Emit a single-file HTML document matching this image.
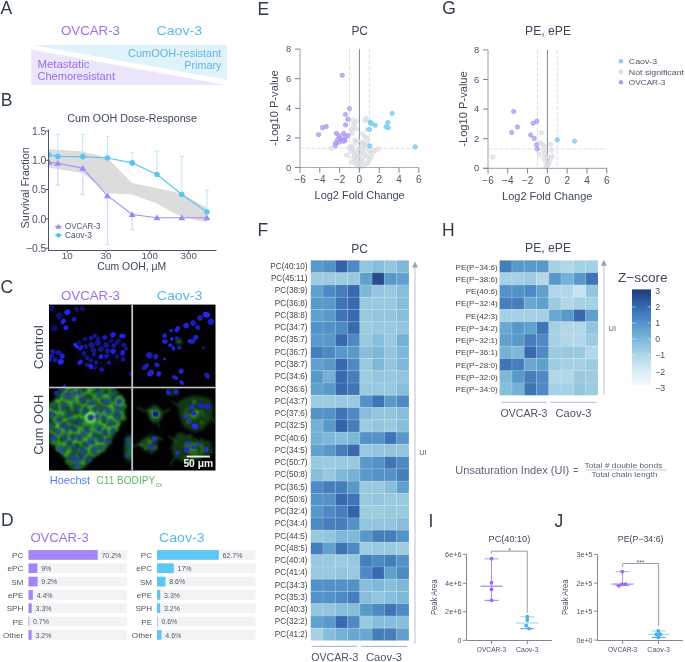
<!DOCTYPE html><html><head><meta charset="utf-8"><style>html,body{margin:0;padding:0;background:#fff;width:685px;height:662px;overflow:hidden}svg{display:block;will-change:transform}text{font-family:"Liberation Sans",sans-serif}</style></head><body><svg width="685" height="662" viewBox="0 0 685 662"><rect width="685" height="662" fill="#ffffff"/><text x="0.60" y="14.20" font-size="17.5" fill="#2f3a4b" >A</text>
<text x="0.80" y="105.80" font-size="17.5" fill="#2f3a4b" >B</text>
<text x="0.60" y="293.30" font-size="17.5" fill="#2f3a4b" >C</text>
<text x="0.90" y="526.00" font-size="17.5" fill="#2f3a4b" >D</text>
<text x="257.60" y="14.60" font-size="17.5" fill="#2f3a4b" >E</text>
<text x="257.50" y="236.10" font-size="17.5" fill="#2f3a4b" >F</text>
<text x="442.20" y="14.20" font-size="17.5" fill="#2f3a4b" >G</text>
<text x="442.00" y="236.10" font-size="17.5" fill="#2f3a4b" >H</text>
<text x="428.60" y="526.90" font-size="17.5" fill="#2f3a4b" >I</text>
<text x="554.60" y="527.20" font-size="17.5" fill="#2f3a4b" >J</text>
<polygon points="32.5,44.9 227.2,44.9 227.2,79.7" fill="#e0f2fa"/>
<polygon points="31.1,49.6 31.1,84.9 226.3,84.9" fill="#ebe6fc"/>
<text x="61.00" y="35.20" font-size="13.5" fill="#9d6ff2" textLength="59.00" lengthAdjust="spacingAndGlyphs" >OVCAR-3</text>
<text x="156.60" y="35.20" font-size="13.5" fill="#5cb9e6" textLength="45.40" lengthAdjust="spacingAndGlyphs" >Caov-3</text>
<text x="221.40" y="56.90" font-size="11" fill="#62b5e6" text-anchor="end" textLength="93.40" lengthAdjust="spacingAndGlyphs" >CumOOH-resistant</text>
<text x="221.40" y="69.00" font-size="11" fill="#62b5e6" text-anchor="end" textLength="37.10" lengthAdjust="spacingAndGlyphs" >Primary</text>
<text x="37.40" y="67.50" font-size="11" fill="#9a6cf0" textLength="52.00" lengthAdjust="spacingAndGlyphs" >Metastatic</text>
<text x="37.40" y="79.60" font-size="11" fill="#9a6cf0" textLength="77.60" lengthAdjust="spacingAndGlyphs" >Chemoresistant</text>
<text x="67.30" y="121.90" font-size="10" fill="#3d4859" textLength="129.60" lengthAdjust="spacingAndGlyphs" >Cum OOH Dose-Response</text>
<defs><clipPath id="cB"><rect x="48.6" y="120" width="175" height="130"/></clipPath></defs><g clip-path="url(#cB)">
<polygon points="48.3,149.2 82.8,151.6 107.5,158 132,183 181,193.3 207,207.7 207,222.2 181,216.8 156.5,203.3 132,194.4 107.6,193.3 82.8,173 48.3,167.5" fill="#dcdcdc"/>
<line x1="57.8" y1="163.3" x2="57.8" y2="185.1" stroke="#d2c4fb" stroke-width="0.9"/>
<line x1="55.599999999999994" y1="185.1" x2="60.0" y2="185.1" stroke="#d2c4fb" stroke-width="0.9"/>
<line x1="82.8" y1="168.2" x2="82.8" y2="194.4" stroke="#d2c4fb" stroke-width="0.9"/>
<line x1="80.6" y1="194.4" x2="85.0" y2="194.4" stroke="#d2c4fb" stroke-width="0.9"/>
<line x1="107.4" y1="195.7" x2="107.4" y2="244.7" stroke="#d2c4fb" stroke-width="0.9"/>
<line x1="105.2" y1="244.7" x2="109.60000000000001" y2="244.7" stroke="#d2c4fb" stroke-width="0.9"/>
<line x1="132.2" y1="214.5" x2="132.2" y2="229.6" stroke="#d2c4fb" stroke-width="0.9"/>
<line x1="130.0" y1="229.6" x2="134.39999999999998" y2="229.6" stroke="#d2c4fb" stroke-width="0.9"/>
<line x1="57.8" y1="156.4" x2="57.8" y2="134.4" stroke="#b5e3f8" stroke-width="0.9"/>
<line x1="55.599999999999994" y1="134.4" x2="60.0" y2="134.4" stroke="#b5e3f8" stroke-width="0.9"/>
<line x1="82.8" y1="156.6" x2="82.8" y2="134.4" stroke="#b5e3f8" stroke-width="0.9"/>
<line x1="80.6" y1="134.4" x2="85.0" y2="134.4" stroke="#b5e3f8" stroke-width="0.9"/>
<line x1="107.4" y1="158" x2="107.4" y2="136.3" stroke="#b5e3f8" stroke-width="0.9"/>
<line x1="105.2" y1="136.3" x2="109.60000000000001" y2="136.3" stroke="#b5e3f8" stroke-width="0.9"/>
<line x1="132.2" y1="162.9" x2="132.2" y2="152.3" stroke="#b5e3f8" stroke-width="0.9"/>
<line x1="130.0" y1="152.3" x2="134.39999999999998" y2="152.3" stroke="#b5e3f8" stroke-width="0.9"/>
<line x1="157" y1="174.5" x2="157" y2="151.3" stroke="#b5e3f8" stroke-width="0.9"/>
<line x1="154.8" y1="151.3" x2="159.2" y2="151.3" stroke="#b5e3f8" stroke-width="0.9"/>
<line x1="181.8" y1="194.5" x2="181.8" y2="156.4" stroke="#b5e3f8" stroke-width="0.9"/>
<line x1="179.60000000000002" y1="156.4" x2="184.0" y2="156.4" stroke="#b5e3f8" stroke-width="0.9"/>
<line x1="206.9" y1="212" x2="206.9" y2="190.2" stroke="#b5e3f8" stroke-width="0.9"/>
<line x1="204.70000000000002" y1="190.2" x2="209.1" y2="190.2" stroke="#b5e3f8" stroke-width="0.9"/>
<polyline points="49,162.3 57.8,163.3 82.8,168.2 107.4,195.7 132.2,214.5 157,217.7 181.8,217.7 206.9,217.7" fill="none" stroke="#a88af7" stroke-width="1.1"/>
<polyline points="49,155 57.8,156.4 82.8,156.6 107.4,158 132.2,162.9 157,174.5 181.8,194.5 206.9,212" fill="none" stroke="#5cc4f2" stroke-width="1.1"/>
<polygon points="49.00,159.00 52.47,164.78 45.53,164.78" fill="#a584f7"/>
<polygon points="57.80,160.00 61.27,165.78 54.33,165.78" fill="#a584f7"/>
<polygon points="82.80,164.90 86.27,170.67 79.33,170.67" fill="#a584f7"/>
<polygon points="107.40,192.40 110.87,198.17 103.94,198.17" fill="#a584f7"/>
<polygon points="132.20,211.20 135.66,216.97 128.73,216.97" fill="#a584f7"/>
<polygon points="157.00,214.40 160.47,220.17 153.53,220.17" fill="#a584f7"/>
<polygon points="181.80,214.40 185.27,220.17 178.34,220.17" fill="#a584f7"/>
<polygon points="206.90,214.40 210.37,220.17 203.44,220.17" fill="#a584f7"/>
<circle cx="49" cy="155" r="2.8" fill="#5cc4f2"/>
<circle cx="57.8" cy="156.4" r="2.8" fill="#5cc4f2"/>
<circle cx="82.8" cy="156.6" r="2.8" fill="#5cc4f2"/>
<circle cx="107.4" cy="158" r="2.8" fill="#5cc4f2"/>
<circle cx="132.2" cy="162.9" r="2.8" fill="#5cc4f2"/>
<circle cx="157" cy="174.5" r="2.8" fill="#5cc4f2"/>
<circle cx="181.8" cy="194.5" r="2.8" fill="#5cc4f2"/>
<circle cx="206.9" cy="212" r="2.8" fill="#5cc4f2"/>
</g>
<line x1="48.5" y1="129.5" x2="48.5" y2="250.8" stroke="#4a5466" stroke-width="1"/>
<line x1="48.5" y1="250.5" x2="216.5" y2="250.5" stroke="#4a5466" stroke-width="1"/>
<line x1="45.8" y1="131.00" x2="48.5" y2="131.00" stroke="#4a5466" stroke-width="1"/>
<text x="46.40" y="134.70" font-size="10.4" fill="#4a5466" text-anchor="end" >1.5</text>
<line x1="45.8" y1="160.30" x2="48.5" y2="160.30" stroke="#4a5466" stroke-width="1"/>
<text x="46.40" y="164.00" font-size="10.4" fill="#4a5466" text-anchor="end" >1.0</text>
<line x1="45.8" y1="189.60" x2="48.5" y2="189.60" stroke="#4a5466" stroke-width="1"/>
<text x="46.40" y="193.30" font-size="10.4" fill="#4a5466" text-anchor="end" >0.5</text>
<line x1="45.8" y1="218.90" x2="48.5" y2="218.90" stroke="#4a5466" stroke-width="1"/>
<text x="46.40" y="222.60" font-size="10.4" fill="#4a5466" text-anchor="end" >0.0</text>
<line x1="45.8" y1="248.20" x2="48.5" y2="248.20" stroke="#4a5466" stroke-width="1"/>
<text x="46.40" y="251.90" font-size="10.4" fill="#4a5466" text-anchor="end" >−0.5</text>
<line x1="67.2" y1="250.2" x2="67.2" y2="252.7" stroke="#4a5466" stroke-width="1"/>
<text x="67.20" y="258.90" font-size="9.8" fill="#4a5466" text-anchor="middle" >10</text>
<line x1="106" y1="250.2" x2="106" y2="252.7" stroke="#4a5466" stroke-width="1"/>
<text x="106.00" y="258.90" font-size="9.8" fill="#4a5466" text-anchor="middle" >30</text>
<line x1="149.7" y1="250.2" x2="149.7" y2="252.7" stroke="#4a5466" stroke-width="1"/>
<text x="149.70" y="258.90" font-size="9.8" fill="#4a5466" text-anchor="middle" >100</text>
<line x1="188.7" y1="250.2" x2="188.7" y2="252.7" stroke="#4a5466" stroke-width="1"/>
<text x="188.70" y="258.90" font-size="9.8" fill="#4a5466" text-anchor="middle" >300</text>
<text x="97.30" y="270.40" font-size="10.5" fill="#3d4859" textLength="68.80" lengthAdjust="spacingAndGlyphs" >Cum OOH, μM</text>
<text x="29.00" y="187.80" font-size="11" fill="#3d4859" text-anchor="middle" textLength="81.30" lengthAdjust="spacingAndGlyphs" transform="rotate(-90 29.00 187.80)" >Survival Fraction</text>
<line x1="55" y1="226.4" x2="62" y2="226.4" stroke="#a88af7" stroke-width="1.1"/>
<polygon points="58.40,223.80 61.34,228.70 55.46,228.70" fill="#a584f7"/>
<text x="65.00" y="229.30" font-size="9" fill="#4a5466" textLength="35.30" lengthAdjust="spacingAndGlyphs" >OVCAR-3</text>
<line x1="55" y1="235.3" x2="62" y2="235.3" stroke="#5cc4f2" stroke-width="1.1"/>
<circle cx="58.4" cy="235.3" r="2.3" fill="#5cc4f2"/>
<text x="65.00" y="238.40" font-size="9" fill="#4a5466" textLength="26.80" lengthAdjust="spacingAndGlyphs" >Caov-3</text>
<text x="61.00" y="299.60" font-size="13.5" fill="#9d6ff2" textLength="59.00" lengthAdjust="spacingAndGlyphs" >OVCAR-3</text>
<text x="156.80" y="299.50" font-size="13.5" fill="#5cb9e6" textLength="45.60" lengthAdjust="spacingAndGlyphs" >Caov-3</text>
<text x="43.10" y="347.20" font-size="13.5" fill="#3d4859" text-anchor="middle" textLength="44.30" lengthAdjust="spacingAndGlyphs" transform="rotate(-90 43.10 347.20)" >Control</text>
<text x="43.10" y="424.70" font-size="13.5" fill="#3d4859" text-anchor="middle" textLength="60.00" lengthAdjust="spacingAndGlyphs" transform="rotate(-90 43.10 424.70)" >Cum OOH</text>
<defs><filter id="b0" x="-50%" y="-50%" width="200%" height="200%"><feGaussianBlur stdDeviation="0.5"/></filter><filter id="b1" x="-50%" y="-50%" width="200%" height="200%"><feGaussianBlur stdDeviation="0.85"/></filter><filter id="b2" x="-50%" y="-50%" width="200%" height="200%"><feGaussianBlur stdDeviation="1.6"/></filter><filter id="b3" x="-20%" y="-20%" width="140%" height="140%"><feGaussianBlur stdDeviation="2.5"/></filter><filter id="b4" x="-30%" y="-30%" width="160%" height="160%"><feGaussianBlur stdDeviation="4"/></filter><clipPath id="c1"><rect x="49" y="304.6" width="83" height="82.9"/></clipPath><clipPath id="c2"><rect x="132.2" y="304.6" width="83.3" height="82.9"/></clipPath><clipPath id="c3"><rect x="49" y="387.5" width="83" height="83"/></clipPath><clipPath id="c4"><rect x="132.2" y="387.5" width="83.3" height="83"/></clipPath></defs>
<rect x="49" y="304.6" width="166.5" height="165.9" fill="#010103"/>
<g clip-path="url(#c1)" filter="url(#b4)" opacity="0.3"><ellipse cx="101" cy="351.6" rx="26" ry="18" fill="#0a0a40"/><ellipse cx="61" cy="320.6" rx="12" ry="12" fill="#08083a"/><ellipse cx="57" cy="355.6" rx="9" ry="8" fill="#0a0a3a"/></g>
<g clip-path="url(#c1)" filter="url(#b0)">
<ellipse cx="67.4" cy="312.2" rx="3.14" ry="2.69" fill="rgb(38, 38, 240)" fill-opacity="1.0" transform="rotate(-32 67.4 312.2)"/>
<ellipse cx="63.2" cy="321.4" rx="2.91" ry="2.24" fill="rgb(36, 36, 228)" fill-opacity="1.0" transform="rotate(-48 63.2 321.4)"/>
<ellipse cx="74.1" cy="319.2" rx="2.46" ry="2.02" fill="rgb(31, 31, 197)" fill-opacity="1.0" transform="rotate(-12 74.1 319.2)"/>
<ellipse cx="65.9" cy="327.7" rx="2.46" ry="2.24" fill="rgb(36, 36, 228)" fill-opacity="1.0" transform="rotate(-41 65.9 327.7)"/>
<ellipse cx="59.2" cy="315.8" rx="3.36" ry="3.14" fill="rgb(16, 16, 109)" fill-opacity="1.0" transform="rotate(-52 59.2 315.8)"/>
<ellipse cx="54.1" cy="328.1" rx="3.36" ry="2.80" fill="rgb(16, 16, 109)" fill-opacity="1.0" transform="rotate(-12 54.1 328.1)"/>
<ellipse cx="76.3" cy="309.0" rx="2.80" ry="2.24" fill="rgb(16, 16, 109)" fill-opacity="1.0" transform="rotate(50 76.3 309.0)"/>
<ellipse cx="82.6" cy="308.7" rx="2.80" ry="2.24" fill="rgb(17, 17, 116)" fill-opacity="1.0" transform="rotate(36 82.6 308.7)"/>
<ellipse cx="51.5" cy="308.4" rx="2.80" ry="2.80" fill="rgb(16, 16, 109)" fill-opacity="1.0" transform="rotate(32 51.5 308.4)"/>
<ellipse cx="113.1" cy="334.7" rx="2.91" ry="2.46" fill="rgb(34, 34, 218)" fill-opacity="1.0" transform="rotate(-33 113.1 334.7)"/>
<ellipse cx="122.4" cy="336.1" rx="3.36" ry="2.24" fill="rgb(36, 36, 228)" fill-opacity="1.0" transform="rotate(4 122.4 336.1)"/>
<ellipse cx="104.8" cy="337.6" rx="2.80" ry="2.24" fill="rgb(27, 27, 177)" fill-opacity="1.0" transform="rotate(-27 104.8 337.6)"/>
<ellipse cx="94.7" cy="335.7" rx="2.46" ry="2.24" fill="rgb(21, 21, 140)" fill-opacity="1.0" transform="rotate(-39 94.7 335.7)"/>
<ellipse cx="90.9" cy="338.2" rx="2.24" ry="2.02" fill="rgb(24, 24, 158)" fill-opacity="1.0" transform="rotate(-47 90.9 338.2)"/>
<ellipse cx="85.2" cy="338.9" rx="2.24" ry="2.02" fill="rgb(20, 20, 132)" fill-opacity="1.0" transform="rotate(-34 85.2 338.9)"/>
<ellipse cx="75.9" cy="345.5" rx="3.14" ry="2.13" fill="rgb(38, 38, 240)" fill-opacity="1.0" transform="rotate(51 75.9 345.5)"/>
<ellipse cx="80.7" cy="347.7" rx="2.24" ry="2.80" fill="rgb(31, 31, 197)" fill-opacity="1.0" transform="rotate(39 80.7 347.7)"/>
<ellipse cx="85.8" cy="346.5" rx="2.46" ry="2.24" fill="rgb(21, 21, 140)" fill-opacity="1.0" transform="rotate(37 85.8 346.5)"/>
<ellipse cx="91.5" cy="345.2" rx="3.14" ry="2.91" fill="rgb(20, 20, 132)" fill-opacity="1.0" transform="rotate(36 91.5 345.2)"/>
<ellipse cx="97.9" cy="342.7" rx="3.14" ry="2.91" fill="rgb(21, 21, 140)" fill-opacity="1.0" transform="rotate(-37 97.9 342.7)"/>
<ellipse cx="106.1" cy="345.2" rx="2.80" ry="2.80" fill="rgb(21, 21, 140)" fill-opacity="1.0" transform="rotate(-23 106.1 345.2)"/>
<ellipse cx="113.7" cy="345.8" rx="2.46" ry="2.46" fill="rgb(20, 20, 132)" fill-opacity="1.0" transform="rotate(15 113.7 345.8)"/>
<ellipse cx="123.9" cy="345.2" rx="2.46" ry="2.46" fill="rgb(21, 21, 140)" fill-opacity="1.0" transform="rotate(28 123.9 345.2)"/>
<ellipse cx="83.9" cy="353.5" rx="2.24" ry="2.24" fill="rgb(21, 21, 140)" fill-opacity="1.0" transform="rotate(43 83.9 353.5)"/>
<ellipse cx="93.4" cy="350.3" rx="2.91" ry="2.69" fill="rgb(20, 20, 132)" fill-opacity="1.0" transform="rotate(46 93.4 350.3)"/>
<ellipse cx="101.0" cy="349.0" rx="2.80" ry="2.80" fill="rgb(20, 20, 132)" fill-opacity="1.0" transform="rotate(-50 101.0 349.0)"/>
<ellipse cx="107.4" cy="350.9" rx="2.46" ry="2.46" fill="rgb(24, 24, 158)" fill-opacity="1.0" transform="rotate(13 107.4 350.9)"/>
<ellipse cx="113.1" cy="351.3" rx="2.80" ry="2.58" fill="rgb(34, 34, 218)" fill-opacity="1.0" transform="rotate(21 113.1 351.3)"/>
<ellipse cx="122.6" cy="352.8" rx="2.24" ry="2.91" fill="rgb(34, 34, 218)" fill-opacity="1.0" transform="rotate(1 122.6 352.8)"/>
<ellipse cx="101.0" cy="356.6" rx="2.58" ry="2.24" fill="rgb(36, 36, 228)" fill-opacity="1.0" transform="rotate(-39 101.0 356.6)"/>
<ellipse cx="106.7" cy="356.0" rx="2.46" ry="2.46" fill="rgb(24, 24, 158)" fill-opacity="1.0" transform="rotate(-3 106.7 356.0)"/>
<ellipse cx="87.1" cy="357.9" rx="2.24" ry="2.24" fill="rgb(20, 20, 132)" fill-opacity="1.0" transform="rotate(-49 87.1 357.9)"/>
<ellipse cx="90.9" cy="360.4" rx="2.24" ry="2.24" fill="rgb(20, 20, 132)" fill-opacity="1.0" transform="rotate(52 90.9 360.4)"/>
<ellipse cx="80.1" cy="362.3" rx="2.24" ry="2.91" fill="rgb(34, 34, 218)" fill-opacity="1.0" transform="rotate(44 80.1 362.3)"/>
<ellipse cx="87.1" cy="364.9" rx="2.24" ry="2.24" fill="rgb(21, 21, 140)" fill-opacity="1.0" transform="rotate(6 87.1 364.9)"/>
<ellipse cx="90.9" cy="366.5" rx="2.46" ry="2.69" fill="rgb(34, 34, 218)" fill-opacity="1.0" transform="rotate(-24 90.9 366.5)"/>
<ellipse cx="101.7" cy="369.6" rx="2.46" ry="2.24" fill="rgb(24, 24, 158)" fill-opacity="1.0" transform="rotate(49 101.7 369.6)"/>
<ellipse cx="123.2" cy="359.2" rx="2.46" ry="2.46" fill="rgb(21, 21, 140)" fill-opacity="1.0" transform="rotate(9 123.2 359.2)"/>
<ellipse cx="96.0" cy="362.6" rx="2.24" ry="2.24" fill="rgb(19, 19, 124)" fill-opacity="1.0" transform="rotate(46 96.0 362.6)"/>
<ellipse cx="94.0" cy="354.6" rx="2.24" ry="2.24" fill="rgb(19, 19, 124)" fill-opacity="1.0" transform="rotate(42 94.0 354.6)"/>
<ellipse cx="52.8" cy="351.6" rx="2.91" ry="2.46" fill="rgb(24, 24, 158)" fill-opacity="1.0" transform="rotate(1 52.8 351.6)"/>
<ellipse cx="58.5" cy="352.8" rx="2.69" ry="2.46" fill="rgb(24, 24, 158)" fill-opacity="1.0" transform="rotate(-10 58.5 352.8)"/>
<ellipse cx="62.3" cy="356.0" rx="2.46" ry="2.46" fill="rgb(36, 36, 228)" fill-opacity="1.0" transform="rotate(12 62.3 356.0)"/>
<ellipse cx="51.5" cy="356.0" rx="2.46" ry="2.24" fill="rgb(24, 24, 158)" fill-opacity="1.0" transform="rotate(-8 51.5 356.0)"/>
<ellipse cx="55.3" cy="359.8" rx="2.46" ry="2.24" fill="rgb(24, 24, 158)" fill-opacity="1.0" transform="rotate(-41 55.3 359.8)"/>
<ellipse cx="60.7" cy="361.7" rx="3.14" ry="2.69" fill="rgb(38, 38, 240)" fill-opacity="1.0" transform="rotate(-23 60.7 361.7)"/>
<ellipse cx="49.6" cy="359.8" rx="2.02" ry="2.46" fill="rgb(27, 27, 177)" fill-opacity="1.0" transform="rotate(38 49.6 359.8)"/>
<ellipse cx="64.2" cy="386.5" rx="2.46" ry="1.68" fill="rgb(27, 27, 177)" fill-opacity="1.0" transform="rotate(-55 64.2 386.5)"/>
<ellipse cx="130.9" cy="373.8" rx="1.68" ry="2.24" fill="rgb(21, 21, 140)" fill-opacity="1.0" transform="rotate(-54 130.9 373.8)"/>
<ellipse cx="109.0" cy="362.6" rx="2.24" ry="2.24" fill="rgb(19, 19, 124)" fill-opacity="1.0" transform="rotate(15 109.0 362.6)"/>
<ellipse cx="117.0" cy="342.6" rx="2.24" ry="2.24" fill="rgb(19, 19, 124)" fill-opacity="1.0" transform="rotate(-26 117.0 342.6)"/>
<ellipse cx="119.0" cy="340.6" rx="2.24" ry="2.24" fill="rgb(17, 17, 116)" fill-opacity="1.0" transform="rotate(4 119.0 340.6)"/>
<ellipse cx="111.0" cy="340.6" rx="2.24" ry="2.24" fill="rgb(17, 17, 116)" fill-opacity="1.0" transform="rotate(-3 111.0 340.6)"/>
<ellipse cx="98.0" cy="338.6" rx="2.24" ry="2.24" fill="rgb(19, 19, 124)" fill-opacity="1.0" transform="rotate(-19 98.0 338.6)"/>
<ellipse cx="79.0" cy="342.6" rx="2.24" ry="2.24" fill="rgb(17, 17, 116)" fill-opacity="1.0" transform="rotate(60 79.0 342.6)"/>
<ellipse cx="126.0" cy="348.6" rx="2.24" ry="2.24" fill="rgb(19, 19, 124)" fill-opacity="1.0" transform="rotate(-37 126.0 348.6)"/>
<ellipse cx="117.0" cy="356.6" rx="2.24" ry="2.24" fill="rgb(17, 17, 116)" fill-opacity="1.0" transform="rotate(-10 117.0 356.6)"/>
<ellipse cx="95.0" cy="367.6" rx="2.24" ry="2.24" fill="rgb(17, 17, 116)" fill-opacity="1.0" transform="rotate(-36 95.0 367.6)"/>
</g>
<ellipse cx="178.9" cy="341.4" rx="3" ry="3" fill="#1c5a24" filter="url(#b2)"/>
<g clip-path="url(#c2)" filter="url(#b0)">
<ellipse cx="206.4" cy="314.8" rx="3.80" ry="2.85" fill="rgb(38, 38, 240)" fill-opacity="1.0" transform="rotate(15 206.4 314.8)"/>
<ellipse cx="200.1" cy="317.9" rx="2.85" ry="2.85" fill="rgb(31, 31, 197)" fill-opacity="1.0" transform="rotate(29 200.1 317.9)"/>
<ellipse cx="210.9" cy="321.7" rx="3.32" ry="3.32" fill="rgb(29, 29, 186)" fill-opacity="1.0" transform="rotate(35 210.9 321.7)"/>
<ellipse cx="193.1" cy="323.0" rx="2.85" ry="2.85" fill="rgb(29, 29, 186)" fill-opacity="1.0" transform="rotate(53 193.1 323.0)"/>
<ellipse cx="186.1" cy="325.5" rx="2.85" ry="2.85" fill="rgb(32, 32, 207)" fill-opacity="1.0" transform="rotate(29 186.1 325.5)"/>
<ellipse cx="197.6" cy="327.4" rx="2.85" ry="2.38" fill="rgb(26, 26, 167)" fill-opacity="1.0" transform="rotate(51 197.6 327.4)"/>
<ellipse cx="177.3" cy="329.3" rx="3.32" ry="2.38" fill="rgb(32, 32, 207)" fill-opacity="1.0" transform="rotate(-57 177.3 329.3)"/>
<ellipse cx="170.9" cy="330.6" rx="2.38" ry="1.90" fill="rgb(26, 26, 167)" fill-opacity="1.0" transform="rotate(-4 170.9 330.6)"/>
<ellipse cx="164.6" cy="335.7" rx="2.38" ry="2.38" fill="rgb(32, 32, 207)" fill-opacity="1.0" transform="rotate(53 164.6 335.7)"/>
<ellipse cx="164.9" cy="341.4" rx="2.85" ry="2.38" fill="rgb(32, 32, 207)" fill-opacity="1.0" transform="rotate(18 164.9 341.4)"/>
<ellipse cx="171.8" cy="338.9" rx="1.90" ry="1.90" fill="rgb(36, 36, 228)" fill-opacity="1.0" transform="rotate(48 171.8 338.9)"/>
<ellipse cx="176.6" cy="338.2" rx="1.90" ry="1.90" fill="rgb(29, 29, 186)" fill-opacity="1.0" transform="rotate(-46 176.6 338.2)"/>
<ellipse cx="170.3" cy="345.2" rx="2.38" ry="1.90" fill="rgb(32, 32, 207)" fill-opacity="1.0" transform="rotate(-4 170.3 345.2)"/>
<ellipse cx="173.4" cy="348.4" rx="1.90" ry="2.38" fill="rgb(32, 32, 207)" fill-opacity="1.0" transform="rotate(-30 173.4 348.4)"/>
<ellipse cx="179.4" cy="347.7" rx="2.38" ry="1.90" fill="rgb(29, 29, 186)" fill-opacity="1.0" transform="rotate(5 179.4 347.7)"/>
<ellipse cx="191.2" cy="341.4" rx="3.80" ry="2.38" fill="rgb(32, 32, 207)" fill-opacity="1.0" transform="rotate(9 191.2 341.4)"/>
<ellipse cx="195.7" cy="337.6" rx="2.85" ry="2.38" fill="rgb(32, 32, 207)" fill-opacity="1.0" transform="rotate(-58 195.7 337.6)"/>
<ellipse cx="203.3" cy="347.7" rx="1.42" ry="1.90" fill="rgb(20, 20, 132)" fill-opacity="1.0" transform="rotate(-34 203.3 347.7)"/>
<ellipse cx="149.3" cy="355.4" rx="3.32" ry="3.32" fill="rgb(27, 27, 177)" fill-opacity="1.0" transform="rotate(-26 149.3 355.4)"/>
<ellipse cx="155.7" cy="356.6" rx="2.38" ry="2.85" fill="rgb(31, 31, 197)" fill-opacity="1.0" transform="rotate(50 155.7 356.6)"/>
<ellipse cx="164.6" cy="358.9" rx="1.42" ry="1.42" fill="rgb(36, 36, 228)" fill-opacity="1.0" transform="rotate(32 164.6 358.9)"/>
<ellipse cx="145.5" cy="366.8" rx="4.27" ry="2.38" fill="rgb(27, 27, 177)" fill-opacity="1.0" transform="rotate(-41 145.5 366.8)"/>
<ellipse cx="156.9" cy="364.9" rx="2.85" ry="2.38" fill="rgb(29, 29, 186)" fill-opacity="1.0" transform="rotate(36 156.9 364.9)"/>
<ellipse cx="150.6" cy="373.1" rx="3.80" ry="2.85" fill="rgb(32, 32, 207)" fill-opacity="1.0" transform="rotate(-43 150.6 373.1)"/>
<ellipse cx="158.8" cy="373.8" rx="2.38" ry="2.85" fill="rgb(32, 32, 207)" fill-opacity="1.0" transform="rotate(14 158.8 373.8)"/>
<ellipse cx="181.1" cy="371.2" rx="2.85" ry="2.38" fill="rgb(32, 32, 207)" fill-opacity="1.0" transform="rotate(-45 181.1 371.2)"/>
<ellipse cx="175.3" cy="377.6" rx="1.90" ry="3.32" fill="rgb(32, 32, 207)" fill-opacity="1.0" transform="rotate(-60 175.3 377.6)"/>
<ellipse cx="181.7" cy="382.6" rx="2.85" ry="1.90" fill="rgb(32, 32, 207)" fill-opacity="1.0" transform="rotate(45 181.7 382.6)"/>
<ellipse cx="207.1" cy="375.7" rx="2.38" ry="3.32" fill="rgb(29, 29, 186)" fill-opacity="1.0" transform="rotate(-35 207.1 375.7)"/>
<ellipse cx="132.7" cy="371.6" rx="0.95" ry="1.90" fill="rgb(21, 21, 140)" fill-opacity="1.0" transform="rotate(-34 132.7 371.6)"/>
</g>
<g clip-path="url(#c3)">
<polygon points="65.0,384.5 113.0,384.5 120.0,395.5 125.0,400.5 125.0,415.5 118.0,427.5 113.0,437.5 110.0,444.5 102.0,451.5 93.0,458.5 86.0,466.5 79.0,470.5 71.0,469.5 66.0,459.5 58.0,449.5 52.0,444.5 46.0,442.5 46.0,404.5 55.0,400.5 65.0,384.5" fill="#155c22" filter="url(#b2)"/>
<ellipse cx="130" cy="448.5" rx="5" ry="13" fill="#1a6a26" filter="url(#b3)"/>
<g filter="url(#b1)">
<circle cx="83.2" cy="432.5" r="3.0" fill="rgb(63,174,51)" fill-opacity="0.56"/>
<circle cx="62.2" cy="453.0" r="2.2" fill="rgb(46,193,38)" fill-opacity="0.43"/>
<circle cx="58.3" cy="430.8" r="3.0" fill="rgb(73,120,47)" fill-opacity="0.59"/>
<circle cx="99.3" cy="437.2" r="1.5" fill="rgb(68,116,37)" fill-opacity="0.32"/>
<circle cx="62.2" cy="405.8" r="1.3" fill="rgb(55,174,49)" fill-opacity="0.48"/>
<circle cx="62.6" cy="405.1" r="1.8" fill="rgb(40,115,49)" fill-opacity="0.50"/>
<circle cx="79.5" cy="431.8" r="3.1" fill="rgb(51,125,45)" fill-opacity="0.53"/>
<circle cx="88.0" cy="388.0" r="2.3" fill="rgb(60,128,38)" fill-opacity="0.55"/>
<circle cx="77.9" cy="466.0" r="2.9" fill="rgb(48,115,41)" fill-opacity="0.58"/>
<circle cx="51.2" cy="417.0" r="2.6" fill="rgb(39,168,53)" fill-opacity="0.49"/>
<circle cx="109.3" cy="408.2" r="1.4" fill="rgb(35,157,65)" fill-opacity="0.42"/>
<circle cx="120.8" cy="396.8" r="2.6" fill="rgb(38,116,49)" fill-opacity="0.54"/>
<circle cx="61.2" cy="432.5" r="2.1" fill="rgb(43,139,48)" fill-opacity="0.49"/>
<circle cx="56.3" cy="420.8" r="1.6" fill="rgb(72,149,44)" fill-opacity="0.60"/>
<circle cx="93.2" cy="389.0" r="1.5" fill="rgb(51,171,35)" fill-opacity="0.53"/>
<circle cx="73.3" cy="410.4" r="1.3" fill="rgb(48,126,53)" fill-opacity="0.49"/>
<circle cx="48.2" cy="416.5" r="2.4" fill="rgb(72,131,50)" fill-opacity="0.55"/>
<circle cx="57.9" cy="417.9" r="2.5" fill="rgb(49,154,61)" fill-opacity="0.48"/>
<circle cx="105.0" cy="398.8" r="2.5" fill="rgb(47,185,56)" fill-opacity="0.59"/>
<circle cx="80.7" cy="394.2" r="1.3" fill="rgb(50,147,58)" fill-opacity="0.51"/>
<circle cx="67.6" cy="454.7" r="2.4" fill="rgb(68,152,40)" fill-opacity="0.58"/>
<circle cx="85.3" cy="440.4" r="2.4" fill="rgb(52,124,41)" fill-opacity="0.58"/>
<circle cx="68.5" cy="422.9" r="1.3" fill="rgb(53,137,46)" fill-opacity="0.46"/>
<circle cx="58.1" cy="423.3" r="1.9" fill="rgb(72,181,65)" fill-opacity="0.34"/>
<circle cx="97.9" cy="426.0" r="2.7" fill="rgb(43,155,37)" fill-opacity="0.32"/>
<circle cx="90.7" cy="447.4" r="3.0" fill="rgb(56,131,46)" fill-opacity="0.33"/>
<circle cx="84.9" cy="392.0" r="2.9" fill="rgb(66,118,53)" fill-opacity="0.30"/>
<circle cx="100.0" cy="417.4" r="1.2" fill="rgb(40,124,37)" fill-opacity="0.49"/>
<circle cx="105.3" cy="418.1" r="2.7" fill="rgb(64,189,49)" fill-opacity="0.44"/>
<circle cx="90.3" cy="429.1" r="2.2" fill="rgb(73,154,37)" fill-opacity="0.44"/>
<circle cx="65.4" cy="444.2" r="2.2" fill="rgb(66,193,43)" fill-opacity="0.57"/>
<circle cx="76.4" cy="397.5" r="2.4" fill="rgb(45,181,59)" fill-opacity="0.57"/>
<circle cx="99.8" cy="422.6" r="3.0" fill="rgb(60,156,56)" fill-opacity="0.38"/>
<circle cx="97.7" cy="453.0" r="2.7" fill="rgb(48,140,47)" fill-opacity="0.37"/>
<circle cx="120.7" cy="403.1" r="1.5" fill="rgb(37,159,57)" fill-opacity="0.32"/>
<circle cx="56.0" cy="425.1" r="3.1" fill="rgb(59,167,55)" fill-opacity="0.46"/>
<circle cx="100.8" cy="445.7" r="2.9" fill="rgb(63,194,45)" fill-opacity="0.32"/>
<circle cx="92.6" cy="411.5" r="2.8" fill="rgb(43,117,47)" fill-opacity="0.44"/>
<circle cx="66.0" cy="397.3" r="1.3" fill="rgb(42,195,49)" fill-opacity="0.33"/>
<circle cx="89.8" cy="439.3" r="1.9" fill="rgb(47,124,41)" fill-opacity="0.55"/>
<circle cx="67.5" cy="445.5" r="2.7" fill="rgb(37,183,40)" fill-opacity="0.37"/>
<circle cx="109.3" cy="430.8" r="3.1" fill="rgb(74,179,59)" fill-opacity="0.35"/>
<circle cx="64.9" cy="420.0" r="3.0" fill="rgb(43,164,49)" fill-opacity="0.44"/>
<circle cx="77.1" cy="433.3" r="3.0" fill="rgb(64,158,45)" fill-opacity="0.50"/>
<circle cx="63.4" cy="446.1" r="2.8" fill="rgb(48,130,42)" fill-opacity="0.57"/>
<circle cx="90.0" cy="451.9" r="1.8" fill="rgb(57,117,51)" fill-opacity="0.32"/>
<circle cx="82.3" cy="431.7" r="2.7" fill="rgb(36,177,41)" fill-opacity="0.54"/>
<circle cx="60.8" cy="413.6" r="2.8" fill="rgb(65,132,39)" fill-opacity="0.60"/>
<circle cx="101.2" cy="422.5" r="3.0" fill="rgb(40,189,59)" fill-opacity="0.37"/>
<circle cx="89.1" cy="409.9" r="2.7" fill="rgb(68,136,51)" fill-opacity="0.55"/>
<circle cx="91.8" cy="411.7" r="2.0" fill="rgb(48,193,44)" fill-opacity="0.56"/>
<circle cx="92.8" cy="402.4" r="2.3" fill="rgb(35,179,54)" fill-opacity="0.41"/>
<circle cx="90.1" cy="389.2" r="3.0" fill="rgb(71,184,38)" fill-opacity="0.45"/>
<circle cx="102.3" cy="391.0" r="2.3" fill="rgb(60,167,43)" fill-opacity="0.37"/>
<circle cx="86.4" cy="414.0" r="3.0" fill="rgb(68,175,45)" fill-opacity="0.33"/>
<circle cx="80.6" cy="388.0" r="1.7" fill="rgb(37,117,41)" fill-opacity="0.35"/>
<circle cx="47.9" cy="409.4" r="2.6" fill="rgb(74,146,50)" fill-opacity="0.33"/>
<circle cx="105.5" cy="395.8" r="2.2" fill="rgb(47,147,57)" fill-opacity="0.46"/>
<circle cx="81.9" cy="417.1" r="2.0" fill="rgb(74,182,40)" fill-opacity="0.46"/>
<circle cx="116.1" cy="430.4" r="1.6" fill="rgb(69,142,54)" fill-opacity="0.48"/>
<circle cx="97.2" cy="414.7" r="1.6" fill="rgb(55,192,63)" fill-opacity="0.58"/>
<circle cx="118.0" cy="396.8" r="1.7" fill="rgb(51,126,47)" fill-opacity="0.33"/>
<circle cx="113.6" cy="420.9" r="2.8" fill="rgb(47,131,47)" fill-opacity="0.49"/>
<circle cx="110.9" cy="393.6" r="2.3" fill="rgb(58,160,38)" fill-opacity="0.51"/>
<circle cx="97.8" cy="414.4" r="3.2" fill="rgb(39,139,50)" fill-opacity="0.33"/>
<circle cx="50.0" cy="431.8" r="2.2" fill="rgb(65,187,39)" fill-opacity="0.36"/>
<circle cx="56.2" cy="400.0" r="1.5" fill="rgb(41,151,53)" fill-opacity="0.32"/>
<circle cx="108.2" cy="413.0" r="2.1" fill="rgb(57,180,48)" fill-opacity="0.36"/>
<circle cx="76.9" cy="438.8" r="1.3" fill="rgb(46,140,48)" fill-opacity="0.44"/>
<circle cx="106.1" cy="419.5" r="1.6" fill="rgb(41,136,51)" fill-opacity="0.54"/>
<circle cx="72.9" cy="392.6" r="2.9" fill="rgb(60,195,53)" fill-opacity="0.48"/>
<circle cx="111.4" cy="407.2" r="3.0" fill="rgb(60,135,39)" fill-opacity="0.57"/>
<circle cx="79.5" cy="446.2" r="1.3" fill="rgb(54,158,50)" fill-opacity="0.33"/>
<circle cx="70.9" cy="403.6" r="2.0" fill="rgb(69,138,37)" fill-opacity="0.42"/>
<circle cx="103.1" cy="449.5" r="3.2" fill="rgb(42,117,54)" fill-opacity="0.33"/>
<circle cx="66.0" cy="422.8" r="2.2" fill="rgb(59,140,35)" fill-opacity="0.33"/>
<circle cx="67.1" cy="461.6" r="2.3" fill="rgb(61,180,65)" fill-opacity="0.46"/>
<circle cx="114.7" cy="393.9" r="2.1" fill="rgb(70,124,54)" fill-opacity="0.50"/>
<circle cx="123.4" cy="418.0" r="3.1" fill="rgb(65,164,40)" fill-opacity="0.56"/>
<circle cx="90.4" cy="435.6" r="2.1" fill="rgb(61,178,44)" fill-opacity="0.46"/>
<circle cx="94.8" cy="416.2" r="1.8" fill="rgb(70,149,64)" fill-opacity="0.39"/>
<circle cx="104.3" cy="410.4" r="1.2" fill="rgb(72,146,36)" fill-opacity="0.49"/>
<circle cx="79.7" cy="443.0" r="1.3" fill="rgb(60,155,36)" fill-opacity="0.47"/>
<circle cx="104.8" cy="412.3" r="2.8" fill="rgb(62,143,58)" fill-opacity="0.44"/>
<circle cx="124.9" cy="406.0" r="2.2" fill="rgb(44,174,65)" fill-opacity="0.55"/>
<circle cx="95.3" cy="395.2" r="2.4" fill="rgb(42,173,41)" fill-opacity="0.56"/>
<circle cx="75.5" cy="398.5" r="1.9" fill="rgb(61,132,49)" fill-opacity="0.48"/>
<circle cx="98.2" cy="442.8" r="1.9" fill="rgb(43,182,65)" fill-opacity="0.39"/>
<circle cx="57.3" cy="425.9" r="2.2" fill="rgb(67,154,54)" fill-opacity="0.55"/>
<circle cx="69.0" cy="436.7" r="2.7" fill="rgb(47,190,55)" fill-opacity="0.38"/>
<circle cx="87.2" cy="440.3" r="1.6" fill="rgb(75,120,36)" fill-opacity="0.30"/>
<circle cx="67.8" cy="387.8" r="1.3" fill="rgb(69,143,43)" fill-opacity="0.32"/>
<circle cx="53.9" cy="442.3" r="2.3" fill="rgb(58,195,50)" fill-opacity="0.44"/>
<circle cx="63.9" cy="414.4" r="2.7" fill="rgb(42,124,49)" fill-opacity="0.54"/>
<circle cx="96.9" cy="450.1" r="1.6" fill="rgb(51,169,47)" fill-opacity="0.54"/>
<circle cx="76.5" cy="440.4" r="3.2" fill="rgb(53,156,52)" fill-opacity="0.53"/>
<circle cx="113.1" cy="400.9" r="2.5" fill="rgb(41,189,49)" fill-opacity="0.56"/>
<circle cx="92.1" cy="426.2" r="2.6" fill="rgb(35,153,37)" fill-opacity="0.39"/>
<circle cx="102.6" cy="427.1" r="2.7" fill="rgb(53,156,63)" fill-opacity="0.34"/>
<circle cx="75.6" cy="446.5" r="1.9" fill="rgb(55,130,57)" fill-opacity="0.43"/>
<circle cx="102.0" cy="409.0" r="2.3" fill="rgb(64,154,45)" fill-opacity="0.37"/>
<circle cx="88.3" cy="392.6" r="2.9" fill="rgb(58,118,56)" fill-opacity="0.42"/>
<circle cx="78.0" cy="401.9" r="2.3" fill="rgb(69,164,39)" fill-opacity="0.55"/>
<circle cx="92.0" cy="400.3" r="2.7" fill="rgb(36,151,42)" fill-opacity="0.45"/>
<circle cx="90.5" cy="433.2" r="3.1" fill="rgb(39,169,53)" fill-opacity="0.46"/>
<circle cx="110.0" cy="392.6" r="1.4" fill="rgb(55,128,37)" fill-opacity="0.31"/>
<circle cx="99.3" cy="393.7" r="2.8" fill="rgb(50,169,57)" fill-opacity="0.37"/>
<circle cx="108.2" cy="429.3" r="2.7" fill="rgb(57,165,45)" fill-opacity="0.54"/>
<circle cx="73.6" cy="397.0" r="2.2" fill="rgb(74,124,64)" fill-opacity="0.31"/>
<circle cx="74.9" cy="385.8" r="2.0" fill="rgb(64,126,65)" fill-opacity="0.46"/>
<circle cx="48.9" cy="415.9" r="1.2" fill="rgb(61,129,64)" fill-opacity="0.43"/>
<circle cx="58.7" cy="447.8" r="3.2" fill="rgb(45,163,45)" fill-opacity="0.36"/>
<circle cx="81.0" cy="410.0" r="3.1" fill="rgb(65,122,44)" fill-opacity="0.52"/>
<circle cx="71.3" cy="398.6" r="3.0" fill="rgb(64,122,35)" fill-opacity="0.48"/>
<circle cx="55.7" cy="401.0" r="1.6" fill="rgb(73,145,57)" fill-opacity="0.44"/>
<circle cx="87.7" cy="422.6" r="3.0" fill="rgb(46,166,64)" fill-opacity="0.53"/>
<circle cx="71.9" cy="431.6" r="2.8" fill="rgb(51,176,50)" fill-opacity="0.57"/>
<circle cx="120.1" cy="414.2" r="2.3" fill="rgb(65,126,62)" fill-opacity="0.37"/>
<circle cx="111.1" cy="417.8" r="2.3" fill="rgb(52,181,60)" fill-opacity="0.60"/>
<circle cx="99.6" cy="405.5" r="1.2" fill="rgb(58,175,49)" fill-opacity="0.54"/>
<circle cx="104.1" cy="436.4" r="1.5" fill="rgb(55,135,39)" fill-opacity="0.38"/>
<circle cx="116.5" cy="428.9" r="2.5" fill="rgb(52,194,51)" fill-opacity="0.46"/>
<circle cx="59.1" cy="450.2" r="1.2" fill="rgb(43,134,37)" fill-opacity="0.41"/>
<circle cx="96.2" cy="429.8" r="3.0" fill="rgb(40,174,65)" fill-opacity="0.52"/>
<circle cx="90.5" cy="428.0" r="1.2" fill="rgb(61,139,41)" fill-opacity="0.58"/>
<circle cx="63.7" cy="431.1" r="2.3" fill="rgb(54,135,45)" fill-opacity="0.39"/>
<circle cx="53.1" cy="411.2" r="2.1" fill="rgb(58,123,37)" fill-opacity="0.51"/>
<circle cx="55.5" cy="418.6" r="2.1" fill="rgb(63,130,35)" fill-opacity="0.56"/>
<circle cx="103.9" cy="425.4" r="1.8" fill="rgb(64,129,59)" fill-opacity="0.30"/>
<circle cx="63.5" cy="437.2" r="1.8" fill="rgb(69,163,58)" fill-opacity="0.39"/>
<circle cx="74.0" cy="418.4" r="2.5" fill="rgb(47,147,41)" fill-opacity="0.41"/>
<circle cx="55.8" cy="411.5" r="1.7" fill="rgb(75,175,45)" fill-opacity="0.43"/>
<circle cx="77.6" cy="394.1" r="2.4" fill="rgb(75,131,57)" fill-opacity="0.35"/>
<circle cx="84.1" cy="444.6" r="1.4" fill="rgb(45,119,38)" fill-opacity="0.43"/>
<circle cx="108.7" cy="414.2" r="2.8" fill="rgb(43,180,55)" fill-opacity="0.36"/>
<circle cx="58.8" cy="443.6" r="2.2" fill="rgb(74,167,35)" fill-opacity="0.52"/>
<circle cx="96.0" cy="412.2" r="2.8" fill="rgb(73,146,51)" fill-opacity="0.31"/>
<circle cx="73.5" cy="414.2" r="2.5" fill="rgb(70,128,47)" fill-opacity="0.36"/>
<circle cx="73.6" cy="410.2" r="1.4" fill="rgb(51,135,59)" fill-opacity="0.46"/>
<circle cx="70.9" cy="405.1" r="2.4" fill="rgb(44,180,53)" fill-opacity="0.51"/>
<circle cx="97.2" cy="402.1" r="1.4" fill="rgb(65,146,53)" fill-opacity="0.43"/>
<circle cx="73.7" cy="393.2" r="2.9" fill="rgb(64,149,63)" fill-opacity="0.34"/>
<circle cx="91.9" cy="432.6" r="1.7" fill="rgb(73,157,39)" fill-opacity="0.34"/>
<circle cx="113.0" cy="409.7" r="3.0" fill="rgb(71,145,46)" fill-opacity="0.55"/>
<circle cx="61.8" cy="431.5" r="1.4" fill="rgb(60,119,40)" fill-opacity="0.53"/>
<circle cx="58.1" cy="449.0" r="2.9" fill="rgb(74,163,53)" fill-opacity="0.49"/>
<circle cx="108.1" cy="398.8" r="2.0" fill="rgb(44,119,51)" fill-opacity="0.42"/>
<circle cx="92.6" cy="400.1" r="2.2" fill="rgb(50,148,53)" fill-opacity="0.58"/>
<circle cx="79.3" cy="427.3" r="1.4" fill="rgb(61,159,63)" fill-opacity="0.49"/>
<circle cx="102.1" cy="449.2" r="2.7" fill="rgb(64,177,61)" fill-opacity="0.57"/>
<circle cx="122.1" cy="413.3" r="2.2" fill="rgb(36,168,45)" fill-opacity="0.57"/>
<circle cx="70.7" cy="437.3" r="2.1" fill="rgb(73,163,45)" fill-opacity="0.53"/>
<circle cx="71.4" cy="435.3" r="1.3" fill="rgb(63,130,42)" fill-opacity="0.45"/>
<circle cx="78.7" cy="389.9" r="2.6" fill="rgb(50,182,52)" fill-opacity="0.39"/>
<circle cx="78.6" cy="405.3" r="1.3" fill="rgb(69,162,48)" fill-opacity="0.47"/>
<circle cx="60.1" cy="440.1" r="2.0" fill="rgb(39,130,38)" fill-opacity="0.46"/>
<circle cx="93.1" cy="423.6" r="1.8" fill="rgb(36,153,45)" fill-opacity="0.35"/>
<circle cx="82.3" cy="423.3" r="2.3" fill="rgb(57,133,57)" fill-opacity="0.48"/>
<circle cx="118.9" cy="411.4" r="2.2" fill="rgb(48,175,41)" fill-opacity="0.39"/>
<circle cx="75.3" cy="425.2" r="1.5" fill="rgb(47,186,52)" fill-opacity="0.49"/>
<circle cx="105.1" cy="411.8" r="3.0" fill="rgb(43,168,45)" fill-opacity="0.51"/>
<circle cx="53.3" cy="404.3" r="1.8" fill="rgb(52,140,40)" fill-opacity="0.52"/>
<circle cx="87.1" cy="410.3" r="1.7" fill="rgb(42,182,53)" fill-opacity="0.45"/>
<circle cx="61.4" cy="404.5" r="1.5" fill="rgb(64,126,37)" fill-opacity="0.43"/>
<circle cx="89.3" cy="430.1" r="1.3" fill="rgb(72,191,44)" fill-opacity="0.46"/>
<circle cx="80.9" cy="433.3" r="1.5" fill="rgb(50,139,40)" fill-opacity="0.38"/>
<circle cx="90.8" cy="401.2" r="3.0" fill="rgb(74,119,49)" fill-opacity="0.57"/>
<circle cx="93.8" cy="385.7" r="3.0" fill="rgb(46,122,37)" fill-opacity="0.47"/>
<circle cx="98.6" cy="415.7" r="2.5" fill="rgb(68,119,44)" fill-opacity="0.45"/>
<circle cx="60.9" cy="451.0" r="1.5" fill="rgb(62,192,42)" fill-opacity="0.50"/>
<circle cx="90.8" cy="407.0" r="2.6" fill="rgb(51,145,50)" fill-opacity="0.46"/>
<circle cx="67.9" cy="402.5" r="3.1" fill="rgb(71,121,49)" fill-opacity="0.56"/>
<circle cx="61.4" cy="398.3" r="1.2" fill="rgb(62,178,51)" fill-opacity="0.43"/>
<circle cx="68.0" cy="452.6" r="1.3" fill="rgb(71,137,55)" fill-opacity="0.46"/>
<circle cx="110.3" cy="405.5" r="1.5" fill="rgb(62,154,36)" fill-opacity="0.51"/>
<circle cx="86.9" cy="440.1" r="2.2" fill="rgb(51,163,42)" fill-opacity="0.35"/>
<circle cx="109.9" cy="390.6" r="2.0" fill="rgb(48,161,57)" fill-opacity="0.59"/>
<circle cx="50.4" cy="426.6" r="2.7" fill="rgb(44,132,58)" fill-opacity="0.44"/>
<circle cx="106.6" cy="388.8" r="1.7" fill="rgb(44,182,37)" fill-opacity="0.42"/>
<circle cx="70.8" cy="421.2" r="1.4" fill="rgb(74,119,42)" fill-opacity="0.39"/>
<circle cx="80.5" cy="392.7" r="1.7" fill="rgb(56,154,65)" fill-opacity="0.59"/>
<circle cx="95.9" cy="388.8" r="2.0" fill="rgb(56,122,53)" fill-opacity="0.51"/>
<circle cx="117.9" cy="424.4" r="2.0" fill="rgb(59,142,47)" fill-opacity="0.53"/>
<circle cx="64.2" cy="414.7" r="1.6" fill="rgb(45,185,50)" fill-opacity="0.36"/>
<circle cx="64.2" cy="424.8" r="1.8" fill="rgb(66,172,55)" fill-opacity="0.50"/>
<circle cx="116.0" cy="402.7" r="2.0" fill="rgb(38,124,57)" fill-opacity="0.38"/>
<circle cx="88.5" cy="447.8" r="2.2" fill="rgb(48,187,43)" fill-opacity="0.33"/>
<circle cx="109.1" cy="397.0" r="1.7" fill="rgb(36,130,45)" fill-opacity="0.55"/>
<circle cx="83.0" cy="457.3" r="2.0" fill="rgb(68,147,56)" fill-opacity="0.32"/>
<circle cx="78.5" cy="405.5" r="1.3" fill="rgb(67,134,54)" fill-opacity="0.34"/>
<circle cx="63.7" cy="420.0" r="2.2" fill="rgb(68,132,57)" fill-opacity="0.46"/>
</g>
<g filter="url(#b1)">
<line x1="53.2" y1="420.2" x2="58.3" y2="413.1" stroke="rgb(110,233,82)" stroke-opacity="0.34" stroke-width="1.7"/>
<line x1="46.0" y1="407.8" x2="58.3" y2="413.1" stroke="rgb(103,222,87)" stroke-opacity="0.51" stroke-width="1.7"/>
<line x1="74.8" y1="384.5" x2="77.5" y2="398.0" stroke="rgb(115,213,82)" stroke-opacity="0.46" stroke-width="1.7"/>
<line x1="69.7" y1="384.5" x2="68.7" y2="387.6" stroke="rgb(112,219,73)" stroke-opacity="0.39" stroke-width="1.7"/>
<line x1="77.5" y1="398.0" x2="75.5" y2="401.0" stroke="rgb(112,218,74)" stroke-opacity="0.31" stroke-width="1.7"/>
<line x1="75.5" y1="401.0" x2="73.3" y2="401.4" stroke="rgb(91,235,88)" stroke-opacity="0.30" stroke-width="1.7"/>
<line x1="77.5" y1="398.0" x2="89.1" y2="391.4" stroke="rgb(109,209,76)" stroke-opacity="0.47" stroke-width="1.7"/>
<line x1="89.1" y1="391.4" x2="89.4" y2="384.5" stroke="rgb(112,212,81)" stroke-opacity="0.37" stroke-width="1.7"/>
<line x1="62.4" y1="394.9" x2="68.7" y2="387.6" stroke="rgb(130,221,72)" stroke-opacity="0.54" stroke-width="1.7"/>
<line x1="53.2" y1="420.2" x2="57.0" y2="425.2" stroke="rgb(97,230,85)" stroke-opacity="0.32" stroke-width="1.7"/>
<line x1="51.9" y1="431.5" x2="57.0" y2="425.6" stroke="rgb(114,226,79)" stroke-opacity="0.45" stroke-width="1.7"/>
<line x1="57.0" y1="425.2" x2="57.0" y2="425.6" stroke="rgb(107,219,75)" stroke-opacity="0.58" stroke-width="1.7"/>
<line x1="62.4" y1="394.9" x2="61.6" y2="399.4" stroke="rgb(102,235,75)" stroke-opacity="0.41" stroke-width="1.7"/>
<line x1="73.3" y1="401.4" x2="71.2" y2="402.9" stroke="rgb(105,238,72)" stroke-opacity="0.52" stroke-width="1.7"/>
<line x1="71.2" y1="402.9" x2="61.6" y2="399.4" stroke="rgb(117,214,85)" stroke-opacity="0.47" stroke-width="1.7"/>
<line x1="55.1" y1="400.4" x2="58.8" y2="400.9" stroke="rgb(125,224,70)" stroke-opacity="0.57" stroke-width="1.7"/>
<line x1="61.6" y1="399.4" x2="58.8" y2="400.9" stroke="rgb(97,228,72)" stroke-opacity="0.57" stroke-width="1.7"/>
<line x1="58.3" y1="413.1" x2="60.1" y2="412.5" stroke="rgb(107,208,82)" stroke-opacity="0.45" stroke-width="1.7"/>
<line x1="58.8" y1="400.9" x2="60.1" y2="412.5" stroke="rgb(127,224,85)" stroke-opacity="0.52" stroke-width="1.7"/>
<line x1="69.0" y1="439.2" x2="69.0" y2="433.1" stroke="rgb(106,209,70)" stroke-opacity="0.31" stroke-width="1.7"/>
<line x1="69.0" y1="439.2" x2="62.7" y2="443.4" stroke="rgb(110,228,88)" stroke-opacity="0.39" stroke-width="1.7"/>
<line x1="59.0" y1="437.4" x2="59.0" y2="442.2" stroke="rgb(101,235,82)" stroke-opacity="0.48" stroke-width="1.7"/>
<line x1="59.0" y1="437.4" x2="63.6" y2="432.0" stroke="rgb(113,206,88)" stroke-opacity="0.51" stroke-width="1.7"/>
<line x1="63.6" y1="432.0" x2="69.0" y2="433.1" stroke="rgb(103,209,90)" stroke-opacity="0.31" stroke-width="1.7"/>
<line x1="62.7" y1="443.4" x2="59.0" y2="442.2" stroke="rgb(124,231,89)" stroke-opacity="0.42" stroke-width="1.7"/>
<line x1="74.0" y1="442.5" x2="69.0" y2="439.2" stroke="rgb(107,209,84)" stroke-opacity="0.56" stroke-width="1.7"/>
<line x1="74.0" y1="442.5" x2="68.4" y2="451.0" stroke="rgb(114,229,71)" stroke-opacity="0.54" stroke-width="1.7"/>
<line x1="68.3" y1="451.0" x2="68.4" y2="451.0" stroke="rgb(122,222,79)" stroke-opacity="0.45" stroke-width="1.7"/>
<line x1="68.3" y1="451.0" x2="62.7" y2="443.4" stroke="rgb(120,206,74)" stroke-opacity="0.48" stroke-width="1.7"/>
<line x1="51.9" y1="431.5" x2="59.0" y2="437.4" stroke="rgb(107,219,78)" stroke-opacity="0.50" stroke-width="1.7"/>
<line x1="63.0" y1="430.6" x2="57.0" y2="425.6" stroke="rgb(105,238,70)" stroke-opacity="0.58" stroke-width="1.7"/>
<line x1="63.0" y1="430.6" x2="63.6" y2="432.0" stroke="rgb(115,205,77)" stroke-opacity="0.46" stroke-width="1.7"/>
<line x1="68.3" y1="451.0" x2="64.0" y2="457.0" stroke="rgb(125,210,89)" stroke-opacity="0.55" stroke-width="1.7"/>
<line x1="69.2" y1="433.0" x2="76.0" y2="433.8" stroke="rgb(111,221,81)" stroke-opacity="0.33" stroke-width="1.7"/>
<line x1="69.2" y1="433.0" x2="71.2" y2="425.9" stroke="rgb(91,225,76)" stroke-opacity="0.51" stroke-width="1.7"/>
<line x1="75.1" y1="425.0" x2="71.2" y2="425.9" stroke="rgb(100,217,75)" stroke-opacity="0.35" stroke-width="1.7"/>
<line x1="75.1" y1="425.0" x2="79.9" y2="428.4" stroke="rgb(129,236,88)" stroke-opacity="0.39" stroke-width="1.7"/>
<line x1="79.9" y1="428.4" x2="78.0" y2="432.5" stroke="rgb(116,223,81)" stroke-opacity="0.52" stroke-width="1.7"/>
<line x1="76.0" y1="433.8" x2="78.0" y2="432.5" stroke="rgb(124,236,77)" stroke-opacity="0.49" stroke-width="1.7"/>
<line x1="74.0" y1="442.5" x2="76.0" y2="442.1" stroke="rgb(113,225,75)" stroke-opacity="0.58" stroke-width="1.7"/>
<line x1="76.0" y1="442.1" x2="76.0" y2="433.8" stroke="rgb(98,209,72)" stroke-opacity="0.55" stroke-width="1.7"/>
<line x1="69.0" y1="433.1" x2="69.2" y2="433.0" stroke="rgb(109,212,84)" stroke-opacity="0.45" stroke-width="1.7"/>
<line x1="63.0" y1="430.6" x2="67.0" y2="422.4" stroke="rgb(120,207,75)" stroke-opacity="0.49" stroke-width="1.7"/>
<line x1="67.0" y1="422.4" x2="71.2" y2="425.9" stroke="rgb(116,235,71)" stroke-opacity="0.40" stroke-width="1.7"/>
<line x1="76.0" y1="442.1" x2="79.9" y2="443.6" stroke="rgb(115,237,82)" stroke-opacity="0.38" stroke-width="1.7"/>
<line x1="78.0" y1="432.5" x2="84.5" y2="439.0" stroke="rgb(130,221,81)" stroke-opacity="0.51" stroke-width="1.7"/>
<line x1="79.9" y1="443.6" x2="84.5" y2="439.0" stroke="rgb(110,216,80)" stroke-opacity="0.56" stroke-width="1.7"/>
<line x1="106.0" y1="394.4" x2="112.5" y2="402.0" stroke="rgb(103,213,88)" stroke-opacity="0.60" stroke-width="1.7"/>
<line x1="89.1" y1="391.4" x2="89.9" y2="393.7" stroke="rgb(98,222,75)" stroke-opacity="0.34" stroke-width="1.7"/>
<line x1="106.0" y1="394.4" x2="98.9" y2="400.6" stroke="rgb(114,223,77)" stroke-opacity="0.50" stroke-width="1.7"/>
<line x1="89.9" y1="393.7" x2="98.9" y2="400.6" stroke="rgb(90,235,88)" stroke-opacity="0.51" stroke-width="1.7"/>
<line x1="113.4" y1="411.4" x2="111.7" y2="405.6" stroke="rgb(98,222,78)" stroke-opacity="0.43" stroke-width="1.7"/>
<line x1="112.5" y1="404.1" x2="111.7" y2="405.6" stroke="rgb(130,230,82)" stroke-opacity="0.58" stroke-width="1.7"/>
<line x1="103.6" y1="413.6" x2="105.6" y2="406.8" stroke="rgb(98,208,75)" stroke-opacity="0.51" stroke-width="1.7"/>
<line x1="103.6" y1="413.6" x2="109.5" y2="417.0" stroke="rgb(97,207,76)" stroke-opacity="0.39" stroke-width="1.7"/>
<line x1="109.5" y1="417.0" x2="111.1" y2="416.6" stroke="rgb(124,212,82)" stroke-opacity="0.40" stroke-width="1.7"/>
<line x1="111.1" y1="416.6" x2="113.4" y2="411.4" stroke="rgb(91,239,85)" stroke-opacity="0.35" stroke-width="1.7"/>
<line x1="105.6" y1="406.8" x2="111.7" y2="405.6" stroke="rgb(94,224,84)" stroke-opacity="0.54" stroke-width="1.7"/>
<line x1="105.6" y1="406.8" x2="99.1" y2="402.7" stroke="rgb(108,219,82)" stroke-opacity="0.52" stroke-width="1.7"/>
<line x1="112.5" y1="402.0" x2="112.5" y2="404.1" stroke="rgb(116,214,88)" stroke-opacity="0.42" stroke-width="1.7"/>
<line x1="99.1" y1="402.7" x2="98.9" y2="400.6" stroke="rgb(103,239,79)" stroke-opacity="0.54" stroke-width="1.7"/>
<line x1="104.8" y1="425.2" x2="109.5" y2="417.0" stroke="rgb(99,233,75)" stroke-opacity="0.55" stroke-width="1.7"/>
<line x1="104.8" y1="425.2" x2="99.1" y2="422.3" stroke="rgb(125,221,85)" stroke-opacity="0.43" stroke-width="1.7"/>
<line x1="103.6" y1="413.6" x2="101.4" y2="414.4" stroke="rgb(99,225,70)" stroke-opacity="0.38" stroke-width="1.7"/>
<line x1="101.4" y1="414.4" x2="99.1" y2="422.3" stroke="rgb(126,214,78)" stroke-opacity="0.49" stroke-width="1.7"/>
<line x1="81.8" y1="427.7" x2="79.9" y2="428.4" stroke="rgb(107,225,77)" stroke-opacity="0.32" stroke-width="1.7"/>
<line x1="81.8" y1="427.7" x2="86.3" y2="423.2" stroke="rgb(102,228,87)" stroke-opacity="0.38" stroke-width="1.7"/>
<line x1="86.3" y1="423.2" x2="84.3" y2="418.2" stroke="rgb(93,214,72)" stroke-opacity="0.30" stroke-width="1.7"/>
<line x1="76.4" y1="415.7" x2="75.1" y2="425.0" stroke="rgb(109,210,70)" stroke-opacity="0.35" stroke-width="1.7"/>
<line x1="76.4" y1="415.7" x2="79.0" y2="415.4" stroke="rgb(120,213,76)" stroke-opacity="0.60" stroke-width="1.7"/>
<line x1="79.0" y1="415.4" x2="84.3" y2="418.2" stroke="rgb(116,235,71)" stroke-opacity="0.42" stroke-width="1.7"/>
<line x1="75.5" y1="401.0" x2="82.6" y2="405.7" stroke="rgb(125,230,87)" stroke-opacity="0.32" stroke-width="1.7"/>
<line x1="89.9" y1="393.7" x2="86.1" y2="405.1" stroke="rgb(125,221,78)" stroke-opacity="0.36" stroke-width="1.7"/>
<line x1="82.6" y1="405.7" x2="86.1" y2="405.1" stroke="rgb(108,220,84)" stroke-opacity="0.47" stroke-width="1.7"/>
<line x1="76.1" y1="415.6" x2="65.9" y2="420.0" stroke="rgb(93,216,70)" stroke-opacity="0.58" stroke-width="1.7"/>
<line x1="76.1" y1="415.6" x2="70.4" y2="408.1" stroke="rgb(124,212,72)" stroke-opacity="0.38" stroke-width="1.7"/>
<line x1="70.4" y1="408.1" x2="62.1" y2="413.2" stroke="rgb(91,240,79)" stroke-opacity="0.32" stroke-width="1.7"/>
<line x1="62.1" y1="413.2" x2="65.3" y2="419.6" stroke="rgb(119,205,76)" stroke-opacity="0.32" stroke-width="1.7"/>
<line x1="65.3" y1="419.6" x2="65.9" y2="420.0" stroke="rgb(113,205,86)" stroke-opacity="0.38" stroke-width="1.7"/>
<line x1="76.4" y1="415.7" x2="76.1" y2="415.6" stroke="rgb(105,236,82)" stroke-opacity="0.39" stroke-width="1.7"/>
<line x1="67.0" y1="422.4" x2="65.9" y2="420.0" stroke="rgb(124,211,85)" stroke-opacity="0.42" stroke-width="1.7"/>
<line x1="71.2" y1="402.9" x2="70.4" y2="408.1" stroke="rgb(116,221,89)" stroke-opacity="0.31" stroke-width="1.7"/>
<line x1="79.0" y1="415.4" x2="82.6" y2="405.7" stroke="rgb(126,214,77)" stroke-opacity="0.40" stroke-width="1.7"/>
<line x1="60.1" y1="412.5" x2="62.1" y2="413.2" stroke="rgb(113,237,78)" stroke-opacity="0.54" stroke-width="1.7"/>
<line x1="57.0" y1="425.2" x2="65.3" y2="419.6" stroke="rgb(113,233,81)" stroke-opacity="0.39" stroke-width="1.7"/>
<line x1="81.8" y1="427.7" x2="88.2" y2="436.3" stroke="rgb(94,225,89)" stroke-opacity="0.33" stroke-width="1.7"/>
<line x1="84.5" y1="439.0" x2="85.9" y2="438.6" stroke="rgb(111,218,75)" stroke-opacity="0.36" stroke-width="1.7"/>
<line x1="88.2" y1="436.3" x2="85.9" y2="438.6" stroke="rgb(98,239,79)" stroke-opacity="0.50" stroke-width="1.7"/>
<line x1="79.9" y1="443.6" x2="80.6" y2="446.3" stroke="rgb(101,227,73)" stroke-opacity="0.35" stroke-width="1.7"/>
<line x1="80.6" y1="446.3" x2="88.9" y2="449.9" stroke="rgb(113,227,75)" stroke-opacity="0.43" stroke-width="1.7"/>
<line x1="88.9" y1="449.9" x2="90.7" y2="446.7" stroke="rgb(90,230,86)" stroke-opacity="0.32" stroke-width="1.7"/>
<line x1="85.9" y1="438.6" x2="90.7" y2="446.7" stroke="rgb(96,225,87)" stroke-opacity="0.55" stroke-width="1.7"/>
<line x1="109.5" y1="436.0" x2="108.5" y2="427.8" stroke="rgb(103,206,75)" stroke-opacity="0.40" stroke-width="1.7"/>
<line x1="108.5" y1="427.8" x2="119.2" y2="425.4" stroke="rgb(127,211,88)" stroke-opacity="0.60" stroke-width="1.7"/>
<line x1="104.8" y1="425.2" x2="105.1" y2="425.8" stroke="rgb(117,235,77)" stroke-opacity="0.45" stroke-width="1.7"/>
<line x1="111.1" y1="416.6" x2="120.0" y2="424.1" stroke="rgb(101,222,72)" stroke-opacity="0.50" stroke-width="1.7"/>
<line x1="105.1" y1="425.8" x2="108.5" y2="427.8" stroke="rgb(110,216,81)" stroke-opacity="0.46" stroke-width="1.7"/>
<line x1="90.3" y1="412.2" x2="89.4" y2="407.7" stroke="rgb(90,214,90)" stroke-opacity="0.50" stroke-width="1.7"/>
<line x1="90.3" y1="412.2" x2="93.5" y2="413.7" stroke="rgb(93,218,89)" stroke-opacity="0.48" stroke-width="1.7"/>
<line x1="89.4" y1="407.7" x2="98.0" y2="404.1" stroke="rgb(118,232,86)" stroke-opacity="0.59" stroke-width="1.7"/>
<line x1="93.5" y1="413.7" x2="98.0" y2="412.4" stroke="rgb(97,212,84)" stroke-opacity="0.43" stroke-width="1.7"/>
<line x1="98.0" y1="404.1" x2="98.0" y2="412.4" stroke="rgb(119,231,82)" stroke-opacity="0.45" stroke-width="1.7"/>
<line x1="84.3" y1="418.2" x2="90.3" y2="412.2" stroke="rgb(114,239,88)" stroke-opacity="0.31" stroke-width="1.7"/>
<line x1="86.1" y1="405.1" x2="89.4" y2="407.7" stroke="rgb(92,238,90)" stroke-opacity="0.44" stroke-width="1.7"/>
<line x1="86.3" y1="423.2" x2="92.2" y2="425.0" stroke="rgb(108,207,89)" stroke-opacity="0.32" stroke-width="1.7"/>
<line x1="92.2" y1="425.0" x2="95.0" y2="423.0" stroke="rgb(110,214,87)" stroke-opacity="0.44" stroke-width="1.7"/>
<line x1="95.0" y1="423.0" x2="93.5" y2="413.7" stroke="rgb(106,225,76)" stroke-opacity="0.52" stroke-width="1.7"/>
<line x1="99.1" y1="402.7" x2="98.0" y2="404.1" stroke="rgb(125,230,71)" stroke-opacity="0.56" stroke-width="1.7"/>
<line x1="101.4" y1="414.4" x2="98.0" y2="412.4" stroke="rgb(98,236,73)" stroke-opacity="0.37" stroke-width="1.7"/>
<line x1="99.1" y1="422.3" x2="95.0" y2="423.0" stroke="rgb(99,212,73)" stroke-opacity="0.45" stroke-width="1.7"/>
<line x1="88.9" y1="449.9" x2="89.4" y2="452.9" stroke="rgb(106,209,75)" stroke-opacity="0.56" stroke-width="1.7"/>
<line x1="90.7" y1="446.7" x2="96.4" y2="443.8" stroke="rgb(111,221,86)" stroke-opacity="0.54" stroke-width="1.7"/>
<line x1="96.4" y1="443.8" x2="99.6" y2="453.4" stroke="rgb(119,218,87)" stroke-opacity="0.30" stroke-width="1.7"/>
<line x1="89.4" y1="452.9" x2="95.5" y2="456.6" stroke="rgb(117,217,85)" stroke-opacity="0.38" stroke-width="1.7"/>
<line x1="92.2" y1="425.0" x2="93.0" y2="429.7" stroke="rgb(105,209,73)" stroke-opacity="0.47" stroke-width="1.7"/>
<line x1="105.1" y1="425.8" x2="99.9" y2="433.7" stroke="rgb(121,220,72)" stroke-opacity="0.54" stroke-width="1.7"/>
<line x1="93.0" y1="429.7" x2="99.9" y2="433.7" stroke="rgb(93,240,72)" stroke-opacity="0.54" stroke-width="1.7"/>
<line x1="88.2" y1="436.3" x2="89.2" y2="435.9" stroke="rgb(99,228,75)" stroke-opacity="0.33" stroke-width="1.7"/>
<line x1="93.0" y1="429.7" x2="89.2" y2="435.9" stroke="rgb(92,227,77)" stroke-opacity="0.55" stroke-width="1.7"/>
<line x1="85.7" y1="455.7" x2="83.7" y2="463.8" stroke="rgb(97,231,75)" stroke-opacity="0.48" stroke-width="1.7"/>
<line x1="85.7" y1="455.7" x2="77.3" y2="452.9" stroke="rgb(91,234,85)" stroke-opacity="0.32" stroke-width="1.7"/>
<line x1="77.3" y1="452.9" x2="76.5" y2="453.4" stroke="rgb(103,239,90)" stroke-opacity="0.39" stroke-width="1.7"/>
<line x1="82.8" y1="463.4" x2="76.5" y2="454.0" stroke="rgb(102,240,83)" stroke-opacity="0.41" stroke-width="1.7"/>
<line x1="82.8" y1="463.4" x2="83.7" y2="463.8" stroke="rgb(111,225,90)" stroke-opacity="0.58" stroke-width="1.7"/>
<line x1="76.5" y1="453.4" x2="76.5" y2="454.0" stroke="rgb(128,218,76)" stroke-opacity="0.35" stroke-width="1.7"/>
<line x1="89.4" y1="452.9" x2="85.7" y2="455.7" stroke="rgb(98,215,88)" stroke-opacity="0.44" stroke-width="1.7"/>
<line x1="80.6" y1="446.3" x2="77.3" y2="452.9" stroke="rgb(98,222,73)" stroke-opacity="0.38" stroke-width="1.7"/>
<line x1="68.4" y1="451.0" x2="76.5" y2="453.4" stroke="rgb(112,227,79)" stroke-opacity="0.36" stroke-width="1.7"/>
<line x1="73.9" y1="461.9" x2="76.5" y2="454.0" stroke="rgb(94,218,81)" stroke-opacity="0.56" stroke-width="1.7"/>
<line x1="73.9" y1="461.9" x2="82.8" y2="463.4" stroke="rgb(116,217,74)" stroke-opacity="0.32" stroke-width="1.7"/>
<line x1="68.8" y1="465.1" x2="73.9" y2="461.9" stroke="rgb(107,232,81)" stroke-opacity="0.55" stroke-width="1.7"/>
<line x1="105.4" y1="437.4" x2="100.1" y2="434.3" stroke="rgb(116,222,84)" stroke-opacity="0.34" stroke-width="1.7"/>
<line x1="105.4" y1="437.4" x2="103.6" y2="443.5" stroke="rgb(97,211,81)" stroke-opacity="0.45" stroke-width="1.7"/>
<line x1="100.1" y1="434.3" x2="96.0" y2="440.5" stroke="rgb(116,220,85)" stroke-opacity="0.47" stroke-width="1.7"/>
<line x1="103.6" y1="443.5" x2="96.6" y2="443.5" stroke="rgb(108,212,79)" stroke-opacity="0.59" stroke-width="1.7"/>
<line x1="96.6" y1="443.5" x2="96.0" y2="440.5" stroke="rgb(95,234,77)" stroke-opacity="0.58" stroke-width="1.7"/>
<line x1="109.5" y1="436.0" x2="105.4" y2="437.4" stroke="rgb(114,217,83)" stroke-opacity="0.48" stroke-width="1.7"/>
<line x1="99.9" y1="433.7" x2="100.1" y2="434.3" stroke="rgb(118,209,81)" stroke-opacity="0.43" stroke-width="1.7"/>
<line x1="106.9" y1="447.2" x2="103.6" y2="443.5" stroke="rgb(108,233,78)" stroke-opacity="0.39" stroke-width="1.7"/>
<line x1="89.2" y1="435.9" x2="96.0" y2="440.5" stroke="rgb(90,220,70)" stroke-opacity="0.42" stroke-width="1.7"/>
<line x1="96.4" y1="443.8" x2="96.6" y2="443.5" stroke="rgb(98,221,82)" stroke-opacity="0.43" stroke-width="1.7"/>
</g>
<g filter="url(#b1)">
<circle cx="74.6" cy="453.1" r="2.4" fill="#06200c" fill-opacity="0.55"/>
<circle cx="93.3" cy="431.2" r="1.3" fill="#06200c" fill-opacity="0.55"/>
<circle cx="116.2" cy="394.6" r="1.7" fill="#06200c" fill-opacity="0.55"/>
<circle cx="77.1" cy="445.3" r="2.1" fill="#06200c" fill-opacity="0.55"/>
<circle cx="74.8" cy="459.3" r="2.5" fill="#06200c" fill-opacity="0.55"/>
<circle cx="50.7" cy="438.1" r="1.9" fill="#06200c" fill-opacity="0.55"/>
<circle cx="76.1" cy="424.7" r="1.6" fill="#06200c" fill-opacity="0.55"/>
<circle cx="99.3" cy="435.9" r="2.6" fill="#06200c" fill-opacity="0.55"/>
<circle cx="78.6" cy="453.8" r="2.1" fill="#06200c" fill-opacity="0.55"/>
<circle cx="54.0" cy="424.5" r="1.8" fill="#06200c" fill-opacity="0.55"/>
<circle cx="98.2" cy="404.9" r="2.6" fill="#06200c" fill-opacity="0.55"/>
<circle cx="64.7" cy="417.1" r="1.4" fill="#06200c" fill-opacity="0.55"/>
<circle cx="78.6" cy="446.8" r="1.3" fill="#06200c" fill-opacity="0.55"/>
<circle cx="61.5" cy="439.4" r="2.1" fill="#06200c" fill-opacity="0.55"/>
<circle cx="104.7" cy="407.8" r="2.3" fill="#06200c" fill-opacity="0.55"/>
<circle cx="103.8" cy="449.6" r="1.4" fill="#06200c" fill-opacity="0.55"/>
<circle cx="84.1" cy="388.8" r="2.4" fill="#06200c" fill-opacity="0.55"/>
<circle cx="50.8" cy="415.6" r="2.0" fill="#06200c" fill-opacity="0.55"/>
<circle cx="89.0" cy="396.4" r="2.3" fill="#06200c" fill-opacity="0.55"/>
<circle cx="71.6" cy="428.1" r="1.4" fill="#06200c" fill-opacity="0.55"/>
<circle cx="91.6" cy="397.9" r="1.3" fill="#06200c" fill-opacity="0.55"/>
<circle cx="87.4" cy="411.0" r="2.3" fill="#06200c" fill-opacity="0.55"/>
<circle cx="67.5" cy="420.6" r="1.3" fill="#06200c" fill-opacity="0.55"/>
<circle cx="65.3" cy="423.6" r="2.0" fill="#06200c" fill-opacity="0.55"/>
<circle cx="83.5" cy="455.6" r="1.3" fill="#06200c" fill-opacity="0.55"/>
<circle cx="112.8" cy="399.9" r="2.6" fill="#06200c" fill-opacity="0.55"/>
<circle cx="88.4" cy="420.0" r="2.1" fill="#06200c" fill-opacity="0.55"/>
<circle cx="80.0" cy="388.4" r="1.4" fill="#06200c" fill-opacity="0.55"/>
<circle cx="102.4" cy="400.0" r="1.9" fill="#06200c" fill-opacity="0.55"/>
<circle cx="71.6" cy="464.8" r="2.1" fill="#06200c" fill-opacity="0.55"/>
<circle cx="112.6" cy="391.2" r="1.8" fill="#06200c" fill-opacity="0.55"/>
<circle cx="54.9" cy="408.4" r="1.4" fill="#06200c" fill-opacity="0.55"/>
<circle cx="117.9" cy="413.8" r="1.9" fill="#06200c" fill-opacity="0.55"/>
<circle cx="86.6" cy="459.8" r="1.8" fill="#06200c" fill-opacity="0.55"/>
<circle cx="71.5" cy="446.6" r="1.6" fill="#06200c" fill-opacity="0.55"/>
<circle cx="76.6" cy="421.8" r="1.9" fill="#06200c" fill-opacity="0.55"/>
<circle cx="75.9" cy="421.9" r="1.8" fill="#06200c" fill-opacity="0.55"/>
<circle cx="53.6" cy="429.7" r="2.0" fill="#06200c" fill-opacity="0.55"/>
<circle cx="79.0" cy="405.3" r="1.3" fill="#06200c" fill-opacity="0.55"/>
<circle cx="76.9" cy="412.7" r="1.9" fill="#06200c" fill-opacity="0.55"/>
<circle cx="66.3" cy="447.5" r="1.9" fill="#06200c" fill-opacity="0.55"/>
<circle cx="49.7" cy="420.0" r="2.6" fill="#06200c" fill-opacity="0.55"/>
<circle cx="49.5" cy="435.0" r="2.5" fill="#06200c" fill-opacity="0.55"/>
<circle cx="76.4" cy="435.3" r="1.7" fill="#06200c" fill-opacity="0.55"/>
<circle cx="71.6" cy="436.2" r="2.0" fill="#06200c" fill-opacity="0.55"/>
<circle cx="72.6" cy="427.3" r="1.9" fill="#06200c" fill-opacity="0.55"/>
<circle cx="105.5" cy="391.7" r="1.3" fill="#06200c" fill-opacity="0.55"/>
<circle cx="67.9" cy="409.1" r="2.3" fill="#06200c" fill-opacity="0.55"/>
<circle cx="80.9" cy="456.3" r="1.8" fill="#06200c" fill-opacity="0.55"/>
<circle cx="70.4" cy="441.9" r="1.3" fill="#06200c" fill-opacity="0.55"/>
<circle cx="73.6" cy="412.9" r="2.3" fill="#06200c" fill-opacity="0.55"/>
<circle cx="108.1" cy="438.9" r="1.3" fill="#06200c" fill-opacity="0.55"/>
<circle cx="106.3" cy="391.3" r="2.1" fill="#06200c" fill-opacity="0.55"/>
<circle cx="96.9" cy="389.3" r="2.5" fill="#06200c" fill-opacity="0.55"/>
<circle cx="105.5" cy="433.9" r="1.2" fill="#06200c" fill-opacity="0.55"/>
<circle cx="104.3" cy="421.0" r="2.2" fill="#06200c" fill-opacity="0.55"/>
<circle cx="82.0" cy="447.6" r="1.7" fill="#06200c" fill-opacity="0.55"/>
</g>
<circle cx="90.5" cy="417.5" r="4.3" fill="none" stroke="#8af56a" stroke-width="2.8" filter="url(#b1)"/>
<circle cx="119.5" cy="401.5" r="3.9" fill="none" stroke="#62d458" stroke-width="2" stroke-opacity="0.7" filter="url(#b1)"/>
</g>
<g clip-path="url(#c3)" filter="url(#b1)">
<ellipse cx="68.0" cy="395.5" rx="3.21" ry="3.42" fill="rgb(35, 62, 166)" fill-opacity="0.85" transform="rotate(-31 68.0 395.5)"/>
<ellipse cx="74.0" cy="393.5" rx="2.56" ry="2.28" fill="rgb(32, 59, 149)" fill-opacity="0.85" transform="rotate(5 74.0 393.5)"/>
<ellipse cx="83.0" cy="399.5" rx="3.21" ry="2.51" fill="rgb(32, 59, 149)" fill-opacity="0.85" transform="rotate(-16 83.0 399.5)"/>
<ellipse cx="92.0" cy="402.5" rx="3.21" ry="2.28" fill="rgb(32, 59, 149)" fill-opacity="0.85" transform="rotate(12 92.0 402.5)"/>
<ellipse cx="106.0" cy="401.5" rx="3.21" ry="2.85" fill="rgb(35, 62, 166)" fill-opacity="0.85" transform="rotate(15 106.0 401.5)"/>
<ellipse cx="119.0" cy="401.5" rx="3.21" ry="2.51" fill="rgb(37, 63, 175)" fill-opacity="0.85" transform="rotate(-52 119.0 401.5)"/>
<ellipse cx="64.0" cy="406.5" rx="3.21" ry="2.28" fill="rgb(34, 61, 157)" fill-opacity="0.85" transform="rotate(-58 64.0 406.5)"/>
<ellipse cx="77.0" cy="408.5" rx="3.21" ry="2.28" fill="rgb(30, 58, 141)" fill-opacity="0.85" transform="rotate(40 77.0 408.5)"/>
<ellipse cx="91.0" cy="417.5" rx="3.21" ry="2.85" fill="rgb(32, 59, 149)" fill-opacity="0.85" transform="rotate(-29 91.0 417.5)"/>
<ellipse cx="97.0" cy="416.5" rx="2.56" ry="2.28" fill="rgb(37, 63, 175)" fill-opacity="0.85" transform="rotate(-32 97.0 416.5)"/>
<ellipse cx="108.0" cy="411.5" rx="3.21" ry="2.85" fill="rgb(34, 61, 157)" fill-opacity="0.85" transform="rotate(59 108.0 411.5)"/>
<ellipse cx="118.0" cy="408.5" rx="3.21" ry="2.28" fill="rgb(37, 63, 175)" fill-opacity="0.85" transform="rotate(-4 118.0 408.5)"/>
<ellipse cx="52.0" cy="414.5" rx="2.82" ry="2.51" fill="rgb(35, 62, 166)" fill-opacity="0.85" transform="rotate(40 52.0 414.5)"/>
<ellipse cx="59.0" cy="419.5" rx="3.21" ry="2.28" fill="rgb(32, 59, 149)" fill-opacity="0.85" transform="rotate(-3 59.0 419.5)"/>
<ellipse cx="69.0" cy="414.5" rx="3.21" ry="2.51" fill="rgb(30, 58, 141)" fill-opacity="0.85" transform="rotate(17 69.0 414.5)"/>
<ellipse cx="79.0" cy="422.5" rx="3.21" ry="2.28" fill="rgb(32, 59, 149)" fill-opacity="0.85" transform="rotate(-42 79.0 422.5)"/>
<ellipse cx="111.0" cy="422.5" rx="2.82" ry="2.28" fill="rgb(37, 63, 175)" fill-opacity="0.85" transform="rotate(16 111.0 422.5)"/>
<ellipse cx="117.0" cy="415.5" rx="3.21" ry="2.51" fill="rgb(34, 61, 157)" fill-opacity="0.85" transform="rotate(44 117.0 415.5)"/>
<ellipse cx="58.0" cy="431.5" rx="3.21" ry="2.28" fill="rgb(37, 63, 175)" fill-opacity="0.85" transform="rotate(3 58.0 431.5)"/>
<ellipse cx="67.0" cy="427.5" rx="3.21" ry="2.28" fill="rgb(30, 58, 141)" fill-opacity="0.85" transform="rotate(29 67.0 427.5)"/>
<ellipse cx="87.0" cy="430.5" rx="3.21" ry="2.28" fill="rgb(30, 58, 141)" fill-opacity="0.85" transform="rotate(21 87.0 430.5)"/>
<ellipse cx="99.0" cy="428.5" rx="3.21" ry="2.28" fill="rgb(32, 59, 149)" fill-opacity="0.85" transform="rotate(-52 99.0 428.5)"/>
<ellipse cx="105.0" cy="432.5" rx="2.82" ry="2.28" fill="rgb(32, 59, 149)" fill-opacity="0.85" transform="rotate(31 105.0 432.5)"/>
<ellipse cx="53.0" cy="437.5" rx="3.21" ry="2.85" fill="rgb(37, 63, 175)" fill-opacity="0.85" transform="rotate(11 53.0 437.5)"/>
<ellipse cx="65.0" cy="437.5" rx="2.56" ry="2.85" fill="rgb(30, 58, 141)" fill-opacity="0.85" transform="rotate(-24 65.0 437.5)"/>
<ellipse cx="79.0" cy="437.5" rx="3.21" ry="2.51" fill="rgb(30, 58, 141)" fill-opacity="0.85" transform="rotate(-56 79.0 437.5)"/>
<ellipse cx="91.0" cy="441.5" rx="3.21" ry="2.85" fill="rgb(35, 62, 166)" fill-opacity="0.85" transform="rotate(44 91.0 441.5)"/>
<ellipse cx="101.0" cy="439.5" rx="3.21" ry="2.28" fill="rgb(32, 59, 149)" fill-opacity="0.85" transform="rotate(-3 101.0 439.5)"/>
<ellipse cx="108.0" cy="441.5" rx="3.21" ry="2.28" fill="rgb(35, 62, 166)" fill-opacity="0.85" transform="rotate(26 108.0 441.5)"/>
<ellipse cx="61.0" cy="449.5" rx="3.85" ry="2.85" fill="rgb(37, 63, 175)" fill-opacity="0.85" transform="rotate(45 61.0 449.5)"/>
<ellipse cx="75.0" cy="447.5" rx="3.21" ry="2.51" fill="rgb(30, 58, 141)" fill-opacity="0.85" transform="rotate(26 75.0 447.5)"/>
<ellipse cx="83.0" cy="451.5" rx="3.21" ry="2.85" fill="rgb(34, 61, 157)" fill-opacity="0.85" transform="rotate(51 83.0 451.5)"/>
<ellipse cx="95.0" cy="449.5" rx="2.82" ry="2.51" fill="rgb(37, 63, 175)" fill-opacity="0.85" transform="rotate(-13 95.0 449.5)"/>
<ellipse cx="72.0" cy="457.5" rx="3.21" ry="2.85" fill="rgb(34, 61, 157)" fill-opacity="0.85" transform="rotate(36 72.0 457.5)"/>
<ellipse cx="78.0" cy="459.5" rx="3.21" ry="2.85" fill="rgb(35, 62, 166)" fill-opacity="0.85" transform="rotate(-7 78.0 459.5)"/>
<ellipse cx="77.0" cy="465.5" rx="3.21" ry="2.28" fill="rgb(37, 63, 175)" fill-opacity="0.85" transform="rotate(52 77.0 465.5)"/>
<ellipse cx="57.0" cy="393.5" rx="3.21" ry="2.85" fill="rgb(30, 58, 141)" fill-opacity="0.85" transform="rotate(45 57.0 393.5)"/>
<ellipse cx="99.0" cy="393.5" rx="3.21" ry="2.28" fill="rgb(30, 58, 141)" fill-opacity="0.85" transform="rotate(-48 99.0 393.5)"/>
<ellipse cx="85.0" cy="411.5" rx="3.21" ry="2.28" fill="rgb(30, 58, 141)" fill-opacity="0.85" transform="rotate(-44 85.0 411.5)"/>
<ellipse cx="101.0" cy="409.5" rx="2.82" ry="2.28" fill="rgb(30, 58, 141)" fill-opacity="0.85" transform="rotate(-34 101.0 409.5)"/>
<ellipse cx="74.0" cy="429.5" rx="2.82" ry="2.28" fill="rgb(30, 58, 141)" fill-opacity="0.85" transform="rotate(56 74.0 429.5)"/>
<ellipse cx="113.0" cy="431.5" rx="2.56" ry="2.28" fill="rgb(32, 59, 149)" fill-opacity="0.85" transform="rotate(-8 113.0 431.5)"/>
<ellipse cx="86.0" cy="444.5" rx="2.82" ry="2.28" fill="rgb(30, 58, 141)" fill-opacity="0.85" transform="rotate(15 86.0 444.5)"/>
<ellipse cx="69.0" cy="443.5" rx="2.82" ry="2.28" fill="rgb(30, 58, 141)" fill-opacity="0.85" transform="rotate(-24 69.0 443.5)"/>
<ellipse cx="89.0" cy="459.5" rx="2.82" ry="2.28" fill="rgb(32, 59, 149)" fill-opacity="0.85" transform="rotate(1 89.0 459.5)"/>
<ellipse cx="51.0" cy="425.5" rx="2.56" ry="2.28" fill="rgb(34, 61, 157)" fill-opacity="0.85" transform="rotate(-14 51.0 425.5)"/>
<ellipse cx="61.0" cy="389.5" rx="2.56" ry="2.28" fill="rgb(30, 58, 141)" fill-opacity="0.85" transform="rotate(-18 61.0 389.5)"/>
<ellipse cx="79.0" cy="392.5" rx="2.56" ry="2.28" fill="rgb(29, 57, 134)" fill-opacity="0.85" transform="rotate(10 79.0 392.5)"/>
<ellipse cx="113.0" cy="395.5" rx="2.56" ry="2.28" fill="rgb(30, 58, 141)" fill-opacity="0.85" transform="rotate(10 113.0 395.5)"/>
<ellipse cx="95.0" cy="409.5" rx="2.56" ry="2.28" fill="rgb(29, 57, 134)" fill-opacity="0.85" transform="rotate(49 95.0 409.5)"/>
<ellipse cx="72.0" cy="421.5" rx="2.56" ry="2.28" fill="rgb(29, 57, 134)" fill-opacity="0.85" transform="rotate(22 72.0 421.5)"/>
<ellipse cx="104.0" cy="418.5" rx="2.56" ry="2.28" fill="rgb(30, 58, 141)" fill-opacity="0.85" transform="rotate(51 104.0 418.5)"/>
<ellipse cx="83.0" cy="433.5" rx="2.56" ry="2.28" fill="rgb(29, 57, 134)" fill-opacity="0.85" transform="rotate(43 83.0 433.5)"/>
<ellipse cx="95.0" cy="435.5" rx="2.56" ry="2.28" fill="rgb(29, 57, 134)" fill-opacity="0.85" transform="rotate(59 95.0 435.5)"/>
<ellipse cx="63.0" cy="425.5" rx="2.56" ry="2.28" fill="rgb(30, 58, 141)" fill-opacity="0.85" transform="rotate(21 63.0 425.5)"/>
<ellipse cx="73.0" cy="437.5" rx="2.56" ry="2.28" fill="rgb(29, 57, 134)" fill-opacity="0.85" transform="rotate(-40 73.0 437.5)"/>
<ellipse cx="101.0" cy="447.5" rx="2.56" ry="2.28" fill="rgb(30, 58, 141)" fill-opacity="0.85" transform="rotate(43 101.0 447.5)"/>
<ellipse cx="81.0" cy="457.5" rx="2.56" ry="2.28" fill="rgb(29, 57, 134)" fill-opacity="0.85" transform="rotate(56 81.0 457.5)"/>
<ellipse cx="55.0" cy="407.5" rx="2.56" ry="2.28" fill="rgb(30, 58, 141)" fill-opacity="0.85" transform="rotate(49 55.0 407.5)"/>
<ellipse cx="128.0" cy="439.5" rx="2.47" ry="2.85" fill="rgb(35, 62, 166)" fill-opacity="0.85" transform="rotate(8 128.0 439.5)"/>
<ellipse cx="129.0" cy="447.5" rx="2.28" ry="2.28" fill="rgb(32, 59, 149)" fill-opacity="0.85" transform="rotate(26 129.0 447.5)"/>
<ellipse cx="127.0" cy="455.5" rx="2.47" ry="2.28" fill="rgb(35, 62, 166)" fill-opacity="0.85" transform="rotate(-35 127.0 455.5)"/>
</g>
<g clip-path="url(#c4)" filter="url(#b2)">
<polygon points="146.2,409.5 151.2,407.5 154.2,404.5 159.2,407.5 163.2,414.5 160.2,420.5 154.2,423.5 149.2,418.5" fill="#1a5a20" opacity="0.85"/>
<polygon points="178.2,401.5 184.2,398.5 192.2,395.5 202.2,396.5 210.2,398.5 213.2,407.5 211.2,420.5 203.2,429.5 194.2,432.5 183.2,426.5 179.2,415.5" fill="#1a5a20" opacity="0.6"/>
<polygon points="174.2,437.5 179.2,431.5 187.2,435.5 198.2,439.5 210.2,441.5 213.2,453.5 199.2,458.5 185.2,462.5 174.2,458.5 171.2,447.5" fill="#1a5a20" opacity="0.6"/>
<polygon points="137.2,443.5 142.2,439.5 149.2,434.5 159.2,436.5 157.2,447.5 152.2,454.5 144.2,449.5" fill="#1a5a20" opacity="0.6"/>
<polygon points="165.2,387.5 180.2,387.5 178.2,395.5 167.2,396.5" fill="#1a5a20" opacity="0.4"/>
</g>
<g clip-path="url(#c4)" filter="url(#b1)">
<circle cx="150.7" cy="411.1" r="2.5" fill="rgb(73,121,54)" fill-opacity="0.48"/>
<circle cx="154.2" cy="414.8" r="1.5" fill="rgb(63,150,47)" fill-opacity="0.36"/>
<circle cx="155.5" cy="415.5" r="2.4" fill="rgb(66,137,45)" fill-opacity="0.52"/>
<circle cx="154.3" cy="413.4" r="2.5" fill="rgb(48,159,59)" fill-opacity="0.38"/>
<circle cx="158.6" cy="419.3" r="1.2" fill="rgb(53,130,45)" fill-opacity="0.34"/>
<circle cx="157.7" cy="413.6" r="2.3" fill="rgb(53,131,46)" fill-opacity="0.54"/>
<circle cx="155.8" cy="413.3" r="1.8" fill="rgb(50,129,48)" fill-opacity="0.27"/>
<circle cx="152.9" cy="418.3" r="1.2" fill="rgb(61,124,49)" fill-opacity="0.36"/>
<circle cx="152.6" cy="418.8" r="1.5" fill="rgb(70,165,45)" fill-opacity="0.27"/>
<circle cx="154.4" cy="414.5" r="2.4" fill="rgb(65,121,57)" fill-opacity="0.49"/>
<circle cx="190.1" cy="419.2" r="1.2" fill="rgb(42,165,45)" fill-opacity="0.44"/>
<circle cx="196.7" cy="413.1" r="1.6" fill="rgb(69,142,56)" fill-opacity="0.36"/>
<circle cx="185.0" cy="411.9" r="1.4" fill="rgb(63,138,41)" fill-opacity="0.38"/>
<circle cx="197.9" cy="413.1" r="2.0" fill="rgb(63,129,50)" fill-opacity="0.33"/>
<circle cx="194.8" cy="412.3" r="2.3" fill="rgb(59,131,42)" fill-opacity="0.44"/>
<circle cx="194.5" cy="409.5" r="2.0" fill="rgb(43,125,59)" fill-opacity="0.41"/>
<circle cx="192.6" cy="415.3" r="2.2" fill="rgb(56,149,60)" fill-opacity="0.38"/>
<circle cx="206.6" cy="417.7" r="1.3" fill="rgb(71,141,46)" fill-opacity="0.29"/>
<circle cx="193.7" cy="401.0" r="2.2" fill="rgb(66,126,45)" fill-opacity="0.38"/>
<circle cx="201.8" cy="422.6" r="1.7" fill="rgb(69,159,45)" fill-opacity="0.54"/>
<circle cx="189.0" cy="415.4" r="2.4" fill="rgb(70,137,49)" fill-opacity="0.39"/>
<circle cx="196.4" cy="412.6" r="2.5" fill="rgb(74,131,60)" fill-opacity="0.53"/>
<circle cx="196.8" cy="411.7" r="2.0" fill="rgb(72,170,57)" fill-opacity="0.51"/>
<circle cx="188.5" cy="421.5" r="2.4" fill="rgb(77,162,41)" fill-opacity="0.48"/>
<circle cx="189.1" cy="420.6" r="1.6" fill="rgb(71,136,49)" fill-opacity="0.54"/>
<circle cx="193.9" cy="415.5" r="2.6" fill="rgb(70,155,48)" fill-opacity="0.35"/>
<circle cx="194.6" cy="417.3" r="2.0" fill="rgb(62,142,48)" fill-opacity="0.44"/>
<circle cx="194.4" cy="402.5" r="1.8" fill="rgb(51,164,54)" fill-opacity="0.54"/>
<circle cx="201.8" cy="411.6" r="2.0" fill="rgb(50,132,51)" fill-opacity="0.53"/>
<circle cx="186.1" cy="414.8" r="2.4" fill="rgb(66,130,59)" fill-opacity="0.48"/>
<circle cx="187.5" cy="409.2" r="1.9" fill="rgb(79,155,60)" fill-opacity="0.33"/>
<circle cx="197.8" cy="413.4" r="2.1" fill="rgb(79,161,45)" fill-opacity="0.32"/>
<circle cx="191.9" cy="405.8" r="1.3" fill="rgb(70,134,45)" fill-opacity="0.27"/>
<circle cx="198.0" cy="416.6" r="1.5" fill="rgb(52,155,41)" fill-opacity="0.37"/>
<circle cx="190.0" cy="420.6" r="1.3" fill="rgb(53,135,51)" fill-opacity="0.25"/>
<circle cx="192.1" cy="415.6" r="1.9" fill="rgb(47,164,57)" fill-opacity="0.36"/>
<circle cx="203.2" cy="415.3" r="1.4" fill="rgb(74,152,50)" fill-opacity="0.54"/>
<circle cx="193.9" cy="418.0" r="1.4" fill="rgb(66,156,60)" fill-opacity="0.41"/>
<circle cx="190.0" cy="449.0" r="1.8" fill="rgb(70,132,44)" fill-opacity="0.43"/>
<circle cx="184.6" cy="458.7" r="1.2" fill="rgb(46,140,58)" fill-opacity="0.52"/>
<circle cx="187.7" cy="447.4" r="2.6" fill="rgb(76,144,53)" fill-opacity="0.38"/>
<circle cx="192.8" cy="452.6" r="2.8" fill="rgb(64,144,45)" fill-opacity="0.43"/>
<circle cx="191.3" cy="462.5" r="2.0" fill="rgb(66,121,50)" fill-opacity="0.53"/>
<circle cx="187.5" cy="460.9" r="1.4" fill="rgb(41,127,59)" fill-opacity="0.54"/>
<circle cx="192.2" cy="449.1" r="1.4" fill="rgb(65,120,55)" fill-opacity="0.41"/>
<circle cx="190.2" cy="461.7" r="2.5" fill="rgb(55,151,48)" fill-opacity="0.50"/>
<circle cx="191.5" cy="444.5" r="2.0" fill="rgb(70,153,60)" fill-opacity="0.51"/>
<circle cx="201.5" cy="439.8" r="1.2" fill="rgb(48,139,49)" fill-opacity="0.41"/>
<circle cx="190.0" cy="452.1" r="2.0" fill="rgb(69,142,51)" fill-opacity="0.45"/>
<circle cx="192.9" cy="446.8" r="1.2" fill="rgb(75,149,43)" fill-opacity="0.52"/>
<circle cx="192.0" cy="448.4" r="2.4" fill="rgb(67,158,58)" fill-opacity="0.46"/>
<circle cx="201.1" cy="445.8" r="2.6" fill="rgb(64,150,52)" fill-opacity="0.45"/>
<circle cx="189.8" cy="435.9" r="1.9" fill="rgb(44,139,40)" fill-opacity="0.46"/>
<circle cx="188.5" cy="450.2" r="2.4" fill="rgb(59,129,45)" fill-opacity="0.39"/>
<circle cx="185.4" cy="446.3" r="1.7" fill="rgb(49,147,58)" fill-opacity="0.41"/>
<circle cx="202.2" cy="451.6" r="1.6" fill="rgb(45,170,42)" fill-opacity="0.45"/>
<circle cx="202.4" cy="450.1" r="2.8" fill="rgb(65,164,55)" fill-opacity="0.26"/>
<circle cx="193.9" cy="445.9" r="2.2" fill="rgb(47,165,44)" fill-opacity="0.55"/>
<circle cx="190.5" cy="442.5" r="1.5" fill="rgb(51,146,45)" fill-opacity="0.27"/>
<circle cx="194.0" cy="456.2" r="2.3" fill="rgb(44,137,41)" fill-opacity="0.42"/>
<circle cx="196.4" cy="452.3" r="2.2" fill="rgb(40,147,42)" fill-opacity="0.34"/>
<circle cx="186.6" cy="444.4" r="2.7" fill="rgb(63,123,44)" fill-opacity="0.46"/>
<circle cx="197.4" cy="455.8" r="2.0" fill="rgb(75,155,59)" fill-opacity="0.32"/>
<circle cx="195.3" cy="449.8" r="2.5" fill="rgb(58,153,44)" fill-opacity="0.49"/>
<circle cx="196.4" cy="443.6" r="1.8" fill="rgb(48,165,40)" fill-opacity="0.45"/>
<circle cx="200.4" cy="453.4" r="1.3" fill="rgb(47,152,59)" fill-opacity="0.39"/>
<circle cx="146.2" cy="446.0" r="2.7" fill="rgb(46,170,56)" fill-opacity="0.26"/>
<circle cx="149.1" cy="443.0" r="1.4" fill="rgb(67,163,47)" fill-opacity="0.47"/>
<circle cx="155.9" cy="447.4" r="2.0" fill="rgb(53,128,59)" fill-opacity="0.36"/>
<circle cx="150.5" cy="441.4" r="2.7" fill="rgb(62,170,52)" fill-opacity="0.36"/>
<circle cx="148.7" cy="440.5" r="1.7" fill="rgb(80,147,51)" fill-opacity="0.41"/>
<circle cx="145.1" cy="440.8" r="2.4" fill="rgb(65,124,43)" fill-opacity="0.26"/>
<circle cx="149.9" cy="445.0" r="2.0" fill="rgb(70,162,51)" fill-opacity="0.25"/>
<circle cx="141.7" cy="444.9" r="2.2" fill="rgb(67,140,54)" fill-opacity="0.39"/>
<circle cx="151.2" cy="448.7" r="1.3" fill="rgb(64,150,44)" fill-opacity="0.42"/>
<circle cx="154.6" cy="448.0" r="2.4" fill="rgb(55,122,55)" fill-opacity="0.52"/>
<circle cx="145.6" cy="448.8" r="1.7" fill="rgb(43,164,40)" fill-opacity="0.45"/>
<circle cx="141.2" cy="444.9" r="1.4" fill="rgb(60,138,54)" fill-opacity="0.45"/>
<line x1="146.2" y1="411.5" x2="137.2" y2="407.5" stroke="#2a7a30" stroke-opacity="0.6" stroke-width="1.4"/>
<line x1="162.2" y1="412.5" x2="170.2" y2="409.5" stroke="#2a7a30" stroke-opacity="0.6" stroke-width="1.4"/>
<line x1="157.2" y1="421.5" x2="159.2" y2="427.5" stroke="#2a7a30" stroke-opacity="0.6" stroke-width="1.4"/>
<line x1="180.2" y1="407.5" x2="172.2" y2="401.5" stroke="#2a7a30" stroke-opacity="0.6" stroke-width="1.4"/>
<line x1="177.2" y1="442.5" x2="168.2" y2="435.5" stroke="#2a7a30" stroke-opacity="0.6" stroke-width="1.4"/>
<line x1="138.2" y1="444.5" x2="130.2" y2="447.5" stroke="#2a7a30" stroke-opacity="0.6" stroke-width="1.4"/>
<line x1="156.2" y1="437.5" x2="163.2" y2="439.5" stroke="#2a7a30" stroke-opacity="0.6" stroke-width="1.4"/>
<line x1="198.2" y1="457.5" x2="202.2" y2="467.5" stroke="#2a7a30" stroke-opacity="0.6" stroke-width="1.4"/>
<line x1="174.2" y1="457.5" x2="170.2" y2="465.5" stroke="#2a7a30" stroke-opacity="0.6" stroke-width="1.4"/>
<line x1="211.2" y1="417.5" x2="216.2" y2="423.5" stroke="#2a7a30" stroke-opacity="0.6" stroke-width="1.4"/>
</g>
<ellipse cx="155.7" cy="414.1" rx="3.5" ry="3.5" fill="#3d9e6a" filter="url(#b2)"/>
<g clip-path="url(#c4)" filter="url(#b0)">
<ellipse cx="168.4" cy="392.6" rx="2.76" ry="2.30" fill="rgb(31, 36, 197)" fill-opacity="1.0" transform="rotate(35 168.4 392.6)"/>
<ellipse cx="176.0" cy="391.9" rx="2.76" ry="2.30" fill="rgb(31, 36, 197)" fill-opacity="1.0" transform="rotate(39 176.0 391.9)"/>
<ellipse cx="155.7" cy="414.1" rx="2.76" ry="2.76" fill="rgb(23, 26, 149)" fill-opacity="1.0" transform="rotate(-2 155.7 414.1)"/>
<ellipse cx="191.8" cy="407.2" rx="2.76" ry="2.30" fill="rgb(34, 40, 218)" fill-opacity="1.0" transform="rotate(-29 191.8 407.2)"/>
<ellipse cx="200.7" cy="405.3" rx="2.30" ry="3.68" fill="rgb(31, 36, 197)" fill-opacity="1.0" transform="rotate(-60 200.7 405.3)"/>
<ellipse cx="207.7" cy="406.5" rx="2.76" ry="3.22" fill="rgb(31, 36, 197)" fill-opacity="1.0" transform="rotate(20 207.7 406.5)"/>
<ellipse cx="193.7" cy="413.5" rx="2.76" ry="1.84" fill="rgb(34, 40, 218)" fill-opacity="1.0" transform="rotate(-4 193.7 413.5)"/>
<ellipse cx="185.5" cy="416.4" rx="1.84" ry="2.30" fill="rgb(38, 45, 240)" fill-opacity="1.0" transform="rotate(31 185.5 416.4)"/>
<ellipse cx="189.9" cy="421.1" rx="2.30" ry="1.84" fill="rgb(34, 40, 218)" fill-opacity="1.0" transform="rotate(-15 189.9 421.1)"/>
<ellipse cx="195.0" cy="426.2" rx="3.22" ry="2.76" fill="rgb(38, 45, 240)" fill-opacity="1.0" transform="rotate(32 195.0 426.2)"/>
<ellipse cx="154.4" cy="438.9" rx="2.30" ry="2.30" fill="rgb(38, 45, 240)" fill-opacity="1.0" transform="rotate(-27 154.4 438.9)"/>
<ellipse cx="151.2" cy="447.1" rx="2.30" ry="2.76" fill="rgb(34, 40, 218)" fill-opacity="1.0" transform="rotate(36 151.2 447.1)"/>
<ellipse cx="188.0" cy="443.3" rx="2.30" ry="1.84" fill="rgb(38, 45, 240)" fill-opacity="1.0" transform="rotate(28 188.0 443.3)"/>
<ellipse cx="186.8" cy="449.7" rx="2.76" ry="2.30" fill="rgb(34, 40, 218)" fill-opacity="1.0" transform="rotate(-10 186.8 449.7)"/>
<ellipse cx="193.1" cy="447.1" rx="1.84" ry="1.84" fill="rgb(34, 40, 218)" fill-opacity="1.0" transform="rotate(5 193.1 447.1)"/>
<ellipse cx="198.2" cy="444.6" rx="1.84" ry="1.84" fill="rgb(38, 45, 240)" fill-opacity="1.0" transform="rotate(22 198.2 444.6)"/>
<ellipse cx="177.3" cy="452.9" rx="2.30" ry="1.84" fill="rgb(38, 45, 240)" fill-opacity="1.0" transform="rotate(-37 177.3 452.9)"/>
<ellipse cx="206.8" cy="449.4" rx="1.84" ry="2.76" fill="rgb(38, 45, 240)" fill-opacity="1.0" transform="rotate(6 206.8 449.4)"/>
</g>
<rect x="131.3" y="304.6" width="1.8" height="165.9" fill="#c4c4c4"/>
<rect x="49" y="386.7" width="166.5" height="1.6" fill="#c4c4c4"/>
<rect x="186.6" y="455.6" width="23.2" height="1.9" fill="#f0f0f0"/>
<text x="183.40" y="466.60" font-size="10.5" fill="#f4f4f4" textLength="29.80" lengthAdjust="spacingAndGlyphs" font-weight="bold" >50 μm</text>
<text x="49.70" y="483.70" font-size="10.5" fill="#5b7cf0" textLength="40.50" lengthAdjust="spacingAndGlyphs" >Hoechst</text>
<text x="96.60" y="483.70" font-size="10.5" fill="#5cb862" textLength="58.50" lengthAdjust="spacingAndGlyphs" >C11 BODIPY</text>
<text x="156.00" y="486.60" font-size="6.5" fill="#5cb862" textLength="6.10" lengthAdjust="spacingAndGlyphs" >ox</text>
<text x="30.40" y="541.70" font-size="13" fill="#9d6ff2" textLength="58.40" lengthAdjust="spacingAndGlyphs" >OVCAR-3</text>
<text x="159.00" y="541.60" font-size="13" fill="#5cb9e6" textLength="45.50" lengthAdjust="spacingAndGlyphs" >Caov-3</text>
<rect x="28.5" y="550.10" width="98.5" height="9.7" fill="#f2f3f5"/>
<rect x="28.5" y="550.10" width="69.15" height="9.7" fill="#a584f7"/>
<text x="23.30" y="558.00" font-size="8.1" fill="#4b5563" text-anchor="end" >PC</text>
<text x="101.45" y="557.70" font-size="7" fill="#505a66" >70.2%</text>
<rect x="157" y="550.10" width="98.5" height="9.7" fill="#f2f3f5"/>
<rect x="157" y="550.10" width="61.76" height="9.7" fill="#5ec6f5"/>
<text x="152.10" y="558.00" font-size="8.1" fill="#4b5563" text-anchor="end" >PC</text>
<text x="222.56" y="557.70" font-size="7" fill="#505a66" >62.7%</text>
<rect x="28.5" y="563.42" width="98.5" height="9.7" fill="#f2f3f5"/>
<rect x="28.5" y="563.42" width="8.87" height="9.7" fill="#a584f7"/>
<text x="23.30" y="571.32" font-size="8.1" fill="#4b5563" text-anchor="end" >ePC</text>
<text x="41.16" y="571.02" font-size="7" fill="#505a66" >9%</text>
<rect x="157" y="563.42" width="98.5" height="9.7" fill="#f2f3f5"/>
<rect x="157" y="563.42" width="16.75" height="9.7" fill="#5ec6f5"/>
<text x="152.10" y="571.32" font-size="8.1" fill="#4b5563" text-anchor="end" >ePC</text>
<text x="177.55" y="571.02" font-size="7" fill="#505a66" >17%</text>
<rect x="28.5" y="576.74" width="98.5" height="9.7" fill="#f2f3f5"/>
<rect x="28.5" y="576.74" width="9.06" height="9.7" fill="#a584f7"/>
<text x="23.30" y="584.64" font-size="8.1" fill="#4b5563" text-anchor="end" >SM</text>
<text x="41.36" y="584.34" font-size="7" fill="#505a66" >9.2%</text>
<rect x="157" y="576.74" width="98.5" height="9.7" fill="#f2f3f5"/>
<rect x="157" y="576.74" width="8.47" height="9.7" fill="#5ec6f5"/>
<text x="152.10" y="584.64" font-size="8.1" fill="#4b5563" text-anchor="end" >SM</text>
<text x="169.27" y="584.34" font-size="7" fill="#505a66" >8.6%</text>
<rect x="28.5" y="590.06" width="98.5" height="9.7" fill="#f2f3f5"/>
<rect x="28.5" y="590.06" width="4.33" height="9.7" fill="#a584f7"/>
<text x="23.30" y="597.96" font-size="8.1" fill="#4b5563" text-anchor="end" >ePE</text>
<text x="36.63" y="597.66" font-size="7" fill="#505a66" >4.4%</text>
<rect x="157" y="590.06" width="98.5" height="9.7" fill="#f2f3f5"/>
<rect x="157" y="590.06" width="3.25" height="9.7" fill="#5ec6f5"/>
<text x="152.10" y="597.96" font-size="8.1" fill="#4b5563" text-anchor="end" >ePE</text>
<text x="164.05" y="597.66" font-size="7" fill="#505a66" >3.3%</text>
<rect x="28.5" y="603.38" width="98.5" height="9.7" fill="#f2f3f5"/>
<rect x="28.5" y="603.38" width="3.25" height="9.7" fill="#a584f7"/>
<text x="23.30" y="611.28" font-size="8.1" fill="#4b5563" text-anchor="end" >SPH</text>
<text x="35.55" y="610.98" font-size="7" fill="#505a66" >3.3%</text>
<rect x="157" y="603.38" width="98.5" height="9.7" fill="#f2f3f5"/>
<rect x="157" y="603.38" width="3.15" height="9.7" fill="#5ec6f5"/>
<text x="152.10" y="611.28" font-size="8.1" fill="#4b5563" text-anchor="end" >SPH</text>
<text x="163.95" y="610.98" font-size="7" fill="#505a66" >3.2%</text>
<rect x="28.5" y="616.70" width="98.5" height="9.7" fill="#f2f3f5"/>
<rect x="28.5" y="616.70" width="0.69" height="9.7" fill="#a584f7"/>
<text x="23.30" y="624.60" font-size="8.1" fill="#4b5563" text-anchor="end" >PE</text>
<text x="32.99" y="624.30" font-size="7" fill="#505a66" >0.7%</text>
<rect x="157" y="616.70" width="98.5" height="9.7" fill="#f2f3f5"/>
<rect x="157" y="616.70" width="0.60" height="9.7" fill="#5ec6f5"/>
<text x="152.10" y="624.60" font-size="8.1" fill="#4b5563" text-anchor="end" >PE</text>
<text x="161.40" y="624.30" font-size="7" fill="#505a66" >0.6%</text>
<rect x="28.5" y="630.02" width="98.5" height="9.7" fill="#f2f3f5"/>
<rect x="28.5" y="630.02" width="3.15" height="9.7" fill="#a584f7"/>
<text x="23.30" y="637.92" font-size="8.1" fill="#4b5563" text-anchor="end" >Other</text>
<text x="35.45" y="637.62" font-size="7" fill="#505a66" >3.2%</text>
<rect x="157" y="630.02" width="98.5" height="9.7" fill="#f2f3f5"/>
<rect x="157" y="630.02" width="4.53" height="9.7" fill="#5ec6f5"/>
<text x="152.10" y="637.92" font-size="8.1" fill="#4b5563" text-anchor="end" >Other</text>
<text x="165.33" y="637.62" font-size="7" fill="#505a66" >4.6%</text>
<text x="351.40" y="35.10" font-size="13" fill="#3d4859" textLength="16.50" lengthAdjust="spacingAndGlyphs" >PC</text>
<line x1="349.50" y1="49.10" x2="349.50" y2="167.50" stroke="#d3d7dd" stroke-width="0.8" stroke-dasharray="4,1.6"/>
<line x1="369.30" y1="49.10" x2="369.30" y2="167.50" stroke="#d3d7dd" stroke-width="0.8" stroke-dasharray="4,1.6"/>
<line x1="300.00" y1="148.25" x2="418.80" y2="148.25" stroke="#d3d7dd" stroke-width="0.8" stroke-dasharray="4,1.6"/>
<line x1="359.40" y1="49.10" x2="359.40" y2="167.50" stroke="#7a8393" stroke-width="1"/>
<circle cx="352.8" cy="120.3" r="2.2" fill="#e0e2e6" fill-opacity="0.8" stroke="#cdd1d6" stroke-opacity="0.8" stroke-width="0.6"/>
<circle cx="355.9" cy="121.3" r="2.2" fill="#e0e2e6" fill-opacity="0.8" stroke="#cdd1d6" stroke-opacity="0.8" stroke-width="0.6"/>
<circle cx="354.3" cy="123.9" r="2.2" fill="#e0e2e6" fill-opacity="0.8" stroke="#cdd1d6" stroke-opacity="0.8" stroke-width="0.6"/>
<circle cx="353.3" cy="127.0" r="2.2" fill="#e0e2e6" fill-opacity="0.8" stroke="#cdd1d6" stroke-opacity="0.8" stroke-width="0.6"/>
<circle cx="356.4" cy="129.0" r="2.2" fill="#e0e2e6" fill-opacity="0.8" stroke="#cdd1d6" stroke-opacity="0.8" stroke-width="0.6"/>
<circle cx="351.8" cy="129.5" r="2.2" fill="#e0e2e6" fill-opacity="0.8" stroke="#cdd1d6" stroke-opacity="0.8" stroke-width="0.6"/>
<circle cx="352.3" cy="133.1" r="2.2" fill="#e0e2e6" fill-opacity="0.8" stroke="#cdd1d6" stroke-opacity="0.8" stroke-width="0.6"/>
<circle cx="365.1" cy="120.3" r="2.2" fill="#e0e2e6" fill-opacity="0.8" stroke="#cdd1d6" stroke-opacity="0.8" stroke-width="0.6"/>
<circle cx="367.1" cy="129.5" r="2.2" fill="#e0e2e6" fill-opacity="0.8" stroke="#cdd1d6" stroke-opacity="0.8" stroke-width="0.6"/>
<circle cx="362.5" cy="133.6" r="2.2" fill="#e0e2e6" fill-opacity="0.8" stroke="#cdd1d6" stroke-opacity="0.8" stroke-width="0.6"/>
<circle cx="365.1" cy="136.7" r="2.2" fill="#e0e2e6" fill-opacity="0.8" stroke="#cdd1d6" stroke-opacity="0.8" stroke-width="0.6"/>
<circle cx="367.1" cy="138.7" r="2.2" fill="#e0e2e6" fill-opacity="0.8" stroke="#cdd1d6" stroke-opacity="0.8" stroke-width="0.6"/>
<circle cx="354.9" cy="140.3" r="2.2" fill="#e0e2e6" fill-opacity="0.8" stroke="#cdd1d6" stroke-opacity="0.8" stroke-width="0.6"/>
<circle cx="355.4" cy="142.8" r="2.2" fill="#e0e2e6" fill-opacity="0.8" stroke="#cdd1d6" stroke-opacity="0.8" stroke-width="0.6"/>
<circle cx="362.5" cy="142.3" r="2.2" fill="#e0e2e6" fill-opacity="0.8" stroke="#cdd1d6" stroke-opacity="0.8" stroke-width="0.6"/>
<circle cx="364.0" cy="144.3" r="2.2" fill="#e0e2e6" fill-opacity="0.8" stroke="#cdd1d6" stroke-opacity="0.8" stroke-width="0.6"/>
<circle cx="350.8" cy="145.9" r="2.2" fill="#e0e2e6" fill-opacity="0.8" stroke="#cdd1d6" stroke-opacity="0.8" stroke-width="0.6"/>
<circle cx="352.8" cy="147.9" r="2.2" fill="#e0e2e6" fill-opacity="0.8" stroke="#cdd1d6" stroke-opacity="0.8" stroke-width="0.6"/>
<circle cx="349.7" cy="148.4" r="2.2" fill="#e0e2e6" fill-opacity="0.8" stroke="#cdd1d6" stroke-opacity="0.8" stroke-width="0.6"/>
<circle cx="331.3" cy="148.4" r="2.2" fill="#e0e2e6" fill-opacity="0.8" stroke="#cdd1d6" stroke-opacity="0.8" stroke-width="0.6"/>
<circle cx="346.7" cy="155.1" r="2.2" fill="#e0e2e6" fill-opacity="0.8" stroke="#cdd1d6" stroke-opacity="0.8" stroke-width="0.6"/>
<circle cx="353.8" cy="152.0" r="2.2" fill="#e0e2e6" fill-opacity="0.8" stroke="#cdd1d6" stroke-opacity="0.8" stroke-width="0.6"/>
<circle cx="356.4" cy="153.5" r="2.2" fill="#e0e2e6" fill-opacity="0.8" stroke="#cdd1d6" stroke-opacity="0.8" stroke-width="0.6"/>
<circle cx="354.3" cy="156.1" r="2.2" fill="#e0e2e6" fill-opacity="0.8" stroke="#cdd1d6" stroke-opacity="0.8" stroke-width="0.6"/>
<circle cx="357.9" cy="158.1" r="2.2" fill="#e0e2e6" fill-opacity="0.8" stroke="#cdd1d6" stroke-opacity="0.8" stroke-width="0.6"/>
<circle cx="362.0" cy="151.0" r="2.2" fill="#e0e2e6" fill-opacity="0.8" stroke="#cdd1d6" stroke-opacity="0.8" stroke-width="0.6"/>
<circle cx="364.0" cy="153.0" r="2.2" fill="#e0e2e6" fill-opacity="0.8" stroke="#cdd1d6" stroke-opacity="0.8" stroke-width="0.6"/>
<circle cx="366.1" cy="155.1" r="2.2" fill="#e0e2e6" fill-opacity="0.8" stroke="#cdd1d6" stroke-opacity="0.8" stroke-width="0.6"/>
<circle cx="368.1" cy="157.1" r="2.2" fill="#e0e2e6" fill-opacity="0.8" stroke="#cdd1d6" stroke-opacity="0.8" stroke-width="0.6"/>
<circle cx="362.0" cy="160.2" r="2.2" fill="#e0e2e6" fill-opacity="0.8" stroke="#cdd1d6" stroke-opacity="0.8" stroke-width="0.6"/>
<circle cx="360.0" cy="162.2" r="2.2" fill="#e0e2e6" fill-opacity="0.8" stroke="#cdd1d6" stroke-opacity="0.8" stroke-width="0.6"/>
<circle cx="355.9" cy="164.3" r="2.2" fill="#e0e2e6" fill-opacity="0.8" stroke="#cdd1d6" stroke-opacity="0.8" stroke-width="0.6"/>
<circle cx="357.9" cy="166.3" r="2.2" fill="#e0e2e6" fill-opacity="0.8" stroke="#cdd1d6" stroke-opacity="0.8" stroke-width="0.6"/>
<circle cx="360.0" cy="167.3" r="2.2" fill="#e0e2e6" fill-opacity="0.8" stroke="#cdd1d6" stroke-opacity="0.8" stroke-width="0.6"/>
<circle cx="372.2" cy="153.0" r="2.2" fill="#e0e2e6" fill-opacity="0.8" stroke="#cdd1d6" stroke-opacity="0.8" stroke-width="0.6"/>
<circle cx="374.3" cy="151.0" r="2.2" fill="#e0e2e6" fill-opacity="0.8" stroke="#cdd1d6" stroke-opacity="0.8" stroke-width="0.6"/>
<circle cx="378.4" cy="148.9" r="2.2" fill="#e0e2e6" fill-opacity="0.8" stroke="#cdd1d6" stroke-opacity="0.8" stroke-width="0.6"/>
<circle cx="371.2" cy="157.1" r="2.2" fill="#e0e2e6" fill-opacity="0.8" stroke="#cdd1d6" stroke-opacity="0.8" stroke-width="0.6"/>
<circle cx="369.2" cy="160.2" r="2.2" fill="#e0e2e6" fill-opacity="0.8" stroke="#cdd1d6" stroke-opacity="0.8" stroke-width="0.6"/>
<circle cx="367.1" cy="163.2" r="2.2" fill="#e0e2e6" fill-opacity="0.8" stroke="#cdd1d6" stroke-opacity="0.8" stroke-width="0.6"/>
<circle cx="353.8" cy="158.1" r="2.2" fill="#e0e2e6" fill-opacity="0.8" stroke="#cdd1d6" stroke-opacity="0.8" stroke-width="0.6"/>
<circle cx="365.1" cy="147.9" r="2.2" fill="#e0e2e6" fill-opacity="0.8" stroke="#cdd1d6" stroke-opacity="0.8" stroke-width="0.6"/>
<circle cx="361.5" cy="145.9" r="2.2" fill="#e0e2e6" fill-opacity="0.8" stroke="#cdd1d6" stroke-opacity="0.8" stroke-width="0.6"/>
<circle cx="367.1" cy="143.8" r="2.2" fill="#e0e2e6" fill-opacity="0.8" stroke="#cdd1d6" stroke-opacity="0.8" stroke-width="0.6"/>
<circle cx="358.5" cy="149.0" r="2.2" fill="#e0e2e6" fill-opacity="0.8" stroke="#cdd1d6" stroke-opacity="0.8" stroke-width="0.6"/>
<circle cx="351.0" cy="151.0" r="2.2" fill="#e0e2e6" fill-opacity="0.8" stroke="#cdd1d6" stroke-opacity="0.8" stroke-width="0.6"/>
<circle cx="359.0" cy="155.0" r="2.2" fill="#e0e2e6" fill-opacity="0.8" stroke="#cdd1d6" stroke-opacity="0.8" stroke-width="0.6"/>
<circle cx="363.0" cy="157.0" r="2.2" fill="#e0e2e6" fill-opacity="0.8" stroke="#cdd1d6" stroke-opacity="0.8" stroke-width="0.6"/>
<circle cx="356.0" cy="160.0" r="2.2" fill="#e0e2e6" fill-opacity="0.8" stroke="#cdd1d6" stroke-opacity="0.8" stroke-width="0.6"/>
<circle cx="352.0" cy="162.0" r="2.2" fill="#e0e2e6" fill-opacity="0.8" stroke="#cdd1d6" stroke-opacity="0.8" stroke-width="0.6"/>
<circle cx="364.5" cy="165.0" r="2.2" fill="#e0e2e6" fill-opacity="0.8" stroke="#cdd1d6" stroke-opacity="0.8" stroke-width="0.6"/>
<circle cx="361.0" cy="164.8" r="2.2" fill="#e0e2e6" fill-opacity="0.8" stroke="#cdd1d6" stroke-opacity="0.8" stroke-width="0.6"/>
<circle cx="369.5" cy="150.5" r="2.2" fill="#e0e2e6" fill-opacity="0.8" stroke="#cdd1d6" stroke-opacity="0.8" stroke-width="0.6"/>
<circle cx="358.0" cy="141.0" r="2.2" fill="#e0e2e6" fill-opacity="0.8" stroke="#cdd1d6" stroke-opacity="0.8" stroke-width="0.6"/>
<circle cx="366.0" cy="118.5" r="2.2" fill="#e0e2e6" fill-opacity="0.8" stroke="#cdd1d6" stroke-opacity="0.8" stroke-width="0.6"/>
<circle cx="342.2" cy="75.3" r="2.2" fill="#b9a3f7" fill-opacity="0.85" stroke="#9d82ef" stroke-opacity="0.85" stroke-width="0.6"/>
<circle cx="349.5" cy="108.6" r="2.2" fill="#b9a3f7" fill-opacity="0.85" stroke="#9d82ef" stroke-opacity="0.85" stroke-width="0.6"/>
<circle cx="345.5" cy="114.4" r="2.2" fill="#b9a3f7" fill-opacity="0.85" stroke="#9d82ef" stroke-opacity="0.85" stroke-width="0.6"/>
<circle cx="347.9" cy="119.3" r="2.2" fill="#b9a3f7" fill-opacity="0.85" stroke="#9d82ef" stroke-opacity="0.85" stroke-width="0.6"/>
<circle cx="345.5" cy="124.9" r="2.2" fill="#b9a3f7" fill-opacity="0.85" stroke="#9d82ef" stroke-opacity="0.85" stroke-width="0.6"/>
<circle cx="326.2" cy="126.5" r="2.2" fill="#b9a3f7" fill-opacity="0.85" stroke="#9d82ef" stroke-opacity="0.85" stroke-width="0.6"/>
<circle cx="322.4" cy="127.7" r="2.2" fill="#b9a3f7" fill-opacity="0.85" stroke="#9d82ef" stroke-opacity="0.85" stroke-width="0.6"/>
<circle cx="318.6" cy="134.6" r="2.2" fill="#b9a3f7" fill-opacity="0.85" stroke="#9d82ef" stroke-opacity="0.85" stroke-width="0.6"/>
<circle cx="336.3" cy="133.4" r="2.2" fill="#b9a3f7" fill-opacity="0.85" stroke="#9d82ef" stroke-opacity="0.85" stroke-width="0.6"/>
<circle cx="343.6" cy="133.4" r="2.2" fill="#b9a3f7" fill-opacity="0.85" stroke="#9d82ef" stroke-opacity="0.85" stroke-width="0.6"/>
<circle cx="347.9" cy="135.7" r="2.2" fill="#b9a3f7" fill-opacity="0.85" stroke="#9d82ef" stroke-opacity="0.85" stroke-width="0.6"/>
<circle cx="339.0" cy="135.7" r="2.2" fill="#b9a3f7" fill-opacity="0.85" stroke="#9d82ef" stroke-opacity="0.85" stroke-width="0.6"/>
<circle cx="345.1" cy="136.7" r="2.2" fill="#b9a3f7" fill-opacity="0.85" stroke="#9d82ef" stroke-opacity="0.85" stroke-width="0.6"/>
<circle cx="340.0" cy="138.2" r="2.2" fill="#b9a3f7" fill-opacity="0.85" stroke="#9d82ef" stroke-opacity="0.85" stroke-width="0.6"/>
<circle cx="337.5" cy="139.7" r="2.2" fill="#b9a3f7" fill-opacity="0.85" stroke="#9d82ef" stroke-opacity="0.85" stroke-width="0.6"/>
<circle cx="342.1" cy="140.3" r="2.2" fill="#b9a3f7" fill-opacity="0.85" stroke="#9d82ef" stroke-opacity="0.85" stroke-width="0.6"/>
<circle cx="345.1" cy="140.3" r="2.2" fill="#b9a3f7" fill-opacity="0.85" stroke="#9d82ef" stroke-opacity="0.85" stroke-width="0.6"/>
<circle cx="339.0" cy="142.3" r="2.2" fill="#b9a3f7" fill-opacity="0.85" stroke="#9d82ef" stroke-opacity="0.85" stroke-width="0.6"/>
<circle cx="335.4" cy="143.3" r="2.2" fill="#b9a3f7" fill-opacity="0.85" stroke="#9d82ef" stroke-opacity="0.85" stroke-width="0.6"/>
<circle cx="335.4" cy="145.7" r="2.2" fill="#b9a3f7" fill-opacity="0.85" stroke="#9d82ef" stroke-opacity="0.85" stroke-width="0.6"/>
<circle cx="343.6" cy="141.3" r="2.2" fill="#b9a3f7" fill-opacity="0.85" stroke="#9d82ef" stroke-opacity="0.85" stroke-width="0.6"/>
<circle cx="392.1" cy="113.4" r="2.2" fill="#86d4f3" fill-opacity="0.9" stroke="#58bde8" stroke-opacity="0.85" stroke-width="0.6"/>
<circle cx="370.2" cy="122.2" r="2.2" fill="#86d4f3" fill-opacity="0.9" stroke="#58bde8" stroke-opacity="0.85" stroke-width="0.6"/>
<circle cx="371.4" cy="123.6" r="2.2" fill="#86d4f3" fill-opacity="0.9" stroke="#58bde8" stroke-opacity="0.85" stroke-width="0.6"/>
<circle cx="375.1" cy="125.2" r="2.2" fill="#86d4f3" fill-opacity="0.9" stroke="#58bde8" stroke-opacity="0.85" stroke-width="0.6"/>
<circle cx="387.9" cy="122.5" r="2.2" fill="#86d4f3" fill-opacity="0.9" stroke="#58bde8" stroke-opacity="0.85" stroke-width="0.6"/>
<circle cx="386.2" cy="126.7" r="2.2" fill="#86d4f3" fill-opacity="0.9" stroke="#58bde8" stroke-opacity="0.85" stroke-width="0.6"/>
<circle cx="388.3" cy="127.8" r="2.2" fill="#86d4f3" fill-opacity="0.9" stroke="#58bde8" stroke-opacity="0.85" stroke-width="0.6"/>
<circle cx="369.5" cy="129.5" r="2.2" fill="#86d4f3" fill-opacity="0.9" stroke="#58bde8" stroke-opacity="0.85" stroke-width="0.6"/>
<circle cx="369.8" cy="145.9" r="2.2" fill="#86d4f3" fill-opacity="0.9" stroke="#58bde8" stroke-opacity="0.85" stroke-width="0.6"/>
<circle cx="415.2" cy="146.8" r="2.2" fill="#86d4f3" fill-opacity="0.9" stroke="#58bde8" stroke-opacity="0.85" stroke-width="0.6"/>
<line x1="300.00" y1="49.10" x2="300.00" y2="167.50" stroke="#b9c0ca" stroke-width="1.5"/>
<line x1="295.00" y1="167.50" x2="418.80" y2="167.50" stroke="#a9b0bb" stroke-width="1.2"/>
<line x1="295.00" y1="167.50" x2="300.00" y2="167.50" stroke="#7a8291" stroke-width="1"/>
<text x="291.10" y="170.50" font-size="9.4" fill="#4a5466" text-anchor="end" >0</text>
<line x1="295.00" y1="137.90" x2="300.00" y2="137.90" stroke="#7a8291" stroke-width="1"/>
<text x="291.10" y="140.90" font-size="9.4" fill="#4a5466" text-anchor="end" >2</text>
<line x1="295.00" y1="108.30" x2="300.00" y2="108.30" stroke="#7a8291" stroke-width="1"/>
<text x="291.10" y="111.30" font-size="9.4" fill="#4a5466" text-anchor="end" >4</text>
<line x1="295.00" y1="78.70" x2="300.00" y2="78.70" stroke="#7a8291" stroke-width="1"/>
<text x="291.10" y="81.70" font-size="9.4" fill="#4a5466" text-anchor="end" >6</text>
<line x1="295.00" y1="49.10" x2="300.00" y2="49.10" stroke="#7a8291" stroke-width="1"/>
<text x="291.10" y="52.10" font-size="9.4" fill="#4a5466" text-anchor="end" >8</text>
<line x1="300.00" y1="167.50" x2="300.00" y2="172.70" stroke="#7a8291" stroke-width="1"/>
<text x="300.00" y="183.40" font-size="10" fill="#4a5466" text-anchor="middle" >−6</text>
<line x1="319.80" y1="167.50" x2="319.80" y2="172.70" stroke="#7a8291" stroke-width="1"/>
<text x="319.80" y="183.40" font-size="10" fill="#4a5466" text-anchor="middle" >−4</text>
<line x1="339.60" y1="167.50" x2="339.60" y2="172.70" stroke="#7a8291" stroke-width="1"/>
<text x="339.60" y="183.40" font-size="10" fill="#4a5466" text-anchor="middle" >−2</text>
<line x1="359.40" y1="167.50" x2="359.40" y2="172.70" stroke="#7a8291" stroke-width="1"/>
<text x="359.40" y="183.40" font-size="10" fill="#4a5466" text-anchor="middle" >0</text>
<line x1="379.20" y1="167.50" x2="379.20" y2="172.70" stroke="#7a8291" stroke-width="1"/>
<text x="379.20" y="183.40" font-size="10" fill="#4a5466" text-anchor="middle" >2</text>
<line x1="399.00" y1="167.50" x2="399.00" y2="172.70" stroke="#7a8291" stroke-width="1"/>
<text x="399.00" y="183.40" font-size="10" fill="#4a5466" text-anchor="middle" >4</text>
<line x1="418.80" y1="167.50" x2="418.80" y2="172.70" stroke="#7a8291" stroke-width="1"/>
<text x="418.80" y="183.40" font-size="10" fill="#4a5466" text-anchor="middle" >6</text>
<text x="314.60" y="199.10" font-size="10.5" fill="#3d4859" textLength="90.10" lengthAdjust="spacingAndGlyphs" >Log2 Fold Change</text>
<text x="277.70" y="108.00" font-size="10.5" fill="#3d4859" text-anchor="middle" textLength="75.50" lengthAdjust="spacingAndGlyphs" transform="rotate(-90 277.70 108.00)" >-Log10 P-value</text>
<text x="525.10" y="35.10" font-size="13" fill="#3d4859" textLength="45.90" lengthAdjust="spacingAndGlyphs" >PE, ePE</text>
<line x1="537.50" y1="49.90" x2="537.50" y2="168.30" stroke="#d3d7dd" stroke-width="0.8" stroke-dasharray="4,1.6"/>
<line x1="557.30" y1="49.90" x2="557.30" y2="168.30" stroke="#d3d7dd" stroke-width="0.8" stroke-dasharray="4,1.6"/>
<line x1="488.00" y1="149.05" x2="606.80" y2="149.05" stroke="#d3d7dd" stroke-width="0.8" stroke-dasharray="4,1.6"/>
<line x1="547.40" y1="49.90" x2="547.40" y2="168.30" stroke="#7a8393" stroke-width="1"/>
<circle cx="492.7" cy="157.0" r="2.2" fill="#e0e2e6" fill-opacity="0.8" stroke="#cdd1d6" stroke-opacity="0.8" stroke-width="0.6"/>
<circle cx="541.3" cy="132.9" r="2.2" fill="#e0e2e6" fill-opacity="0.8" stroke="#cdd1d6" stroke-opacity="0.8" stroke-width="0.6"/>
<circle cx="540.3" cy="142.7" r="2.2" fill="#e0e2e6" fill-opacity="0.8" stroke="#cdd1d6" stroke-opacity="0.8" stroke-width="0.6"/>
<circle cx="542.3" cy="144.2" r="2.2" fill="#e0e2e6" fill-opacity="0.8" stroke="#cdd1d6" stroke-opacity="0.8" stroke-width="0.6"/>
<circle cx="543.8" cy="145.6" r="2.2" fill="#e0e2e6" fill-opacity="0.8" stroke="#cdd1d6" stroke-opacity="0.8" stroke-width="0.6"/>
<circle cx="550.5" cy="144.2" r="2.2" fill="#e0e2e6" fill-opacity="0.8" stroke="#cdd1d6" stroke-opacity="0.8" stroke-width="0.6"/>
<circle cx="551.5" cy="150.3" r="2.2" fill="#e0e2e6" fill-opacity="0.8" stroke="#cdd1d6" stroke-opacity="0.8" stroke-width="0.6"/>
<circle cx="543.4" cy="150.3" r="2.2" fill="#e0e2e6" fill-opacity="0.8" stroke="#cdd1d6" stroke-opacity="0.8" stroke-width="0.6"/>
<circle cx="545.0" cy="153.4" r="2.2" fill="#e0e2e6" fill-opacity="0.8" stroke="#cdd1d6" stroke-opacity="0.8" stroke-width="0.6"/>
<circle cx="539.3" cy="154.4" r="2.2" fill="#e0e2e6" fill-opacity="0.8" stroke="#cdd1d6" stroke-opacity="0.8" stroke-width="0.6"/>
<circle cx="551.9" cy="156.4" r="2.2" fill="#e0e2e6" fill-opacity="0.8" stroke="#cdd1d6" stroke-opacity="0.8" stroke-width="0.6"/>
<circle cx="550.1" cy="159.5" r="2.2" fill="#e0e2e6" fill-opacity="0.8" stroke="#cdd1d6" stroke-opacity="0.8" stroke-width="0.6"/>
<circle cx="545.4" cy="161.5" r="2.2" fill="#e0e2e6" fill-opacity="0.8" stroke="#cdd1d6" stroke-opacity="0.8" stroke-width="0.6"/>
<circle cx="549.1" cy="163.6" r="2.2" fill="#e0e2e6" fill-opacity="0.8" stroke="#cdd1d6" stroke-opacity="0.8" stroke-width="0.6"/>
<circle cx="547.4" cy="166.0" r="2.2" fill="#e0e2e6" fill-opacity="0.8" stroke="#cdd1d6" stroke-opacity="0.8" stroke-width="0.6"/>
<circle cx="546.4" cy="167.3" r="2.2" fill="#e0e2e6" fill-opacity="0.8" stroke="#cdd1d6" stroke-opacity="0.8" stroke-width="0.6"/>
<circle cx="548.5" cy="157.0" r="2.2" fill="#e0e2e6" fill-opacity="0.8" stroke="#cdd1d6" stroke-opacity="0.8" stroke-width="0.6"/>
<circle cx="544.0" cy="158.0" r="2.2" fill="#e0e2e6" fill-opacity="0.8" stroke="#cdd1d6" stroke-opacity="0.8" stroke-width="0.6"/>
<circle cx="513.7" cy="111.5" r="2.2" fill="#b9a3f7" fill-opacity="0.85" stroke="#9d82ef" stroke-opacity="0.85" stroke-width="0.6"/>
<circle cx="536.8" cy="121.3" r="2.2" fill="#b9a3f7" fill-opacity="0.85" stroke="#9d82ef" stroke-opacity="0.85" stroke-width="0.6"/>
<circle cx="533.1" cy="123.3" r="2.2" fill="#b9a3f7" fill-opacity="0.85" stroke="#9d82ef" stroke-opacity="0.85" stroke-width="0.6"/>
<circle cx="517.4" cy="127.0" r="2.2" fill="#b9a3f7" fill-opacity="0.85" stroke="#9d82ef" stroke-opacity="0.85" stroke-width="0.6"/>
<circle cx="511.7" cy="132.5" r="2.2" fill="#b9a3f7" fill-opacity="0.85" stroke="#9d82ef" stroke-opacity="0.85" stroke-width="0.6"/>
<circle cx="530.7" cy="135.0" r="2.2" fill="#b9a3f7" fill-opacity="0.85" stroke="#9d82ef" stroke-opacity="0.85" stroke-width="0.6"/>
<circle cx="534.2" cy="138.4" r="2.2" fill="#b9a3f7" fill-opacity="0.85" stroke="#9d82ef" stroke-opacity="0.85" stroke-width="0.6"/>
<circle cx="536.4" cy="144.8" r="2.2" fill="#b9a3f7" fill-opacity="0.85" stroke="#9d82ef" stroke-opacity="0.85" stroke-width="0.6"/>
<circle cx="537.4" cy="148.9" r="2.2" fill="#b9a3f7" fill-opacity="0.85" stroke="#9d82ef" stroke-opacity="0.85" stroke-width="0.6"/>
<circle cx="557.3" cy="139.7" r="2.2" fill="#86d4f3" fill-opacity="0.9" stroke="#58bde8" stroke-opacity="0.85" stroke-width="0.6"/>
<circle cx="574.6" cy="141.1" r="2.2" fill="#86d4f3" fill-opacity="0.9" stroke="#58bde8" stroke-opacity="0.85" stroke-width="0.6"/>
<line x1="488.00" y1="49.90" x2="488.00" y2="168.30" stroke="#b9c0ca" stroke-width="1.5"/>
<line x1="483.00" y1="168.30" x2="606.80" y2="168.30" stroke="#a9b0bb" stroke-width="1.2"/>
<line x1="483.00" y1="168.30" x2="488.00" y2="168.30" stroke="#7a8291" stroke-width="1"/>
<text x="479.10" y="171.30" font-size="9.4" fill="#4a5466" text-anchor="end" >0</text>
<line x1="483.00" y1="138.70" x2="488.00" y2="138.70" stroke="#7a8291" stroke-width="1"/>
<text x="479.10" y="141.70" font-size="9.4" fill="#4a5466" text-anchor="end" >2</text>
<line x1="483.00" y1="109.10" x2="488.00" y2="109.10" stroke="#7a8291" stroke-width="1"/>
<text x="479.10" y="112.10" font-size="9.4" fill="#4a5466" text-anchor="end" >4</text>
<line x1="483.00" y1="79.50" x2="488.00" y2="79.50" stroke="#7a8291" stroke-width="1"/>
<text x="479.10" y="82.50" font-size="9.4" fill="#4a5466" text-anchor="end" >6</text>
<line x1="483.00" y1="49.90" x2="488.00" y2="49.90" stroke="#7a8291" stroke-width="1"/>
<text x="479.10" y="52.90" font-size="9.4" fill="#4a5466" text-anchor="end" >8</text>
<line x1="488.00" y1="168.30" x2="488.00" y2="173.50" stroke="#7a8291" stroke-width="1"/>
<text x="488.00" y="184.20" font-size="10" fill="#4a5466" text-anchor="middle" >−6</text>
<line x1="507.80" y1="168.30" x2="507.80" y2="173.50" stroke="#7a8291" stroke-width="1"/>
<text x="507.80" y="184.20" font-size="10" fill="#4a5466" text-anchor="middle" >−4</text>
<line x1="527.60" y1="168.30" x2="527.60" y2="173.50" stroke="#7a8291" stroke-width="1"/>
<text x="527.60" y="184.20" font-size="10" fill="#4a5466" text-anchor="middle" >−2</text>
<line x1="547.40" y1="168.30" x2="547.40" y2="173.50" stroke="#7a8291" stroke-width="1"/>
<text x="547.40" y="184.20" font-size="10" fill="#4a5466" text-anchor="middle" >0</text>
<line x1="567.20" y1="168.30" x2="567.20" y2="173.50" stroke="#7a8291" stroke-width="1"/>
<text x="567.20" y="184.20" font-size="10" fill="#4a5466" text-anchor="middle" >2</text>
<line x1="587.00" y1="168.30" x2="587.00" y2="173.50" stroke="#7a8291" stroke-width="1"/>
<text x="587.00" y="184.20" font-size="10" fill="#4a5466" text-anchor="middle" >4</text>
<line x1="606.80" y1="168.30" x2="606.80" y2="173.50" stroke="#7a8291" stroke-width="1"/>
<text x="606.80" y="184.20" font-size="10" fill="#4a5466" text-anchor="middle" >6</text>
<text x="502.10" y="200.40" font-size="10.5" fill="#3d4859" textLength="90.30" lengthAdjust="spacingAndGlyphs" >Log2 Fold Change</text>
<text x="466.50" y="109.00" font-size="10.5" fill="#3d4859" text-anchor="middle" textLength="75.50" lengthAdjust="spacingAndGlyphs" transform="rotate(-90 466.50 109.00)" >-Log10 P-value</text>
<circle cx="620.9" cy="61.3" r="2.3" fill="#7dd0f2"/>
<text x="628.80" y="64.00" font-size="7.8" fill="#4a5466" textLength="28.30" lengthAdjust="spacingAndGlyphs" >Caov-3</text>
<circle cx="620.9" cy="71.9" r="2.3" fill="#dcdee2"/>
<text x="628.80" y="74.60" font-size="7.8" fill="#4a5466" textLength="55.20" lengthAdjust="spacingAndGlyphs" >Not significant</text>
<circle cx="620.9" cy="82.3" r="2.3" fill="#b39af7"/>
<text x="628.80" y="85.00" font-size="7.8" fill="#4a5466" textLength="36.60" lengthAdjust="spacingAndGlyphs" >OVCAR-3</text>
<text x="351.30" y="252.60" font-size="13" fill="#3d4859" textLength="16.60" lengthAdjust="spacingAndGlyphs" >PC</text>
<rect x="310.75" y="260.40" width="12.31" height="12.31" fill="#5899c9"/>
<rect x="323.01" y="260.40" width="12.31" height="12.31" fill="#5292c6"/>
<rect x="335.27" y="260.40" width="12.31" height="12.31" fill="#3462a8"/>
<rect x="347.53" y="260.40" width="12.31" height="12.31" fill="#4d89c3"/>
<rect x="359.79" y="260.40" width="12.31" height="12.31" fill="#93c6de"/>
<rect x="372.05" y="260.40" width="12.31" height="12.31" fill="#87bedb"/>
<rect x="384.31" y="260.40" width="12.31" height="12.31" fill="#93c6de"/>
<rect x="396.57" y="260.40" width="12.31" height="12.31" fill="#7db8d9"/>
<text x="307.60" y="268.93" font-size="8.2" fill="#42474f" text-anchor="end" >PC(40:10)</text>
<rect x="310.75" y="272.66" width="12.31" height="12.31" fill="#9dcce0"/>
<rect x="323.01" y="272.66" width="12.31" height="12.31" fill="#9dcce0"/>
<rect x="335.27" y="272.66" width="12.31" height="12.31" fill="#9dcce0"/>
<rect x="347.53" y="272.66" width="12.31" height="12.31" fill="#98c9df"/>
<rect x="359.79" y="272.66" width="12.31" height="12.31" fill="#60a0cd"/>
<rect x="372.05" y="272.66" width="12.31" height="12.31" fill="#294c8c"/>
<rect x="384.31" y="272.66" width="12.31" height="12.31" fill="#5899c9"/>
<rect x="396.57" y="272.66" width="12.31" height="12.31" fill="#60a0cd"/>
<text x="307.60" y="281.19" font-size="8.2" fill="#42474f" text-anchor="end" >PC(45:11)</text>
<rect x="310.75" y="284.92" width="12.31" height="12.31" fill="#60a0cd"/>
<rect x="323.01" y="284.92" width="12.31" height="12.31" fill="#4d89c3"/>
<rect x="335.27" y="284.92" width="12.31" height="12.31" fill="#467ebc"/>
<rect x="347.53" y="284.92" width="12.31" height="12.31" fill="#396aaf"/>
<rect x="359.79" y="284.92" width="12.31" height="12.31" fill="#7db8d9"/>
<rect x="372.05" y="284.92" width="12.31" height="12.31" fill="#93c6de"/>
<rect x="384.31" y="284.92" width="12.31" height="12.31" fill="#98c9df"/>
<rect x="396.57" y="284.92" width="12.31" height="12.31" fill="#87bedb"/>
<text x="307.60" y="293.45" font-size="8.2" fill="#42474f" text-anchor="end" >PC(38:9)</text>
<rect x="310.75" y="297.18" width="12.31" height="12.31" fill="#5899c9"/>
<rect x="323.01" y="297.18" width="12.31" height="12.31" fill="#5899c9"/>
<rect x="335.27" y="297.18" width="12.31" height="12.31" fill="#3f74b6"/>
<rect x="347.53" y="297.18" width="12.31" height="12.31" fill="#396aaf"/>
<rect x="359.79" y="297.18" width="12.31" height="12.31" fill="#98c9df"/>
<rect x="372.05" y="297.18" width="12.31" height="12.31" fill="#98c9df"/>
<rect x="384.31" y="297.18" width="12.31" height="12.31" fill="#98c9df"/>
<rect x="396.57" y="297.18" width="12.31" height="12.31" fill="#87bedb"/>
<text x="307.60" y="305.71" font-size="8.2" fill="#42474f" text-anchor="end" >PC(36:8)</text>
<rect x="310.75" y="309.44" width="12.31" height="12.31" fill="#60a0cd"/>
<rect x="323.01" y="309.44" width="12.31" height="12.31" fill="#5899c9"/>
<rect x="335.27" y="309.44" width="12.31" height="12.31" fill="#3f74b6"/>
<rect x="347.53" y="309.44" width="12.31" height="12.31" fill="#396aaf"/>
<rect x="359.79" y="309.44" width="12.31" height="12.31" fill="#98c9df"/>
<rect x="372.05" y="309.44" width="12.31" height="12.31" fill="#93c6de"/>
<rect x="384.31" y="309.44" width="12.31" height="12.31" fill="#93c6de"/>
<rect x="396.57" y="309.44" width="12.31" height="12.31" fill="#87bedb"/>
<text x="307.60" y="317.97" font-size="8.2" fill="#42474f" text-anchor="end" >PC(38:8)</text>
<rect x="310.75" y="321.70" width="12.31" height="12.31" fill="#5292c6"/>
<rect x="323.01" y="321.70" width="12.31" height="12.31" fill="#5292c6"/>
<rect x="335.27" y="321.70" width="12.31" height="12.31" fill="#4d89c3"/>
<rect x="347.53" y="321.70" width="12.31" height="12.31" fill="#396aaf"/>
<rect x="359.79" y="321.70" width="12.31" height="12.31" fill="#9dcce0"/>
<rect x="372.05" y="321.70" width="12.31" height="12.31" fill="#98c9df"/>
<rect x="384.31" y="321.70" width="12.31" height="12.31" fill="#98c9df"/>
<rect x="396.57" y="321.70" width="12.31" height="12.31" fill="#93c6de"/>
<text x="307.60" y="330.23" font-size="8.2" fill="#42474f" text-anchor="end" >PC(34:7)</text>
<rect x="310.75" y="333.96" width="12.31" height="12.31" fill="#5899c9"/>
<rect x="323.01" y="333.96" width="12.31" height="12.31" fill="#5899c9"/>
<rect x="335.27" y="333.96" width="12.31" height="12.31" fill="#396aaf"/>
<rect x="347.53" y="333.96" width="12.31" height="12.31" fill="#4d89c3"/>
<rect x="359.79" y="333.96" width="12.31" height="12.31" fill="#98c9df"/>
<rect x="372.05" y="333.96" width="12.31" height="12.31" fill="#87bedb"/>
<rect x="384.31" y="333.96" width="12.31" height="12.31" fill="#98c9df"/>
<rect x="396.57" y="333.96" width="12.31" height="12.31" fill="#73b1d6"/>
<text x="307.60" y="342.49" font-size="8.2" fill="#42474f" text-anchor="end" >PC(35:7)</text>
<rect x="310.75" y="346.22" width="12.31" height="12.31" fill="#467ebc"/>
<rect x="323.01" y="346.22" width="12.31" height="12.31" fill="#4d89c3"/>
<rect x="335.27" y="346.22" width="12.31" height="12.31" fill="#5899c9"/>
<rect x="347.53" y="346.22" width="12.31" height="12.31" fill="#5899c9"/>
<rect x="359.79" y="346.22" width="12.31" height="12.31" fill="#87bedb"/>
<rect x="372.05" y="346.22" width="12.31" height="12.31" fill="#7db8d9"/>
<rect x="384.31" y="346.22" width="12.31" height="12.31" fill="#93c6de"/>
<rect x="396.57" y="346.22" width="12.31" height="12.31" fill="#7db8d9"/>
<text x="307.60" y="354.75" font-size="8.2" fill="#42474f" text-anchor="end" >PC(36:7)</text>
<rect x="310.75" y="358.48" width="12.31" height="12.31" fill="#60a0cd"/>
<rect x="323.01" y="358.48" width="12.31" height="12.31" fill="#5899c9"/>
<rect x="335.27" y="358.48" width="12.31" height="12.31" fill="#396aaf"/>
<rect x="347.53" y="358.48" width="12.31" height="12.31" fill="#4d89c3"/>
<rect x="359.79" y="358.48" width="12.31" height="12.31" fill="#98c9df"/>
<rect x="372.05" y="358.48" width="12.31" height="12.31" fill="#7db8d9"/>
<rect x="384.31" y="358.48" width="12.31" height="12.31" fill="#93c6de"/>
<rect x="396.57" y="358.48" width="12.31" height="12.31" fill="#7db8d9"/>
<text x="307.60" y="367.01" font-size="8.2" fill="#42474f" text-anchor="end" >PC(38:7)</text>
<rect x="310.75" y="370.74" width="12.31" height="12.31" fill="#5899c9"/>
<rect x="323.01" y="370.74" width="12.31" height="12.31" fill="#73b1d6"/>
<rect x="335.27" y="370.74" width="12.31" height="12.31" fill="#396aaf"/>
<rect x="347.53" y="370.74" width="12.31" height="12.31" fill="#467ebc"/>
<rect x="359.79" y="370.74" width="12.31" height="12.31" fill="#9dcce0"/>
<rect x="372.05" y="370.74" width="12.31" height="12.31" fill="#93c6de"/>
<rect x="384.31" y="370.74" width="12.31" height="12.31" fill="#98c9df"/>
<rect x="396.57" y="370.74" width="12.31" height="12.31" fill="#93c6de"/>
<text x="307.60" y="379.27" font-size="8.2" fill="#42474f" text-anchor="end" >PC(34:6)</text>
<rect x="310.75" y="383.00" width="12.31" height="12.31" fill="#60a0cd"/>
<rect x="323.01" y="383.00" width="12.31" height="12.31" fill="#5899c9"/>
<rect x="335.27" y="383.00" width="12.31" height="12.31" fill="#396aaf"/>
<rect x="347.53" y="383.00" width="12.31" height="12.31" fill="#3f74b6"/>
<rect x="359.79" y="383.00" width="12.31" height="12.31" fill="#98c9df"/>
<rect x="372.05" y="383.00" width="12.31" height="12.31" fill="#98c9df"/>
<rect x="384.31" y="383.00" width="12.31" height="12.31" fill="#98c9df"/>
<rect x="396.57" y="383.00" width="12.31" height="12.31" fill="#87bedb"/>
<text x="307.60" y="391.53" font-size="8.2" fill="#42474f" text-anchor="end" >PC(36:6)</text>
<rect x="310.75" y="395.26" width="12.31" height="12.31" fill="#9dcce0"/>
<rect x="323.01" y="395.26" width="12.31" height="12.31" fill="#9dcce0"/>
<rect x="335.27" y="395.26" width="12.31" height="12.31" fill="#98c9df"/>
<rect x="347.53" y="395.26" width="12.31" height="12.31" fill="#98c9df"/>
<rect x="359.79" y="395.26" width="12.31" height="12.31" fill="#5292c6"/>
<rect x="372.05" y="395.26" width="12.31" height="12.31" fill="#3f74b6"/>
<rect x="384.31" y="395.26" width="12.31" height="12.31" fill="#5899c9"/>
<rect x="396.57" y="395.26" width="12.31" height="12.31" fill="#4d89c3"/>
<text x="307.60" y="403.79" font-size="8.2" fill="#42474f" text-anchor="end" >PC(43:7)</text>
<rect x="310.75" y="407.52" width="12.31" height="12.31" fill="#5292c6"/>
<rect x="323.01" y="407.52" width="12.31" height="12.31" fill="#5292c6"/>
<rect x="335.27" y="407.52" width="12.31" height="12.31" fill="#3f74b6"/>
<rect x="347.53" y="407.52" width="12.31" height="12.31" fill="#4d89c3"/>
<rect x="359.79" y="407.52" width="12.31" height="12.31" fill="#87bedb"/>
<rect x="372.05" y="407.52" width="12.31" height="12.31" fill="#93c6de"/>
<rect x="384.31" y="407.52" width="12.31" height="12.31" fill="#93c6de"/>
<rect x="396.57" y="407.52" width="12.31" height="12.31" fill="#87bedb"/>
<text x="307.60" y="416.05" font-size="8.2" fill="#42474f" text-anchor="end" >PC(37:6)</text>
<rect x="310.75" y="419.78" width="12.31" height="12.31" fill="#73b1d6"/>
<rect x="323.01" y="419.78" width="12.31" height="12.31" fill="#5899c9"/>
<rect x="335.27" y="419.78" width="12.31" height="12.31" fill="#3462a8"/>
<rect x="347.53" y="419.78" width="12.31" height="12.31" fill="#467ebc"/>
<rect x="359.79" y="419.78" width="12.31" height="12.31" fill="#9dcce0"/>
<rect x="372.05" y="419.78" width="12.31" height="12.31" fill="#93c6de"/>
<rect x="384.31" y="419.78" width="12.31" height="12.31" fill="#98c9df"/>
<rect x="396.57" y="419.78" width="12.31" height="12.31" fill="#87bedb"/>
<text x="307.60" y="428.31" font-size="8.2" fill="#42474f" text-anchor="end" >PC(32:5)</text>
<rect x="310.75" y="432.04" width="12.31" height="12.31" fill="#73b1d6"/>
<rect x="323.01" y="432.04" width="12.31" height="12.31" fill="#7db8d9"/>
<rect x="335.27" y="432.04" width="12.31" height="12.31" fill="#87bedb"/>
<rect x="347.53" y="432.04" width="12.31" height="12.31" fill="#7db8d9"/>
<rect x="359.79" y="432.04" width="12.31" height="12.31" fill="#5292c6"/>
<rect x="372.05" y="432.04" width="12.31" height="12.31" fill="#5292c6"/>
<rect x="384.31" y="432.04" width="12.31" height="12.31" fill="#3f74b6"/>
<rect x="396.57" y="432.04" width="12.31" height="12.31" fill="#5899c9"/>
<text x="307.60" y="440.57" font-size="8.2" fill="#42474f" text-anchor="end" >PC(40:6)</text>
<rect x="310.75" y="444.30" width="12.31" height="12.31" fill="#60a0cd"/>
<rect x="323.01" y="444.30" width="12.31" height="12.31" fill="#5899c9"/>
<rect x="335.27" y="444.30" width="12.31" height="12.31" fill="#467ebc"/>
<rect x="347.53" y="444.30" width="12.31" height="12.31" fill="#396aaf"/>
<rect x="359.79" y="444.30" width="12.31" height="12.31" fill="#98c9df"/>
<rect x="372.05" y="444.30" width="12.31" height="12.31" fill="#93c6de"/>
<rect x="384.31" y="444.30" width="12.31" height="12.31" fill="#93c6de"/>
<rect x="396.57" y="444.30" width="12.31" height="12.31" fill="#93c6de"/>
<text x="307.60" y="452.83" font-size="8.2" fill="#42474f" text-anchor="end" >PC(34:5)</text>
<rect x="310.75" y="456.56" width="12.31" height="12.31" fill="#98c9df"/>
<rect x="323.01" y="456.56" width="12.31" height="12.31" fill="#9dcce0"/>
<rect x="335.27" y="456.56" width="12.31" height="12.31" fill="#98c9df"/>
<rect x="347.53" y="456.56" width="12.31" height="12.31" fill="#98c9df"/>
<rect x="359.79" y="456.56" width="12.31" height="12.31" fill="#5899c9"/>
<rect x="372.05" y="456.56" width="12.31" height="12.31" fill="#5292c6"/>
<rect x="384.31" y="456.56" width="12.31" height="12.31" fill="#3f74b6"/>
<rect x="396.57" y="456.56" width="12.31" height="12.31" fill="#4d89c3"/>
<text x="307.60" y="465.09" font-size="8.2" fill="#42474f" text-anchor="end" >PC(50:7)</text>
<rect x="310.75" y="468.82" width="12.31" height="12.31" fill="#87bedb"/>
<rect x="323.01" y="468.82" width="12.31" height="12.31" fill="#98c9df"/>
<rect x="335.27" y="468.82" width="12.31" height="12.31" fill="#7db8d9"/>
<rect x="347.53" y="468.82" width="12.31" height="12.31" fill="#73b1d6"/>
<rect x="359.79" y="468.82" width="12.31" height="12.31" fill="#5899c9"/>
<rect x="372.05" y="468.82" width="12.31" height="12.31" fill="#5292c6"/>
<rect x="384.31" y="468.82" width="12.31" height="12.31" fill="#5292c6"/>
<rect x="396.57" y="468.82" width="12.31" height="12.31" fill="#467ebc"/>
<text x="307.60" y="477.35" font-size="8.2" fill="#42474f" text-anchor="end" >PC(50:8)</text>
<rect x="310.75" y="481.08" width="12.31" height="12.31" fill="#4d89c3"/>
<rect x="323.01" y="481.08" width="12.31" height="12.31" fill="#467ebc"/>
<rect x="335.27" y="481.08" width="12.31" height="12.31" fill="#467ebc"/>
<rect x="347.53" y="481.08" width="12.31" height="12.31" fill="#5899c9"/>
<rect x="359.79" y="481.08" width="12.31" height="12.31" fill="#98c9df"/>
<rect x="372.05" y="481.08" width="12.31" height="12.31" fill="#98c9df"/>
<rect x="384.31" y="481.08" width="12.31" height="12.31" fill="#87bedb"/>
<rect x="396.57" y="481.08" width="12.31" height="12.31" fill="#60a0cd"/>
<text x="307.60" y="489.61" font-size="8.2" fill="#42474f" text-anchor="end" >PC(36:5)</text>
<rect x="310.75" y="493.34" width="12.31" height="12.31" fill="#5292c6"/>
<rect x="323.01" y="493.34" width="12.31" height="12.31" fill="#5292c6"/>
<rect x="335.27" y="493.34" width="12.31" height="12.31" fill="#396aaf"/>
<rect x="347.53" y="493.34" width="12.31" height="12.31" fill="#3f74b6"/>
<rect x="359.79" y="493.34" width="12.31" height="12.31" fill="#98c9df"/>
<rect x="372.05" y="493.34" width="12.31" height="12.31" fill="#93c6de"/>
<rect x="384.31" y="493.34" width="12.31" height="12.31" fill="#98c9df"/>
<rect x="396.57" y="493.34" width="12.31" height="12.31" fill="#98c9df"/>
<text x="307.60" y="501.87" font-size="8.2" fill="#42474f" text-anchor="end" >PC(50:6)</text>
<rect x="310.75" y="505.60" width="12.31" height="12.31" fill="#5899c9"/>
<rect x="323.01" y="505.60" width="12.31" height="12.31" fill="#4d89c3"/>
<rect x="335.27" y="505.60" width="12.31" height="12.31" fill="#467ebc"/>
<rect x="347.53" y="505.60" width="12.31" height="12.31" fill="#3462a8"/>
<rect x="359.79" y="505.60" width="12.31" height="12.31" fill="#9dcce0"/>
<rect x="372.05" y="505.60" width="12.31" height="12.31" fill="#9dcce0"/>
<rect x="384.31" y="505.60" width="12.31" height="12.31" fill="#98c9df"/>
<rect x="396.57" y="505.60" width="12.31" height="12.31" fill="#98c9df"/>
<text x="307.60" y="514.13" font-size="8.2" fill="#42474f" text-anchor="end" >PC(32:4)</text>
<rect x="310.75" y="517.86" width="12.31" height="12.31" fill="#4d89c3"/>
<rect x="323.01" y="517.86" width="12.31" height="12.31" fill="#467ebc"/>
<rect x="335.27" y="517.86" width="12.31" height="12.31" fill="#467ebc"/>
<rect x="347.53" y="517.86" width="12.31" height="12.31" fill="#5292c6"/>
<rect x="359.79" y="517.86" width="12.31" height="12.31" fill="#93c6de"/>
<rect x="372.05" y="517.86" width="12.31" height="12.31" fill="#93c6de"/>
<rect x="384.31" y="517.86" width="12.31" height="12.31" fill="#93c6de"/>
<rect x="396.57" y="517.86" width="12.31" height="12.31" fill="#87bedb"/>
<text x="307.60" y="526.39" font-size="8.2" fill="#42474f" text-anchor="end" >PC(34:4)</text>
<rect x="310.75" y="530.12" width="12.31" height="12.31" fill="#98c9df"/>
<rect x="323.01" y="530.12" width="12.31" height="12.31" fill="#93c6de"/>
<rect x="335.27" y="530.12" width="12.31" height="12.31" fill="#7db8d9"/>
<rect x="347.53" y="530.12" width="12.31" height="12.31" fill="#7db8d9"/>
<rect x="359.79" y="530.12" width="12.31" height="12.31" fill="#5899c9"/>
<rect x="372.05" y="530.12" width="12.31" height="12.31" fill="#467ebc"/>
<rect x="384.31" y="530.12" width="12.31" height="12.31" fill="#467ebc"/>
<rect x="396.57" y="530.12" width="12.31" height="12.31" fill="#5292c6"/>
<text x="307.60" y="538.65" font-size="8.2" fill="#42474f" text-anchor="end" >PC(44:5)</text>
<rect x="310.75" y="542.38" width="12.31" height="12.31" fill="#467ebc"/>
<rect x="323.01" y="542.38" width="12.31" height="12.31" fill="#60a0cd"/>
<rect x="335.27" y="542.38" width="12.31" height="12.31" fill="#3f74b6"/>
<rect x="347.53" y="542.38" width="12.31" height="12.31" fill="#4d89c3"/>
<rect x="359.79" y="542.38" width="12.31" height="12.31" fill="#9dcce0"/>
<rect x="372.05" y="542.38" width="12.31" height="12.31" fill="#98c9df"/>
<rect x="384.31" y="542.38" width="12.31" height="12.31" fill="#98c9df"/>
<rect x="396.57" y="542.38" width="12.31" height="12.31" fill="#9dcce0"/>
<text x="307.60" y="550.91" font-size="8.2" fill="#42474f" text-anchor="end" >PC(48:5)</text>
<rect x="310.75" y="554.64" width="12.31" height="12.31" fill="#98c9df"/>
<rect x="323.01" y="554.64" width="12.31" height="12.31" fill="#98c9df"/>
<rect x="335.27" y="554.64" width="12.31" height="12.31" fill="#9dcce0"/>
<rect x="347.53" y="554.64" width="12.31" height="12.31" fill="#98c9df"/>
<rect x="359.79" y="554.64" width="12.31" height="12.31" fill="#467ebc"/>
<rect x="372.05" y="554.64" width="12.31" height="12.31" fill="#4d89c3"/>
<rect x="384.31" y="554.64" width="12.31" height="12.31" fill="#467ebc"/>
<rect x="396.57" y="554.64" width="12.31" height="12.31" fill="#5292c6"/>
<text x="307.60" y="563.17" font-size="8.2" fill="#42474f" text-anchor="end" >PC(40:4)</text>
<rect x="310.75" y="566.90" width="12.31" height="12.31" fill="#98c9df"/>
<rect x="323.01" y="566.90" width="12.31" height="12.31" fill="#98c9df"/>
<rect x="335.27" y="566.90" width="12.31" height="12.31" fill="#93c6de"/>
<rect x="347.53" y="566.90" width="12.31" height="12.31" fill="#98c9df"/>
<rect x="359.79" y="566.90" width="12.31" height="12.31" fill="#4d89c3"/>
<rect x="372.05" y="566.90" width="12.31" height="12.31" fill="#396aaf"/>
<rect x="384.31" y="566.90" width="12.31" height="12.31" fill="#60a0cd"/>
<rect x="396.57" y="566.90" width="12.31" height="12.31" fill="#4d89c3"/>
<text x="307.60" y="575.43" font-size="8.2" fill="#42474f" text-anchor="end" >PC(41:4)</text>
<rect x="310.75" y="579.16" width="12.31" height="12.31" fill="#5292c6"/>
<rect x="323.01" y="579.16" width="12.31" height="12.31" fill="#5292c6"/>
<rect x="335.27" y="579.16" width="12.31" height="12.31" fill="#5292c6"/>
<rect x="347.53" y="579.16" width="12.31" height="12.31" fill="#5292c6"/>
<rect x="359.79" y="579.16" width="12.31" height="12.31" fill="#87bedb"/>
<rect x="372.05" y="579.16" width="12.31" height="12.31" fill="#7db8d9"/>
<rect x="384.31" y="579.16" width="12.31" height="12.31" fill="#87bedb"/>
<rect x="396.57" y="579.16" width="12.31" height="12.31" fill="#7db8d9"/>
<text x="307.60" y="587.69" font-size="8.2" fill="#42474f" text-anchor="end" >PC(34:3)</text>
<rect x="310.75" y="591.42" width="12.31" height="12.31" fill="#5292c6"/>
<rect x="323.01" y="591.42" width="12.31" height="12.31" fill="#5292c6"/>
<rect x="335.27" y="591.42" width="12.31" height="12.31" fill="#4d89c3"/>
<rect x="347.53" y="591.42" width="12.31" height="12.31" fill="#467ebc"/>
<rect x="359.79" y="591.42" width="12.31" height="12.31" fill="#87bedb"/>
<rect x="372.05" y="591.42" width="12.31" height="12.31" fill="#93c6de"/>
<rect x="384.31" y="591.42" width="12.31" height="12.31" fill="#87bedb"/>
<rect x="396.57" y="591.42" width="12.31" height="12.31" fill="#7db8d9"/>
<text x="307.60" y="599.95" font-size="8.2" fill="#42474f" text-anchor="end" >PC(35:3)</text>
<rect x="310.75" y="603.68" width="12.31" height="12.31" fill="#93c6de"/>
<rect x="323.01" y="603.68" width="12.31" height="12.31" fill="#93c6de"/>
<rect x="335.27" y="603.68" width="12.31" height="12.31" fill="#87bedb"/>
<rect x="347.53" y="603.68" width="12.31" height="12.31" fill="#87bedb"/>
<rect x="359.79" y="603.68" width="12.31" height="12.31" fill="#5899c9"/>
<rect x="372.05" y="603.68" width="12.31" height="12.31" fill="#4d89c3"/>
<rect x="384.31" y="603.68" width="12.31" height="12.31" fill="#3f74b6"/>
<rect x="396.57" y="603.68" width="12.31" height="12.31" fill="#4d89c3"/>
<text x="307.60" y="612.21" font-size="8.2" fill="#42474f" text-anchor="end" >PC(40:3)</text>
<rect x="310.75" y="615.94" width="12.31" height="12.31" fill="#60a0cd"/>
<rect x="323.01" y="615.94" width="12.31" height="12.31" fill="#5899c9"/>
<rect x="335.27" y="615.94" width="12.31" height="12.31" fill="#396aaf"/>
<rect x="347.53" y="615.94" width="12.31" height="12.31" fill="#4d89c3"/>
<rect x="359.79" y="615.94" width="12.31" height="12.31" fill="#98c9df"/>
<rect x="372.05" y="615.94" width="12.31" height="12.31" fill="#87bedb"/>
<rect x="384.31" y="615.94" width="12.31" height="12.31" fill="#87bedb"/>
<rect x="396.57" y="615.94" width="12.31" height="12.31" fill="#87bedb"/>
<text x="307.60" y="624.47" font-size="8.2" fill="#42474f" text-anchor="end" >PC(32:2)</text>
<rect x="310.75" y="628.20" width="12.31" height="12.31" fill="#a5d1e4"/>
<rect x="323.01" y="628.20" width="12.31" height="12.31" fill="#87bedb"/>
<rect x="335.27" y="628.20" width="12.31" height="12.31" fill="#73b1d6"/>
<rect x="347.53" y="628.20" width="12.31" height="12.31" fill="#6aa8d2"/>
<rect x="359.79" y="628.20" width="12.31" height="12.31" fill="#6aa8d2"/>
<rect x="372.05" y="628.20" width="12.31" height="12.31" fill="#467ebc"/>
<rect x="384.31" y="628.20" width="12.31" height="12.31" fill="#467ebc"/>
<rect x="396.57" y="628.20" width="12.31" height="12.31" fill="#60a0cd"/>
<text x="307.60" y="636.73" font-size="8.2" fill="#42474f" text-anchor="end" >PC(41:2)</text>
<line x1="323.01" y1="260.40" x2="323.01" y2="640.46" stroke="#ffffff" stroke-opacity="0.22" stroke-width="0.8"/>
<line x1="335.27" y1="260.40" x2="335.27" y2="640.46" stroke="#ffffff" stroke-opacity="0.22" stroke-width="0.8"/>
<line x1="347.53" y1="260.40" x2="347.53" y2="640.46" stroke="#ffffff" stroke-opacity="0.22" stroke-width="0.8"/>
<line x1="359.79" y1="260.40" x2="359.79" y2="640.46" stroke="#ffffff" stroke-opacity="0.22" stroke-width="0.8"/>
<line x1="372.05" y1="260.40" x2="372.05" y2="640.46" stroke="#ffffff" stroke-opacity="0.22" stroke-width="0.8"/>
<line x1="384.31" y1="260.40" x2="384.31" y2="640.46" stroke="#ffffff" stroke-opacity="0.22" stroke-width="0.8"/>
<line x1="396.57" y1="260.40" x2="396.57" y2="640.46" stroke="#ffffff" stroke-opacity="0.22" stroke-width="0.8"/>
<line x1="310.75" y1="272.66" x2="408.83" y2="272.66" stroke="#ffffff" stroke-opacity="0.22" stroke-width="0.8"/>
<line x1="310.75" y1="284.92" x2="408.83" y2="284.92" stroke="#ffffff" stroke-opacity="0.22" stroke-width="0.8"/>
<line x1="310.75" y1="297.18" x2="408.83" y2="297.18" stroke="#ffffff" stroke-opacity="0.22" stroke-width="0.8"/>
<line x1="310.75" y1="309.44" x2="408.83" y2="309.44" stroke="#ffffff" stroke-opacity="0.22" stroke-width="0.8"/>
<line x1="310.75" y1="321.70" x2="408.83" y2="321.70" stroke="#ffffff" stroke-opacity="0.22" stroke-width="0.8"/>
<line x1="310.75" y1="333.96" x2="408.83" y2="333.96" stroke="#ffffff" stroke-opacity="0.22" stroke-width="0.8"/>
<line x1="310.75" y1="346.22" x2="408.83" y2="346.22" stroke="#ffffff" stroke-opacity="0.22" stroke-width="0.8"/>
<line x1="310.75" y1="358.48" x2="408.83" y2="358.48" stroke="#ffffff" stroke-opacity="0.22" stroke-width="0.8"/>
<line x1="310.75" y1="370.74" x2="408.83" y2="370.74" stroke="#ffffff" stroke-opacity="0.22" stroke-width="0.8"/>
<line x1="310.75" y1="383.00" x2="408.83" y2="383.00" stroke="#ffffff" stroke-opacity="0.22" stroke-width="0.8"/>
<line x1="310.75" y1="395.26" x2="408.83" y2="395.26" stroke="#ffffff" stroke-opacity="0.22" stroke-width="0.8"/>
<line x1="310.75" y1="407.52" x2="408.83" y2="407.52" stroke="#ffffff" stroke-opacity="0.22" stroke-width="0.8"/>
<line x1="310.75" y1="419.78" x2="408.83" y2="419.78" stroke="#ffffff" stroke-opacity="0.22" stroke-width="0.8"/>
<line x1="310.75" y1="432.04" x2="408.83" y2="432.04" stroke="#ffffff" stroke-opacity="0.22" stroke-width="0.8"/>
<line x1="310.75" y1="444.30" x2="408.83" y2="444.30" stroke="#ffffff" stroke-opacity="0.22" stroke-width="0.8"/>
<line x1="310.75" y1="456.56" x2="408.83" y2="456.56" stroke="#ffffff" stroke-opacity="0.22" stroke-width="0.8"/>
<line x1="310.75" y1="468.82" x2="408.83" y2="468.82" stroke="#ffffff" stroke-opacity="0.22" stroke-width="0.8"/>
<line x1="310.75" y1="481.08" x2="408.83" y2="481.08" stroke="#ffffff" stroke-opacity="0.22" stroke-width="0.8"/>
<line x1="310.75" y1="493.34" x2="408.83" y2="493.34" stroke="#ffffff" stroke-opacity="0.22" stroke-width="0.8"/>
<line x1="310.75" y1="505.60" x2="408.83" y2="505.60" stroke="#ffffff" stroke-opacity="0.22" stroke-width="0.8"/>
<line x1="310.75" y1="517.86" x2="408.83" y2="517.86" stroke="#ffffff" stroke-opacity="0.22" stroke-width="0.8"/>
<line x1="310.75" y1="530.12" x2="408.83" y2="530.12" stroke="#ffffff" stroke-opacity="0.22" stroke-width="0.8"/>
<line x1="310.75" y1="542.38" x2="408.83" y2="542.38" stroke="#ffffff" stroke-opacity="0.22" stroke-width="0.8"/>
<line x1="310.75" y1="554.64" x2="408.83" y2="554.64" stroke="#ffffff" stroke-opacity="0.22" stroke-width="0.8"/>
<line x1="310.75" y1="566.90" x2="408.83" y2="566.90" stroke="#ffffff" stroke-opacity="0.22" stroke-width="0.8"/>
<line x1="310.75" y1="579.16" x2="408.83" y2="579.16" stroke="#ffffff" stroke-opacity="0.22" stroke-width="0.8"/>
<line x1="310.75" y1="591.42" x2="408.83" y2="591.42" stroke="#ffffff" stroke-opacity="0.22" stroke-width="0.8"/>
<line x1="310.75" y1="603.68" x2="408.83" y2="603.68" stroke="#ffffff" stroke-opacity="0.22" stroke-width="0.8"/>
<line x1="310.75" y1="615.94" x2="408.83" y2="615.94" stroke="#ffffff" stroke-opacity="0.22" stroke-width="0.8"/>
<line x1="310.75" y1="628.20" x2="408.83" y2="628.20" stroke="#ffffff" stroke-opacity="0.22" stroke-width="0.8"/>
<text x="525.10" y="252.40" font-size="13" fill="#3d4859" textLength="45.90" lengthAdjust="spacingAndGlyphs" >PE, ePE</text>
<rect x="499.60" y="260.40" width="12.34" height="12.31" fill="#467ebc"/>
<rect x="511.89" y="260.40" width="12.34" height="12.31" fill="#5899c9"/>
<rect x="524.18" y="260.40" width="12.34" height="12.31" fill="#5899c9"/>
<rect x="536.47" y="260.40" width="12.34" height="12.31" fill="#5899c9"/>
<rect x="548.76" y="260.40" width="12.34" height="12.31" fill="#a5d1e4"/>
<rect x="561.05" y="260.40" width="12.34" height="12.31" fill="#b2d7e8"/>
<rect x="573.34" y="260.40" width="12.34" height="12.31" fill="#a5d1e4"/>
<rect x="585.63" y="260.40" width="12.34" height="12.31" fill="#a5d1e4"/>
<text x="497.60" y="269.53" font-size="8.1" fill="#42474f" text-anchor="end" >PE(P−34:6)</text>
<rect x="499.60" y="272.66" width="12.34" height="12.31" fill="#a5d1e4"/>
<rect x="511.89" y="272.66" width="12.34" height="12.31" fill="#a5d1e4"/>
<rect x="524.18" y="272.66" width="12.34" height="12.31" fill="#9dcce0"/>
<rect x="536.47" y="272.66" width="12.34" height="12.31" fill="#b2d7e8"/>
<rect x="548.76" y="272.66" width="12.34" height="12.31" fill="#5899c9"/>
<rect x="561.05" y="272.66" width="12.34" height="12.31" fill="#73b1d6"/>
<rect x="573.34" y="272.66" width="12.34" height="12.31" fill="#5899c9"/>
<rect x="585.63" y="272.66" width="12.34" height="12.31" fill="#3f74b6"/>
<text x="497.60" y="281.79" font-size="8.1" fill="#42474f" text-anchor="end" >PE(P−38:6)</text>
<rect x="499.60" y="284.92" width="12.34" height="12.31" fill="#5292c6"/>
<rect x="511.89" y="284.92" width="12.34" height="12.31" fill="#5292c6"/>
<rect x="524.18" y="284.92" width="12.34" height="12.31" fill="#4d89c3"/>
<rect x="536.47" y="284.92" width="12.34" height="12.31" fill="#60a0cd"/>
<rect x="548.76" y="284.92" width="12.34" height="12.31" fill="#b2d7e8"/>
<rect x="561.05" y="284.92" width="12.34" height="12.31" fill="#b2d7e8"/>
<rect x="573.34" y="284.92" width="12.34" height="12.31" fill="#c8e1ee"/>
<rect x="585.63" y="284.92" width="12.34" height="12.31" fill="#93c6de"/>
<text x="497.60" y="294.05" font-size="8.1" fill="#42474f" text-anchor="end" >PE(40:6)</text>
<rect x="499.60" y="297.18" width="12.34" height="12.31" fill="#467ebc"/>
<rect x="511.89" y="297.18" width="12.34" height="12.31" fill="#467ebc"/>
<rect x="524.18" y="297.18" width="12.34" height="12.31" fill="#6aa8d2"/>
<rect x="536.47" y="297.18" width="12.34" height="12.31" fill="#60a0cd"/>
<rect x="548.76" y="297.18" width="12.34" height="12.31" fill="#9dcce0"/>
<rect x="561.05" y="297.18" width="12.34" height="12.31" fill="#b2d7e8"/>
<rect x="573.34" y="297.18" width="12.34" height="12.31" fill="#a5d1e4"/>
<rect x="585.63" y="297.18" width="12.34" height="12.31" fill="#a5d1e4"/>
<text x="497.60" y="306.31" font-size="8.1" fill="#42474f" text-anchor="end" >PE(P−32:4)</text>
<rect x="499.60" y="309.44" width="12.34" height="12.31" fill="#a5d1e4"/>
<rect x="511.89" y="309.44" width="12.34" height="12.31" fill="#a5d1e4"/>
<rect x="524.18" y="309.44" width="12.34" height="12.31" fill="#a5d1e4"/>
<rect x="536.47" y="309.44" width="12.34" height="12.31" fill="#a5d1e4"/>
<rect x="548.76" y="309.44" width="12.34" height="12.31" fill="#6aa8d2"/>
<rect x="561.05" y="309.44" width="12.34" height="12.31" fill="#5899c9"/>
<rect x="573.34" y="309.44" width="12.34" height="12.31" fill="#396aaf"/>
<rect x="585.63" y="309.44" width="12.34" height="12.31" fill="#60a0cd"/>
<text x="497.60" y="318.57" font-size="8.1" fill="#42474f" text-anchor="end" >PE(42:3)</text>
<rect x="499.60" y="321.70" width="12.34" height="12.31" fill="#6aa8d2"/>
<rect x="511.89" y="321.70" width="12.34" height="12.31" fill="#5899c9"/>
<rect x="524.18" y="321.70" width="12.34" height="12.31" fill="#60a0cd"/>
<rect x="536.47" y="321.70" width="12.34" height="12.31" fill="#3f74b6"/>
<rect x="548.76" y="321.70" width="12.34" height="12.31" fill="#a5d1e4"/>
<rect x="561.05" y="321.70" width="12.34" height="12.31" fill="#b2d7e8"/>
<rect x="573.34" y="321.70" width="12.34" height="12.31" fill="#b2d7e8"/>
<rect x="585.63" y="321.70" width="12.34" height="12.31" fill="#93c6de"/>
<text x="497.60" y="330.83" font-size="8.1" fill="#42474f" text-anchor="end" >PE(P−34:2)</text>
<rect x="499.60" y="333.96" width="12.34" height="12.31" fill="#60a0cd"/>
<rect x="511.89" y="333.96" width="12.34" height="12.31" fill="#5899c9"/>
<rect x="524.18" y="333.96" width="12.34" height="12.31" fill="#467ebc"/>
<rect x="536.47" y="333.96" width="12.34" height="12.31" fill="#4d89c3"/>
<rect x="548.76" y="333.96" width="12.34" height="12.31" fill="#a5d1e4"/>
<rect x="561.05" y="333.96" width="12.34" height="12.31" fill="#b2d7e8"/>
<rect x="573.34" y="333.96" width="12.34" height="12.31" fill="#b2d7e8"/>
<rect x="585.63" y="333.96" width="12.34" height="12.31" fill="#9dcce0"/>
<text x="497.60" y="343.09" font-size="8.1" fill="#42474f" text-anchor="end" >PE(P−32:1)</text>
<rect x="499.60" y="346.22" width="12.34" height="12.31" fill="#73b1d6"/>
<rect x="511.89" y="346.22" width="12.34" height="12.31" fill="#7db8d9"/>
<rect x="524.18" y="346.22" width="12.34" height="12.31" fill="#396aaf"/>
<rect x="536.47" y="346.22" width="12.34" height="12.31" fill="#4d89c3"/>
<rect x="548.76" y="346.22" width="12.34" height="12.31" fill="#9dcce0"/>
<rect x="561.05" y="346.22" width="12.34" height="12.31" fill="#98c9df"/>
<rect x="573.34" y="346.22" width="12.34" height="12.31" fill="#98c9df"/>
<rect x="585.63" y="346.22" width="12.34" height="12.31" fill="#b2d7e8"/>
<text x="497.60" y="355.35" font-size="8.1" fill="#42474f" text-anchor="end" >PE(P−36:1)</text>
<rect x="499.60" y="358.48" width="12.34" height="12.31" fill="#3f74b6"/>
<rect x="511.89" y="358.48" width="12.34" height="12.31" fill="#467ebc"/>
<rect x="524.18" y="358.48" width="12.34" height="12.31" fill="#6aa8d2"/>
<rect x="536.47" y="358.48" width="12.34" height="12.31" fill="#60a0cd"/>
<rect x="548.76" y="358.48" width="12.34" height="12.31" fill="#9dcce0"/>
<rect x="561.05" y="358.48" width="12.34" height="12.31" fill="#a5d1e4"/>
<rect x="573.34" y="358.48" width="12.34" height="12.31" fill="#a5d1e4"/>
<rect x="585.63" y="358.48" width="12.34" height="12.31" fill="#9dcce0"/>
<text x="497.60" y="367.61" font-size="8.1" fill="#42474f" text-anchor="end" >PE(P−28:0)</text>
<rect x="499.60" y="370.74" width="12.34" height="12.31" fill="#7db8d9"/>
<rect x="511.89" y="370.74" width="12.34" height="12.31" fill="#5899c9"/>
<rect x="524.18" y="370.74" width="12.34" height="12.31" fill="#467ebc"/>
<rect x="536.47" y="370.74" width="12.34" height="12.31" fill="#4d89c3"/>
<rect x="548.76" y="370.74" width="12.34" height="12.31" fill="#b2d7e8"/>
<rect x="561.05" y="370.74" width="12.34" height="12.31" fill="#b2d7e8"/>
<rect x="573.34" y="370.74" width="12.34" height="12.31" fill="#98c9df"/>
<rect x="585.63" y="370.74" width="12.34" height="12.31" fill="#9dcce0"/>
<text x="497.60" y="379.87" font-size="8.1" fill="#42474f" text-anchor="end" >PE(P−32:0)</text>
<rect x="499.60" y="383.00" width="12.34" height="12.31" fill="#87bedb"/>
<rect x="511.89" y="383.00" width="12.34" height="12.31" fill="#73b1d6"/>
<rect x="524.18" y="383.00" width="12.34" height="12.31" fill="#3f74b6"/>
<rect x="536.47" y="383.00" width="12.34" height="12.31" fill="#4d89c3"/>
<rect x="548.76" y="383.00" width="12.34" height="12.31" fill="#a5d1e4"/>
<rect x="561.05" y="383.00" width="12.34" height="12.31" fill="#a5d1e4"/>
<rect x="573.34" y="383.00" width="12.34" height="12.31" fill="#93c6de"/>
<rect x="585.63" y="383.00" width="12.34" height="12.31" fill="#9dcce0"/>
<text x="497.60" y="392.13" font-size="8.1" fill="#42474f" text-anchor="end" >PE(P−34:0)</text>
<line x1="511.89" y1="260.40" x2="511.89" y2="395.26" stroke="#ffffff" stroke-opacity="0.22" stroke-width="0.8"/>
<line x1="524.18" y1="260.40" x2="524.18" y2="395.26" stroke="#ffffff" stroke-opacity="0.22" stroke-width="0.8"/>
<line x1="536.47" y1="260.40" x2="536.47" y2="395.26" stroke="#ffffff" stroke-opacity="0.22" stroke-width="0.8"/>
<line x1="548.76" y1="260.40" x2="548.76" y2="395.26" stroke="#ffffff" stroke-opacity="0.22" stroke-width="0.8"/>
<line x1="561.05" y1="260.40" x2="561.05" y2="395.26" stroke="#ffffff" stroke-opacity="0.22" stroke-width="0.8"/>
<line x1="573.34" y1="260.40" x2="573.34" y2="395.26" stroke="#ffffff" stroke-opacity="0.22" stroke-width="0.8"/>
<line x1="585.63" y1="260.40" x2="585.63" y2="395.26" stroke="#ffffff" stroke-opacity="0.22" stroke-width="0.8"/>
<line x1="499.60" y1="272.66" x2="597.92" y2="272.66" stroke="#ffffff" stroke-opacity="0.22" stroke-width="0.8"/>
<line x1="499.60" y1="284.92" x2="597.92" y2="284.92" stroke="#ffffff" stroke-opacity="0.22" stroke-width="0.8"/>
<line x1="499.60" y1="297.18" x2="597.92" y2="297.18" stroke="#ffffff" stroke-opacity="0.22" stroke-width="0.8"/>
<line x1="499.60" y1="309.44" x2="597.92" y2="309.44" stroke="#ffffff" stroke-opacity="0.22" stroke-width="0.8"/>
<line x1="499.60" y1="321.70" x2="597.92" y2="321.70" stroke="#ffffff" stroke-opacity="0.22" stroke-width="0.8"/>
<line x1="499.60" y1="333.96" x2="597.92" y2="333.96" stroke="#ffffff" stroke-opacity="0.22" stroke-width="0.8"/>
<line x1="499.60" y1="346.22" x2="597.92" y2="346.22" stroke="#ffffff" stroke-opacity="0.22" stroke-width="0.8"/>
<line x1="499.60" y1="358.48" x2="597.92" y2="358.48" stroke="#ffffff" stroke-opacity="0.22" stroke-width="0.8"/>
<line x1="499.60" y1="370.74" x2="597.92" y2="370.74" stroke="#ffffff" stroke-opacity="0.22" stroke-width="0.8"/>
<line x1="499.60" y1="383.00" x2="597.92" y2="383.00" stroke="#ffffff" stroke-opacity="0.22" stroke-width="0.8"/>
<line x1="415" y1="265.5" x2="415" y2="643.8" stroke="#d5dae2" stroke-width="1.6"/>
<polygon points="415,261.5 412,267.5 418,267.5" fill="#95a1b5"/>
<text x="419.20" y="454.60" font-size="7.5" fill="#5a6472" >UI</text>
<line x1="603.8" y1="263.8" x2="603.8" y2="394.6" stroke="#d5dae2" stroke-width="1.6"/>
<polygon points="603.8,259.8 600.8,265.8 606.8,265.8" fill="#95a1b5"/>
<text x="608.60" y="331.30" font-size="7.5" fill="#5a6472" >UI</text>
<line x1="311.9" y1="646.4" x2="357.2" y2="646.4" stroke="#b7bec9" stroke-width="1.1"/>
<line x1="361.2" y1="646.4" x2="407.1" y2="646.4" stroke="#b7bec9" stroke-width="1.1"/>
<line x1="501.1" y1="402.2" x2="546.7" y2="402.2" stroke="#b7bec9" stroke-width="1.1"/>
<line x1="550.4" y1="402.2" x2="596.5" y2="402.2" stroke="#b7bec9" stroke-width="1.1"/>
<text x="311.20" y="660.90" font-size="10.8" fill="#4a5466" textLength="47.10" lengthAdjust="spacingAndGlyphs" >OVCAR-3</text>
<text x="366.00" y="660.90" font-size="10.8" fill="#4a5466" textLength="36.10" lengthAdjust="spacingAndGlyphs" >Caov-3</text>
<text x="500.60" y="416.70" font-size="10.5" fill="#4a5466" textLength="46.90" lengthAdjust="spacingAndGlyphs" >OVCAR-3</text>
<text x="555.50" y="416.70" font-size="10.5" fill="#4a5466" textLength="35.90" lengthAdjust="spacingAndGlyphs" >Caov-3</text>
<defs><linearGradient id="cb" x1="0" y1="1" x2="0" y2="0"><stop offset="0.000" stop-color="#f5fafd"/><stop offset="0.083" stop-color="#e6f2f9"/><stop offset="0.167" stop-color="#d6ebf5"/><stop offset="0.250" stop-color="#c0dfee"/><stop offset="0.333" stop-color="#aad3e7"/><stop offset="0.417" stop-color="#91c4e0"/><stop offset="0.500" stop-color="#78b4d9"/><stop offset="0.583" stop-color="#64a2d1"/><stop offset="0.667" stop-color="#4f8fc9"/><stop offset="0.750" stop-color="#417aba"/><stop offset="0.833" stop-color="#3365ac"/><stop offset="0.917" stop-color="#285094"/><stop offset="1.000" stop-color="#1d3c7c"/></linearGradient></defs>
<rect x="632" y="289.4" width="19" height="96.4" fill="url(#cb)"/>
<text x="655.20" y="294.00" font-size="8.8" fill="#4a5466" >3</text>
<line x1="632" y1="306.90" x2="635.5" y2="306.90" stroke="#fff" stroke-opacity="0.6" stroke-width="0.8"/>
<line x1="647.5" y1="306.90" x2="651" y2="306.90" stroke="#fff" stroke-opacity="0.6" stroke-width="0.8"/>
<text x="655.20" y="310.10" font-size="8.8" fill="#4a5466" >2</text>
<line x1="632" y1="323.00" x2="635.5" y2="323.00" stroke="#fff" stroke-opacity="0.6" stroke-width="0.8"/>
<line x1="647.5" y1="323.00" x2="651" y2="323.00" stroke="#fff" stroke-opacity="0.6" stroke-width="0.8"/>
<text x="655.20" y="326.20" font-size="8.8" fill="#4a5466" >1</text>
<line x1="632" y1="339.10" x2="635.5" y2="339.10" stroke="#fff" stroke-opacity="0.6" stroke-width="0.8"/>
<line x1="647.5" y1="339.10" x2="651" y2="339.10" stroke="#fff" stroke-opacity="0.6" stroke-width="0.8"/>
<text x="655.20" y="342.30" font-size="8.8" fill="#4a5466" >0</text>
<line x1="632" y1="355.20" x2="635.5" y2="355.20" stroke="#fff" stroke-opacity="0.6" stroke-width="0.8"/>
<line x1="647.5" y1="355.20" x2="651" y2="355.20" stroke="#fff" stroke-opacity="0.6" stroke-width="0.8"/>
<text x="655.20" y="358.40" font-size="8.8" fill="#4a5466" >−1</text>
<line x1="632" y1="371.30" x2="635.5" y2="371.30" stroke="#fff" stroke-opacity="0.6" stroke-width="0.8"/>
<line x1="647.5" y1="371.30" x2="651" y2="371.30" stroke="#fff" stroke-opacity="0.6" stroke-width="0.8"/>
<text x="655.20" y="374.50" font-size="8.8" fill="#4a5466" >−2</text>
<text x="655.20" y="390.60" font-size="8.8" fill="#4a5466" >−3</text>
<text x="618.00" y="281.60" font-size="13" fill="#3d4859" textLength="49.70" lengthAdjust="spacingAndGlyphs" >Z−score</text>
<text x="455.30" y="473.60" font-size="10.6" fill="#5b6575" textLength="113.90" lengthAdjust="spacingAndGlyphs" >Unsaturation Index (UI)</text>
<text x="573.20" y="473.90" font-size="10.6" fill="#5b6575" textLength="4.90" lengthAdjust="spacingAndGlyphs" >=</text>
<text x="584.60" y="467.60" font-size="8" fill="#5b6575" textLength="77.80" lengthAdjust="spacingAndGlyphs" >Total # double bonds</text>
<line x1="586.6" y1="469.9" x2="666.9" y2="469.9" stroke="#c2c8d0" stroke-width="1"/>
<text x="591.50" y="476.90" font-size="8" fill="#5b6575" textLength="65.90" lengthAdjust="spacingAndGlyphs" >Total chain length</text>
<text x="488.60" y="541.70" font-size="8.9" fill="#3d4859" textLength="41.60" lengthAdjust="spacingAndGlyphs" >PC(40:10)</text>
<line x1="466.5" y1="554.4" x2="466.5" y2="640.5" stroke="#7f8898" stroke-width="1"/>
<line x1="466.5" y1="640.5" x2="552.2" y2="640.5" stroke="#7f8898" stroke-width="1"/>
<line x1="463.0" y1="554.4" x2="466.5" y2="554.4" stroke="#7f8898" stroke-width="1"/>
<text x="461.50" y="556.90" font-size="7" fill="#4a5466" text-anchor="end" textLength="16.40" lengthAdjust="spacingAndGlyphs" >6e+6</text>
<line x1="463.0" y1="583.3" x2="466.5" y2="583.3" stroke="#7f8898" stroke-width="1"/>
<text x="461.50" y="585.80" font-size="7" fill="#4a5466" text-anchor="end" textLength="16.40" lengthAdjust="spacingAndGlyphs" >4e+6</text>
<line x1="463.0" y1="611.7" x2="466.5" y2="611.7" stroke="#7f8898" stroke-width="1"/>
<text x="461.50" y="614.20" font-size="7" fill="#4a5466" text-anchor="end" textLength="16.40" lengthAdjust="spacingAndGlyphs" >2e+6</text>
<line x1="463.0" y1="640.3" x2="466.5" y2="640.3" stroke="#7f8898" stroke-width="1"/>
<text x="461.50" y="642.80" font-size="7" fill="#4a5466" text-anchor="end" textLength="4.00" lengthAdjust="spacingAndGlyphs" >0</text>
<line x1="491.5" y1="640.5" x2="491.5" y2="644.0" stroke="#7f8898" stroke-width="1"/>
<line x1="527.3" y1="640.5" x2="527.3" y2="644.0" stroke="#7f8898" stroke-width="1"/>
<text x="491.50" y="651.80" font-size="7.2" fill="#4a5466" text-anchor="middle" textLength="29.40" lengthAdjust="spacingAndGlyphs" >OVCAR-3</text>
<text x="527.30" y="651.80" font-size="7.2" fill="#4a5466" text-anchor="middle" textLength="22.50" lengthAdjust="spacingAndGlyphs" >Caov-3</text>
<polyline points="491.5,553.6 491.5,551.2 527.3,551.2 527.3,612.7" fill="none" stroke="#7c8594" stroke-width="0.8"/>
<text x="509.40" y="552.50" font-size="6.5" fill="#555" text-anchor="middle" >*</text>
<line x1="491.5" y1="558.8" x2="491.5" y2="600.4" stroke="#b092f8" stroke-width="1"/>
<line x1="484.5" y1="558.8" x2="498.5" y2="558.8" stroke="#c9b5fa" stroke-width="1.3"/>
<line x1="484.5" y1="600.4" x2="498.5" y2="600.4" stroke="#ad90f8" stroke-width="1.2"/>
<line x1="480.5" y1="586.2" x2="502.5" y2="586.2" stroke="#a282f6" stroke-width="1.2"/>
<circle cx="491.5" cy="558.8" r="1.95" fill="#9b6cf5"/>
<circle cx="491.5" cy="582.8" r="1.95" fill="#9b6cf5"/>
<circle cx="491.5" cy="589.4" r="1.95" fill="#9b6cf5"/>
<circle cx="491.5" cy="600.4" r="1.95" fill="#9b6cf5"/>
<line x1="527.3" y1="616.8" x2="527.3" y2="628.6" stroke="#7cc5ee" stroke-width="1"/>
<line x1="520.3" y1="616.8" x2="534.3" y2="616.8" stroke="#aadcf5" stroke-width="1.3"/>
<line x1="520.3" y1="628.6" x2="534.3" y2="628.6" stroke="#6fb0dc" stroke-width="1.2"/>
<line x1="516.3" y1="623" x2="538.3" y2="623" stroke="#aadcf5" stroke-width="1.3"/>
<circle cx="527.3" cy="616.8" r="1.95" fill="#4fb0e6"/>
<circle cx="527.3" cy="620" r="1.95" fill="#4fb0e6"/>
<circle cx="526" cy="625.6" r="1.95" fill="#4fb0e6"/>
<circle cx="529" cy="628.6" r="1.95" fill="#4fb0e6"/>
<text x="437.50" y="597.30" font-size="8.2" fill="#4a5466" text-anchor="middle" textLength="35.50" lengthAdjust="spacingAndGlyphs" transform="rotate(-90 437.50 597.30)" >Peak Area</text>
<text x="617.80" y="541.70" font-size="8.9" fill="#3d4859" textLength="45.70" lengthAdjust="spacingAndGlyphs" >PE(P−34:6)</text>
<line x1="597.5" y1="554.3" x2="597.5" y2="640.5" stroke="#7f8898" stroke-width="1"/>
<line x1="597.5" y1="640.5" x2="683" y2="640.5" stroke="#7f8898" stroke-width="1"/>
<line x1="594.0" y1="554.3" x2="597.5" y2="554.3" stroke="#7f8898" stroke-width="1"/>
<text x="592.50" y="556.80" font-size="7" fill="#4a5466" text-anchor="end" textLength="15.90" lengthAdjust="spacingAndGlyphs" >3e+5</text>
<line x1="594.0" y1="583.1" x2="597.5" y2="583.1" stroke="#7f8898" stroke-width="1"/>
<text x="592.50" y="585.60" font-size="7" fill="#4a5466" text-anchor="end" textLength="15.90" lengthAdjust="spacingAndGlyphs" >2e+5</text>
<line x1="594.0" y1="611.2" x2="597.5" y2="611.2" stroke="#7f8898" stroke-width="1"/>
<text x="592.50" y="613.70" font-size="7" fill="#4a5466" text-anchor="end" textLength="15.90" lengthAdjust="spacingAndGlyphs" >1e+5</text>
<line x1="594.0" y1="640.1" x2="597.5" y2="640.1" stroke="#7f8898" stroke-width="1"/>
<text x="592.50" y="642.60" font-size="7" fill="#4a5466" text-anchor="end" textLength="15.90" lengthAdjust="spacingAndGlyphs" >0e+0</text>
<line x1="622.6" y1="640.5" x2="622.6" y2="644.0" stroke="#7f8898" stroke-width="1"/>
<line x1="658.6" y1="640.5" x2="658.6" y2="644.0" stroke="#7f8898" stroke-width="1"/>
<text x="622.60" y="651.80" font-size="7.2" fill="#4a5466" text-anchor="middle" textLength="29.40" lengthAdjust="spacingAndGlyphs" >OVCAR-3</text>
<text x="658.60" y="651.80" font-size="7.2" fill="#4a5466" text-anchor="middle" textLength="22.50" lengthAdjust="spacingAndGlyphs" >Caov-3</text>
<polyline points="622.6,567 622.6,563.5 658.6,563.5 658.6,626.1" fill="none" stroke="#7c8594" stroke-width="0.8"/>
<text x="640.60" y="564.80" font-size="6.5" fill="#555" text-anchor="middle" >***</text>
<line x1="622.6" y1="571.6" x2="622.6" y2="585.5" stroke="#b092f8" stroke-width="1"/>
<line x1="615.6" y1="571.6" x2="629.6" y2="571.6" stroke="#c9b5fa" stroke-width="1.3"/>
<line x1="615.6" y1="585.5" x2="629.6" y2="585.5" stroke="#ad90f8" stroke-width="1.2"/>
<line x1="611.6" y1="584.1" x2="633.6" y2="584.1" stroke="#a282f6" stroke-width="1.2"/>
<circle cx="622.3" cy="571.6" r="1.95" fill="#9b6cf5"/>
<circle cx="618.9" cy="585.7" r="1.95" fill="#9b6cf5"/>
<circle cx="622.1" cy="584.1" r="1.95" fill="#9b6cf5"/>
<circle cx="625.5" cy="584.1" r="1.95" fill="#9b6cf5"/>
<line x1="658.6" y1="631" x2="658.6" y2="637.4" stroke="#7cc5ee" stroke-width="1"/>
<line x1="651.6" y1="631" x2="665.6" y2="631" stroke="#aadcf5" stroke-width="1.3"/>
<line x1="651.6" y1="637.4" x2="665.6" y2="637.4" stroke="#6fb0dc" stroke-width="1.2"/>
<line x1="647.6" y1="634.4" x2="669.6" y2="634.4" stroke="#aadcf5" stroke-width="1.3"/>
<circle cx="658.3" cy="631" r="1.95" fill="#4fb0e6"/>
<circle cx="656.4" cy="634.5" r="1.95" fill="#4fb0e6"/>
<circle cx="660.2" cy="634.2" r="1.95" fill="#4fb0e6"/>
<circle cx="658.3" cy="637.4" r="1.95" fill="#4fb0e6"/>
<text x="568.50" y="597.30" font-size="8.2" fill="#4a5466" text-anchor="middle" textLength="35.50" lengthAdjust="spacingAndGlyphs" transform="rotate(-90 568.50 597.30)" >Peak Area</text></svg></body></html>
